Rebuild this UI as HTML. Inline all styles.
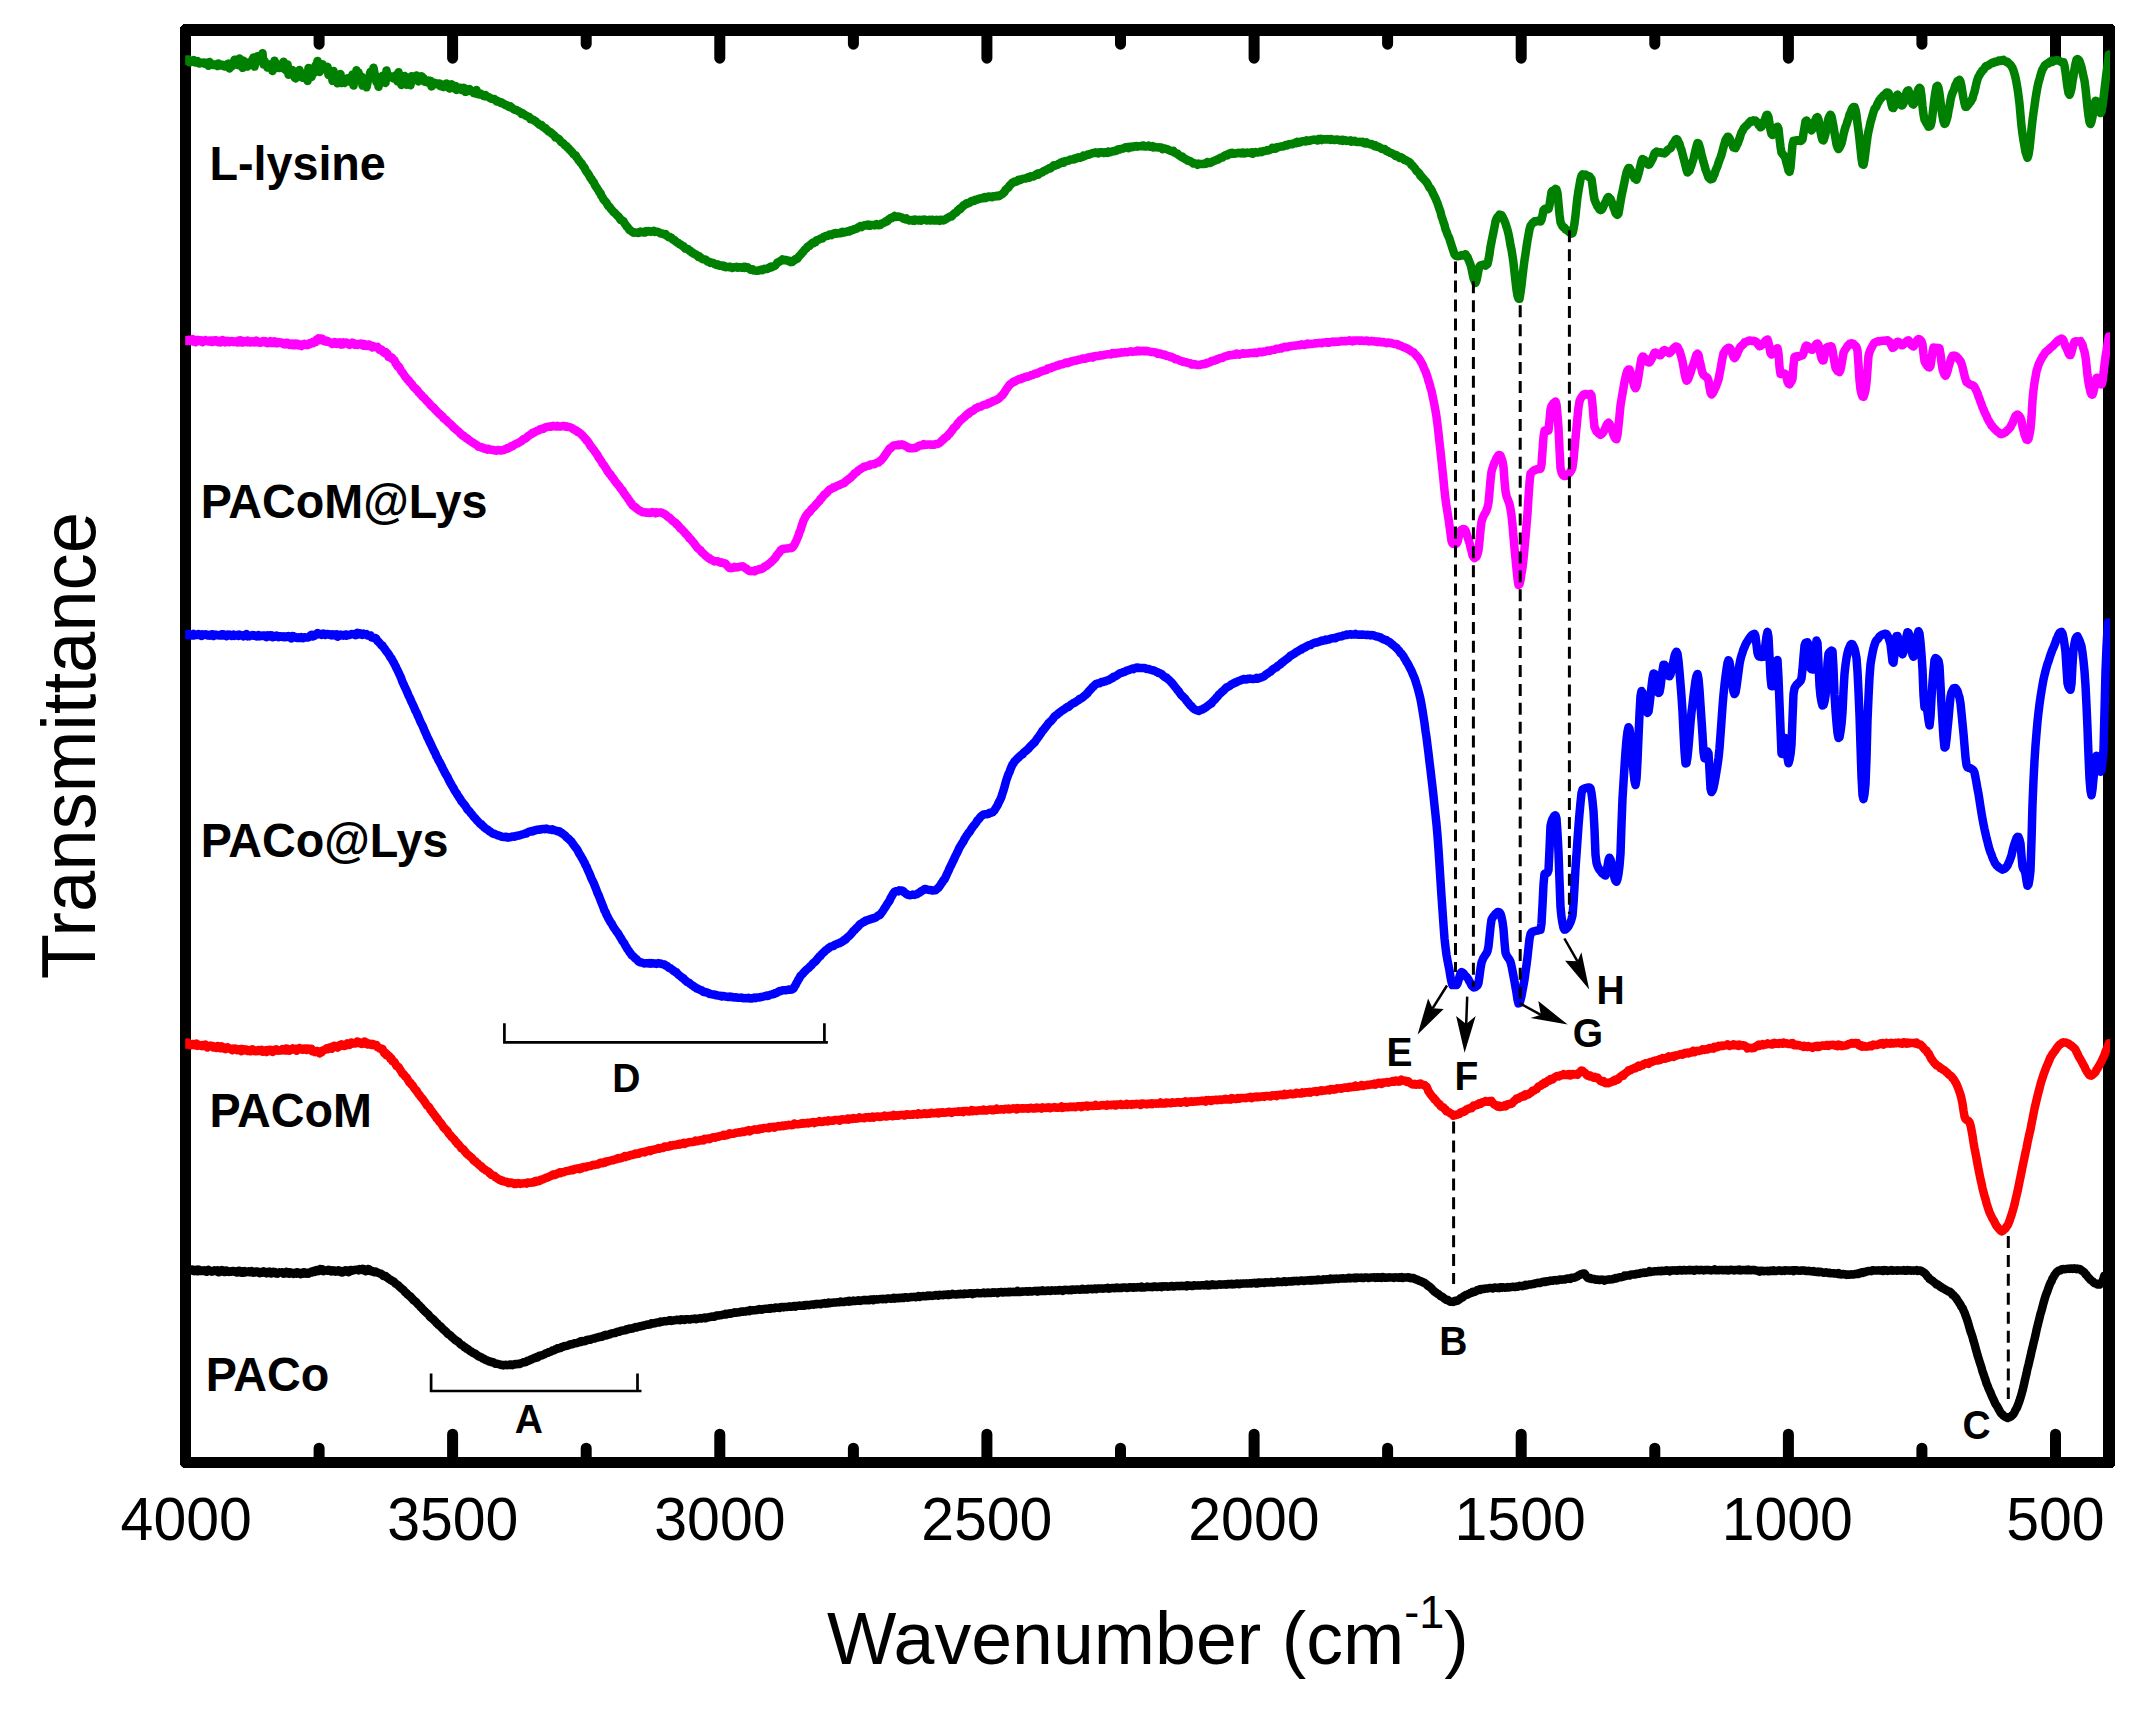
<!DOCTYPE html>
<html><head><meta charset="utf-8"><title>FTIR spectra</title>
<style>html,body{margin:0;padding:0;background:#fff}svg{display:block}text{font-family:"Liberation Sans",sans-serif;fill:#000}.b{font-weight:bold}</style></head><body>
<svg width="2146" height="1711" viewBox="0 0 2146 1711">
<rect width="2146" height="1711" fill="#fff"/>
<path fill-rule="evenodd" shape-rendering="crispEdges" d="M183 24 H2112 L2115 27 V1465 L2112 1468 H183 L180 1465 V27 Z M191 36 V1457 H2103 V36 Z" fill="#000"/>
<path d="M185.5 1462.5 V1434.2 M185.5 30.0 V58.2 M319.1 1462.5 V1448.2 M319.1 30.0 V44.2 M452.6 1462.5 V1434.2 M452.6 30.0 V58.2 M586.2 1462.5 V1448.2 M586.2 30.0 V44.2 M719.8 1462.5 V1434.2 M719.8 30.0 V58.2 M853.4 1462.5 V1448.2 M853.4 30.0 V44.2 M986.9 1462.5 V1434.2 M986.9 30.0 V58.2 M1120.5 1462.5 V1448.2 M1120.5 30.0 V44.2 M1254.1 1462.5 V1434.2 M1254.1 30.0 V58.2 M1387.6 1462.5 V1448.2 M1387.6 30.0 V44.2 M1521.2 1462.5 V1434.2 M1521.2 30.0 V58.2 M1654.8 1462.5 V1448.2 M1654.8 30.0 V44.2 M1788.4 1462.5 V1434.2 M1788.4 30.0 V58.2 M1921.9 1462.5 V1448.2 M1921.9 30.0 V44.2 M2055.5 1462.5 V1434.2 M2055.5 30.0 V58.2" stroke="#000" stroke-width="11" stroke-linecap="round" fill="none"/>
<text transform="translate(120.60 1539.80) scale(1 1.038)" font-size="59">4000</text>
<text transform="translate(387.15 1539.80) scale(1 1.038)" font-size="59">3500</text>
<text transform="translate(654.30 1539.80) scale(1 1.038)" font-size="59">3000</text>
<text transform="translate(921.14 1539.80) scale(1 1.038)" font-size="59">2500</text>
<text transform="translate(1188.29 1539.80) scale(1 1.038)" font-size="59">2000</text>
<text transform="translate(1454.54 1539.80) scale(1 1.038)" font-size="59">1500</text>
<text transform="translate(1721.69 1539.80) scale(1 1.038)" font-size="59">1000</text>
<text transform="translate(2006.23 1539.80) scale(1 1.038)" font-size="59">500</text>
<text transform="translate(826.97 1663.8) scale(1 1.012)" font-size="73.5">Wavenumber (cm<tspan font-size="45" dy="-35.8">-1</tspan><tspan dy="35.8">)</tspan></text>
<text transform="translate(95 979.28) rotate(-90) scale(1 1.012)" font-size="74.2">Transmittance</text>
<clipPath id="cp"><rect x="185.2" y="0" width="1924.8" height="1711"/></clipPath>
<g clip-path="url(#cp)" fill="none" stroke-width="8.5" stroke-linejoin="round">
<path d="M182.5 1270.2 L185.5 1270.2 L186.5 1269.9 L187.5 1270.1 L188.5 1271.3 L189.5 1270.3 L190.5 1270.7 L191.5 1269.4 L192.5 1269.4 L193.5 1271.0 L194.5 1271.2 L195.5 1271.0 L196.5 1269.7 L197.5 1271.3 L198.5 1269.5 L199.5 1270.9 L200.5 1270.3 L201.5 1271.0 L202.5 1270.8 L203.5 1271.1 L204.5 1270.3 L205.5 1270.5 L206.5 1271.8 L207.5 1270.8 L208.5 1269.9 L209.5 1270.6 L210.5 1270.8 L211.5 1271.7 L212.5 1271.5 L213.5 1271.2 L214.5 1270.3 L215.5 1270.9 L216.5 1271.0 L217.5 1270.2 L218.5 1272.3 L219.5 1271.4 L220.5 1271.7 L221.5 1270.1 L222.5 1271.6 L223.5 1270.6 L224.5 1272.1 L225.5 1271.3 L226.5 1270.6 L227.5 1271.5 L228.5 1272.0 L229.5 1271.7 L230.5 1271.2 L231.5 1271.7 L232.5 1271.0 L233.5 1271.0 L234.5 1271.8 L235.5 1271.6 L236.5 1272.4 L237.5 1272.4 L238.5 1270.8 L239.5 1270.8 L240.5 1271.5 L241.5 1272.8 L242.5 1271.2 L243.5 1272.7 L244.5 1271.1 L245.5 1272.3 L246.5 1271.7 L247.5 1272.0 L248.5 1271.4 L249.5 1272.2 L250.5 1272.3 L251.5 1271.1 L252.5 1272.6 L253.5 1272.7 L254.5 1272.5 L255.5 1271.6 L256.5 1271.4 L257.5 1271.5 L258.5 1272.6 L259.5 1273.2 L260.5 1272.2 L261.5 1272.0 L262.5 1272.8 L263.5 1271.3 L264.5 1272.3 L265.5 1272.0 L266.5 1273.4 L267.5 1271.9 L268.5 1273.0 L269.5 1271.6 L270.5 1272.7 L271.5 1273.4 L272.5 1272.2 L273.5 1271.8 L274.5 1272.0 L275.5 1273.4 L276.5 1272.6 L277.5 1273.5 L278.5 1272.6 L279.5 1272.3 L280.5 1272.5 L281.5 1272.3 L282.5 1272.3 L283.5 1273.7 L284.5 1273.6 L285.5 1272.7 L286.5 1271.8 L287.5 1273.4 L288.5 1272.3 L289.5 1273.8 L290.5 1272.4 L291.5 1272.9 L292.5 1272.9 L293.5 1273.8 L294.5 1273.1 L295.5 1272.6 L296.5 1273.8 L297.5 1272.2 L298.5 1272.9 L299.5 1272.8 L300.5 1274.1 L301.5 1273.6 L302.5 1273.8 L303.5 1272.3 L304.5 1272.2 L305.5 1273.6 L306.5 1273.7 L307.5 1272.8 L308.5 1273.5 L309.5 1272.6 L310.5 1272.7 L311.5 1271.7 L312.5 1272.4 L313.5 1271.0 L314.5 1272.0 L315.5 1270.8 L316.5 1270.1 L317.5 1271.2 L318.5 1271.1 L319.5 1270.8 L320.5 1268.9 L321.5 1270.2 L322.5 1269.3 L323.5 1271.1 L324.5 1270.8 L325.5 1270.5 L326.5 1270.3 L327.5 1270.7 L328.5 1269.8 L329.5 1270.0 L330.5 1271.2 L331.5 1271.5 L332.5 1270.4 L333.5 1271.2 L334.5 1270.4 L335.5 1271.7 L336.5 1271.5 L337.5 1271.1 L338.5 1270.2 L339.5 1271.3 L340.5 1272.2 L341.5 1271.0 L342.5 1272.5 L343.5 1271.1 L344.5 1271.6 L345.5 1270.3 L346.5 1271.3 L347.5 1270.7 L348.5 1272.2 L349.5 1271.7 L350.5 1270.0 L351.5 1270.0 L352.5 1270.7 L353.5 1270.2 L354.5 1270.1 L355.5 1269.8 L356.5 1269.8 L357.5 1269.5 L358.5 1270.4 L359.5 1269.1 L360.5 1269.5 L361.5 1269.9 L362.5 1268.7 L363.5 1269.0 L364.5 1269.4 L365.5 1271.3 L366.5 1269.7 L367.5 1270.8 L368.5 1268.9 L369.5 1270.2 L370.5 1270.8 L371.5 1271.4 L372.5 1271.0 L373.5 1271.8 L374.5 1272.2 L375.5 1271.5 L376.5 1272.1 L377.5 1272.7 L378.5 1272.9 L379.5 1273.6 L380.5 1273.5 L381.5 1274.1 L382.5 1275.1 L383.5 1276.0 L384.5 1275.8 L385.5 1276.0 L386.5 1277.2 L387.5 1277.5 L388.5 1278.7 L389.5 1279.0 L390.5 1280.0 L391.5 1280.2 L392.5 1281.2 L393.5 1281.4 L394.5 1282.3 L395.5 1283.6 L396.5 1284.2 L397.5 1284.8 L398.5 1285.6 L399.5 1286.8 L400.5 1287.6 L401.5 1288.6 L402.5 1289.3 L403.5 1290.0 L404.5 1291.4 L405.5 1292.4 L406.5 1293.1 L407.5 1294.4 L408.5 1295.1 L409.5 1296.0 L410.5 1296.4 L411.5 1298.1 L412.5 1298.7 L413.5 1300.4 L414.5 1300.8 L415.5 1301.6 L416.5 1302.5 L417.5 1303.9 L418.5 1304.8 L419.5 1305.6 L420.5 1307.0 L421.5 1307.7 L422.5 1308.9 L423.5 1309.9 L424.5 1310.9 L425.5 1311.9 L426.5 1313.0 L427.5 1313.7 L428.5 1314.6 L429.5 1316.2 L430.5 1317.4 L431.5 1317.9 L432.5 1319.0 L433.5 1319.4 L434.5 1320.8 L435.5 1321.7 L436.5 1323.1 L437.5 1323.6 L438.5 1325.0 L439.5 1325.8 L440.5 1326.3 L441.5 1327.6 L442.5 1328.6 L443.5 1329.7 L444.5 1330.2 L445.5 1331.4 L446.5 1332.1 L447.5 1333.5 L448.5 1334.4 L449.5 1334.8 L450.5 1335.5 L451.5 1336.7 L452.5 1337.4 L453.5 1338.4 L454.5 1339.3 L455.5 1340.3 L456.5 1340.6 L457.5 1341.7 L458.5 1341.9 L459.5 1343.3 L460.5 1344.2 L461.5 1344.9 L462.5 1345.3 L463.5 1346.2 L464.5 1347.3 L465.5 1347.5 L466.5 1348.7 L467.5 1348.8 L468.5 1349.8 L469.5 1350.4 L470.5 1351.3 L471.5 1351.7 L472.5 1352.6 L473.5 1353.2 L474.5 1353.3 L475.5 1353.8 L476.5 1354.9 L477.5 1355.5 L478.5 1356.4 L479.5 1356.5 L480.5 1357.1 L481.5 1357.4 L482.5 1358.5 L483.5 1358.6 L484.5 1359.1 L485.5 1359.9 L486.5 1360.1 L487.5 1360.6 L488.5 1360.8 L489.5 1361.6 L490.5 1361.4 L491.5 1362.2 L492.5 1361.9 L493.5 1362.5 L494.5 1363.3 L495.5 1363.7 L496.5 1363.6 L497.5 1363.8 L498.5 1364.1 L499.5 1364.3 L500.5 1364.6 L501.5 1365.1 L502.5 1364.9 L503.5 1365.4 L504.5 1365.0 L505.5 1364.8 L506.5 1364.9 L507.5 1365.2 L508.5 1365.0 L509.5 1364.5 L510.5 1365.0 L511.5 1364.5 L512.5 1365.1 L513.5 1364.5 L514.5 1364.4 L515.5 1363.9 L516.5 1364.3 L517.5 1363.9 L518.5 1363.8 L519.5 1364.0 L520.5 1363.6 L521.5 1363.0 L522.5 1362.7 L523.5 1362.3 L524.5 1362.3 L525.5 1362.1 L526.5 1361.6 L527.5 1360.7 L528.5 1360.8 L529.5 1360.4 L530.5 1359.6 L531.5 1359.4 L532.5 1358.7 L533.5 1358.6 L534.5 1357.8 L535.5 1358.0 L536.5 1357.1 L537.5 1357.4 L538.5 1356.6 L539.5 1355.8 L540.5 1355.4 L541.5 1355.5 L542.5 1355.2 L543.5 1354.6 L544.5 1354.2 L545.5 1353.5 L546.5 1353.1 L547.5 1352.9 L548.5 1352.2 L549.5 1352.0 L550.5 1351.7 L551.5 1351.2 L552.5 1350.5 L553.5 1350.3 L554.5 1350.2 L555.5 1349.3 L556.5 1349.2 L557.5 1348.2 L558.5 1348.4 L559.5 1348.1 L560.5 1348.1 L561.5 1347.0 L562.5 1346.9 L563.5 1346.6 L564.5 1346.0 L565.5 1346.0 L566.5 1345.8 L567.5 1345.6 L568.5 1345.2 L569.5 1344.8 L570.5 1344.2 L571.5 1344.2 L572.5 1344.3 L573.5 1343.6 L574.5 1343.2 L575.5 1343.3 L576.5 1342.9 L577.5 1342.9 L578.5 1342.3 L579.5 1342.2 L580.5 1341.4 L581.5 1341.9 L582.5 1341.0 L583.5 1341.3 L584.5 1341.2 L585.5 1340.9 L586.5 1340.1 L587.5 1339.8 L588.5 1339.9 L589.5 1339.5 L590.5 1339.7 L591.5 1339.0 L592.5 1338.7 L593.5 1338.6 L594.5 1338.5 L595.5 1337.9 L596.5 1337.7 L597.5 1337.6 L598.5 1337.1 L599.5 1336.8 L600.5 1336.9 L601.5 1336.3 L602.5 1336.6 L603.5 1335.7 L604.5 1335.3 L605.5 1334.8 L606.5 1335.4 L607.5 1334.9 L608.5 1334.5 L609.5 1334.4 L610.5 1333.7 L611.5 1333.6 L612.5 1333.2 L613.5 1333.2 L614.5 1332.7 L615.5 1332.9 L616.5 1332.1 L617.5 1331.7 L618.5 1331.8 L619.5 1331.7 L620.5 1331.0 L621.5 1330.8 L622.5 1330.4 L623.5 1330.4 L624.5 1330.3 L625.5 1330.3 L626.5 1329.3 L627.5 1329.5 L628.5 1328.9 L629.5 1328.6 L630.5 1328.5 L631.5 1328.7 L632.5 1328.5 L633.5 1327.8 L634.5 1327.8 L635.5 1327.0 L636.5 1327.5 L637.5 1327.1 L638.5 1326.7 L639.5 1326.2 L640.5 1326.5 L641.5 1326.2 L642.5 1325.8 L643.5 1325.7 L644.5 1325.3 L645.5 1324.9 L646.5 1324.9 L647.5 1324.4 L648.5 1324.7 L649.5 1324.5 L650.5 1324.3 L651.5 1323.3 L652.5 1323.4 L653.5 1323.4 L654.5 1323.1 L655.5 1323.2 L656.5 1322.6 L657.5 1322.6 L658.5 1322.2 L659.5 1322.4 L660.5 1321.6 L661.5 1321.9 L662.5 1321.7 L663.5 1321.3 L664.5 1321.1 L665.5 1321.3 L666.5 1321.2 L667.5 1321.0 L668.5 1320.7 L669.5 1320.3 L670.5 1320.2 L671.5 1320.9 L672.5 1320.4 L673.5 1320.4 L674.5 1320.3 L675.5 1320.1 L676.5 1319.8 L677.5 1319.8 L678.5 1320.1 L679.5 1319.7 L680.5 1320.2 L681.5 1319.3 L682.5 1319.6 L683.5 1319.6 L684.5 1319.9 L685.5 1319.2 L686.5 1319.2 L687.5 1319.3 L688.5 1319.3 L689.5 1319.5 L690.5 1319.4 L691.5 1319.0 L692.5 1319.1 L693.5 1318.8 L694.5 1318.6 L695.5 1318.7 L696.5 1319.3 L697.5 1318.8 L698.5 1318.4 L699.5 1318.5 L700.5 1318.1 L701.5 1318.5 L702.5 1318.1 L703.5 1318.1 L704.5 1317.5 L705.5 1318.2 L706.5 1317.5 L707.5 1317.5 L708.5 1317.4 L709.5 1317.2 L710.5 1316.8 L711.5 1316.6 L712.5 1316.7 L713.5 1316.6 L714.5 1316.7 L715.5 1316.2 L716.5 1315.4 L717.5 1315.6 L718.5 1315.6 L719.5 1315.4 L720.5 1315.2 L721.5 1315.1 L722.5 1314.8 L723.5 1314.4 L724.5 1314.6 L725.5 1313.8 L726.5 1314.4 L727.5 1313.8 L728.5 1313.7 L729.5 1313.2 L730.5 1313.8 L731.5 1313.4 L732.5 1313.0 L733.5 1312.9 L734.5 1312.3 L735.5 1312.6 L736.5 1312.7 L737.5 1312.5 L738.5 1312.2 L739.5 1312.3 L740.5 1311.9 L741.5 1311.4 L742.5 1311.6 L743.5 1311.7 L744.5 1311.4 L745.5 1311.5 L746.5 1310.9 L747.5 1311.1 L748.5 1310.9 L749.5 1311.2 L750.5 1310.1 L751.5 1310.5 L752.5 1310.3 L753.5 1310.3 L754.5 1310.3 L755.5 1310.2 L756.5 1310.0 L757.5 1309.6 L758.5 1309.7 L759.5 1309.1 L760.5 1309.6 L761.5 1309.7 L762.5 1309.3 L763.5 1308.9 L764.5 1308.9 L765.5 1308.8 L766.5 1308.8 L767.5 1308.7 L768.5 1308.6 L769.5 1308.2 L770.5 1308.8 L771.5 1308.1 L772.5 1308.3 L773.5 1308.1 L774.5 1308.2 L775.5 1307.4 L776.5 1307.6 L777.5 1307.8 L778.5 1307.7 L779.5 1308.0 L780.5 1307.2 L781.5 1307.1 L782.5 1307.0 L783.5 1307.4 L784.5 1306.9 L785.5 1307.1 L786.5 1307.1 L787.5 1306.8 L788.5 1306.6 L789.5 1306.7 L790.5 1306.4 L791.5 1306.7 L792.5 1306.4 L793.5 1306.2 L794.5 1305.9 L795.5 1306.7 L796.5 1306.1 L797.5 1306.0 L798.5 1305.7 L799.5 1305.6 L800.5 1305.7 L801.5 1305.7 L802.5 1305.8 L803.5 1305.3 L804.5 1305.8 L805.5 1304.9 L806.5 1304.9 L807.5 1305.0 L808.5 1305.3 L809.5 1304.9 L810.5 1304.8 L811.5 1304.6 L812.5 1304.5 L813.5 1304.7 L814.5 1304.6 L815.5 1303.9 L816.5 1304.2 L817.5 1304.1 L818.5 1304.1 L819.5 1303.9 L820.5 1304.2 L821.5 1303.8 L822.5 1303.4 L823.5 1303.5 L824.5 1303.0 L825.5 1303.7 L826.5 1303.5 L827.5 1303.4 L828.5 1302.6 L829.5 1303.2 L830.5 1302.8 L831.5 1302.8 L832.5 1302.7 L833.5 1302.6 L834.5 1302.5 L835.5 1302.6 L836.5 1302.4 L837.5 1302.2 L838.5 1302.3 L839.5 1302.2 L840.5 1301.5 L841.5 1301.9 L842.5 1302.0 L843.5 1302.0 L844.5 1301.9 L845.5 1301.5 L846.5 1301.3 L847.5 1301.1 L848.5 1301.7 L849.5 1300.9 L850.5 1301.5 L851.5 1301.2 L852.5 1301.1 L853.5 1300.6 L854.5 1301.0 L855.5 1300.9 L856.5 1300.8 L857.5 1300.7 L858.5 1300.3 L859.5 1300.5 L860.5 1300.9 L861.5 1300.5 L862.5 1300.2 L863.5 1300.1 L864.5 1300.2 L865.5 1299.9 L866.5 1300.2 L867.5 1300.2 L868.5 1299.9 L869.5 1300.2 L870.5 1299.4 L871.5 1299.6 L872.5 1299.5 L873.5 1300.2 L874.5 1299.3 L875.5 1299.5 L876.5 1299.3 L877.5 1299.4 L878.5 1299.4 L879.5 1299.2 L880.5 1299.0 L881.5 1298.9 L882.5 1299.2 L883.5 1298.8 L884.5 1299.0 L885.5 1299.2 L886.5 1298.8 L887.5 1298.4 L888.5 1298.4 L889.5 1298.5 L890.5 1298.8 L891.5 1298.7 L892.5 1298.5 L893.5 1297.8 L894.5 1298.6 L895.5 1297.9 L896.5 1298.2 L897.5 1297.9 L898.5 1298.2 L899.5 1297.8 L900.5 1297.9 L901.5 1297.9 L902.5 1297.6 L903.5 1298.0 L904.5 1297.4 L905.5 1297.2 L906.5 1297.3 L907.5 1297.8 L908.5 1297.5 L909.5 1297.3 L910.5 1297.2 L911.5 1296.9 L912.5 1296.9 L913.5 1297.1 L914.5 1296.7 L915.5 1297.2 L916.5 1296.8 L917.5 1296.8 L918.5 1296.1 L919.5 1296.9 L920.5 1296.4 L921.5 1296.4 L922.5 1296.2 L923.5 1296.0 L924.5 1296.3 L925.5 1296.3 L926.5 1296.3 L927.5 1295.6 L928.5 1296.0 L929.5 1295.6 L930.5 1295.6 L931.5 1295.8 L932.5 1295.9 L933.5 1295.7 L934.5 1295.5 L935.5 1295.1 L936.5 1295.1 L937.5 1295.3 L938.5 1295.7 L939.5 1294.8 L940.5 1295.2 L941.5 1295.0 L942.5 1295.2 L943.5 1294.8 L944.5 1294.9 L945.5 1294.7 L946.5 1294.6 L947.5 1294.9 L948.5 1294.3 L949.5 1294.9 L950.5 1294.7 L951.5 1294.6 L952.5 1293.8 L953.5 1294.3 L954.5 1294.3 L955.5 1294.4 L956.5 1294.5 L957.5 1294.1 L958.5 1293.9 L959.5 1294.2 L960.5 1293.8 L961.5 1293.9 L962.5 1293.9 L963.5 1294.2 L964.5 1293.5 L965.5 1293.9 L966.5 1293.7 L967.5 1293.8 L968.5 1293.8 L969.5 1293.3 L970.5 1293.3 L971.5 1293.3 L972.5 1294.1 L973.5 1293.3 L974.5 1293.6 L975.5 1293.2 L976.5 1293.2 L977.5 1293.0 L978.5 1293.2 L979.5 1293.2 L980.5 1293.3 L981.5 1293.3 L982.5 1292.8 L983.5 1292.6 L984.5 1293.3 L985.5 1292.9 L986.5 1292.9 L987.5 1292.6 L988.5 1292.9 L989.5 1292.8 L990.5 1293.0 L991.5 1292.8 L992.5 1292.3 L993.5 1292.8 L994.5 1292.2 L995.5 1292.5 L996.5 1292.4 L997.5 1293.1 L998.5 1292.3 L999.5 1292.3 L1000.5 1292.0 L1001.5 1292.1 L1002.5 1292.4 L1003.5 1292.4 L1004.5 1292.0 L1005.5 1292.1 L1006.5 1292.3 L1007.5 1292.1 L1008.5 1291.8 L1009.5 1292.2 L1010.5 1291.8 L1011.5 1291.9 L1012.5 1291.9 L1013.5 1291.8 L1014.5 1292.1 L1015.5 1292.0 L1016.5 1291.9 L1017.5 1291.0 L1018.5 1291.9 L1019.5 1291.6 L1020.5 1291.9 L1021.5 1291.6 L1022.5 1291.7 L1023.5 1291.4 L1024.5 1291.5 L1025.5 1291.4 L1026.5 1291.2 L1027.5 1291.7 L1028.5 1291.6 L1029.5 1291.1 L1030.5 1291.3 L1031.5 1291.4 L1032.5 1291.4 L1033.5 1291.2 L1034.5 1291.0 L1035.5 1290.8 L1036.5 1291.1 L1037.5 1291.6 L1038.5 1290.9 L1039.5 1291.3 L1040.5 1290.8 L1041.5 1291.0 L1042.5 1290.4 L1043.5 1291.1 L1044.5 1290.9 L1045.5 1291.1 L1046.5 1290.9 L1047.5 1290.5 L1048.5 1290.6 L1049.5 1290.8 L1050.5 1290.9 L1051.5 1290.3 L1052.5 1290.6 L1053.5 1290.6 L1054.5 1290.5 L1055.5 1290.7 L1056.5 1290.5 L1057.5 1290.3 L1058.5 1290.4 L1059.5 1290.1 L1060.5 1290.2 L1061.5 1290.3 L1062.5 1290.9 L1063.5 1289.9 L1064.5 1290.1 L1065.5 1289.7 L1066.5 1290.1 L1067.5 1290.0 L1068.5 1290.2 L1069.5 1289.9 L1070.5 1289.8 L1071.5 1290.2 L1072.5 1289.5 L1073.5 1289.7 L1074.5 1289.8 L1075.5 1289.7 L1076.5 1289.4 L1077.5 1289.5 L1078.5 1289.6 L1079.5 1289.7 L1080.5 1289.7 L1081.5 1289.2 L1082.5 1288.8 L1083.5 1289.4 L1084.5 1289.2 L1085.5 1289.5 L1086.5 1289.1 L1087.5 1289.5 L1088.5 1288.7 L1089.5 1289.0 L1090.5 1288.8 L1091.5 1288.8 L1092.5 1289.2 L1093.5 1288.9 L1094.5 1288.7 L1095.5 1288.5 L1096.5 1289.2 L1097.5 1288.6 L1098.5 1288.6 L1099.5 1288.4 L1100.5 1288.4 L1101.5 1288.5 L1102.5 1288.7 L1103.5 1288.4 L1104.5 1288.4 L1105.5 1288.3 L1106.5 1288.2 L1107.5 1287.7 L1108.5 1288.6 L1109.5 1288.3 L1110.5 1288.5 L1111.5 1288.0 L1112.5 1288.0 L1113.5 1287.9 L1114.5 1288.2 L1115.5 1288.1 L1116.5 1287.5 L1117.5 1288.1 L1118.5 1287.8 L1119.5 1288.0 L1120.5 1287.7 L1121.5 1288.0 L1122.5 1287.6 L1123.5 1287.6 L1124.5 1287.5 L1125.5 1287.5 L1126.5 1287.9 L1127.5 1288.1 L1128.5 1287.4 L1129.5 1287.3 L1130.5 1287.3 L1131.5 1287.6 L1132.5 1287.3 L1133.5 1287.7 L1134.5 1287.3 L1135.5 1287.4 L1136.5 1287.5 L1137.5 1287.1 L1138.5 1287.3 L1139.5 1287.3 L1140.5 1287.4 L1141.5 1286.6 L1142.5 1287.4 L1143.5 1287.2 L1144.5 1287.5 L1145.5 1287.2 L1146.5 1286.9 L1147.5 1286.6 L1148.5 1287.0 L1149.5 1287.1 L1150.5 1286.9 L1151.5 1287.1 L1152.5 1287.2 L1153.5 1286.5 L1154.5 1286.7 L1155.5 1286.6 L1156.5 1286.9 L1157.5 1286.9 L1158.5 1286.8 L1159.5 1286.5 L1160.5 1286.5 L1161.5 1287.1 L1162.5 1286.3 L1163.5 1286.6 L1164.5 1286.2 L1165.5 1286.6 L1166.5 1286.3 L1167.5 1286.8 L1168.5 1286.4 L1169.5 1286.4 L1170.5 1286.4 L1171.5 1285.9 L1172.5 1285.9 L1173.5 1286.5 L1174.5 1286.5 L1175.5 1286.2 L1176.5 1286.0 L1177.5 1286.1 L1178.5 1285.9 L1179.5 1286.2 L1180.5 1286.0 L1181.5 1285.7 L1182.5 1286.1 L1183.5 1285.9 L1184.5 1286.0 L1185.5 1285.7 L1186.5 1286.3 L1187.5 1285.4 L1188.5 1285.7 L1189.5 1285.4 L1190.5 1285.8 L1191.5 1285.9 L1192.5 1286.0 L1193.5 1285.4 L1194.5 1285.2 L1195.5 1285.6 L1196.5 1285.4 L1197.5 1285.4 L1198.5 1285.6 L1199.5 1285.4 L1200.5 1285.4 L1201.5 1285.3 L1202.5 1285.2 L1203.5 1285.2 L1204.5 1285.4 L1205.5 1285.2 L1206.5 1284.6 L1207.5 1285.4 L1208.5 1285.1 L1209.5 1285.4 L1210.5 1284.7 L1211.5 1285.0 L1212.5 1284.4 L1213.5 1285.0 L1214.5 1284.9 L1215.5 1284.7 L1216.5 1285.1 L1217.5 1284.8 L1218.5 1284.5 L1219.5 1284.2 L1220.5 1284.7 L1221.5 1284.6 L1222.5 1284.6 L1223.5 1284.5 L1224.5 1284.2 L1225.5 1284.5 L1226.5 1284.7 L1227.5 1284.1 L1228.5 1284.1 L1229.5 1284.1 L1230.5 1284.3 L1231.5 1283.8 L1232.5 1284.5 L1233.5 1284.0 L1234.5 1284.2 L1235.5 1283.8 L1236.5 1283.6 L1237.5 1283.6 L1238.5 1284.1 L1239.5 1284.2 L1240.5 1283.5 L1241.5 1283.8 L1242.5 1283.5 L1243.5 1283.6 L1244.5 1283.5 L1245.5 1283.5 L1246.5 1283.3 L1247.5 1283.5 L1248.5 1283.5 L1249.5 1283.2 L1250.5 1283.3 L1251.5 1283.6 L1252.5 1282.9 L1253.5 1283.0 L1254.5 1282.8 L1255.5 1283.4 L1256.5 1283.1 L1257.5 1283.4 L1258.5 1282.6 L1259.5 1282.6 L1260.5 1282.9 L1261.5 1282.6 L1262.5 1282.8 L1263.5 1282.8 L1264.5 1283.0 L1265.5 1282.3 L1266.5 1282.6 L1267.5 1282.3 L1268.5 1282.5 L1269.5 1282.6 L1270.5 1282.2 L1271.5 1281.9 L1272.5 1282.4 L1273.5 1282.5 L1274.5 1282.3 L1275.5 1281.9 L1276.5 1282.1 L1277.5 1281.5 L1278.5 1282.1 L1279.5 1281.8 L1280.5 1282.0 L1281.5 1282.0 L1282.5 1281.9 L1283.5 1281.4 L1284.5 1281.2 L1285.5 1282.0 L1286.5 1281.4 L1287.5 1281.7 L1288.5 1281.2 L1289.5 1281.5 L1290.5 1281.3 L1291.5 1281.6 L1292.5 1281.1 L1293.5 1281.0 L1294.5 1281.2 L1295.5 1281.0 L1296.5 1280.8 L1297.5 1281.3 L1298.5 1281.1 L1299.5 1281.0 L1300.5 1280.5 L1301.5 1280.6 L1302.5 1280.4 L1303.5 1281.1 L1304.5 1280.9 L1305.5 1280.4 L1306.5 1280.6 L1307.5 1280.3 L1308.5 1280.5 L1309.5 1280.1 L1310.5 1280.6 L1311.5 1280.0 L1312.5 1280.4 L1313.5 1280.1 L1314.5 1280.0 L1315.5 1280.2 L1316.5 1280.3 L1317.5 1279.7 L1318.5 1279.5 L1319.5 1279.9 L1320.5 1280.0 L1321.5 1279.8 L1322.5 1279.9 L1323.5 1279.3 L1324.5 1279.4 L1325.5 1279.4 L1326.5 1279.3 L1327.5 1279.3 L1328.5 1279.6 L1329.5 1279.6 L1330.5 1278.7 L1331.5 1279.3 L1332.5 1278.8 L1333.5 1279.3 L1334.5 1278.8 L1335.5 1278.9 L1336.5 1278.5 L1337.5 1279.0 L1338.5 1279.0 L1339.5 1278.5 L1340.5 1278.6 L1341.5 1278.5 L1342.5 1278.3 L1343.5 1278.3 L1344.5 1278.5 L1345.5 1278.6 L1346.5 1278.4 L1347.5 1278.3 L1348.5 1277.7 L1349.5 1277.9 L1350.5 1278.4 L1351.5 1278.0 L1352.5 1278.1 L1353.5 1277.8 L1354.5 1278.2 L1355.5 1277.6 L1356.5 1278.2 L1357.5 1277.5 L1358.5 1277.8 L1359.5 1277.8 L1360.5 1277.7 L1361.5 1277.6 L1362.5 1278.0 L1363.5 1278.1 L1364.5 1277.5 L1365.5 1277.5 L1366.5 1277.4 L1367.5 1277.6 L1368.5 1278.0 L1369.5 1277.8 L1370.5 1277.5 L1371.5 1277.6 L1372.5 1277.6 L1373.5 1277.4 L1374.5 1277.3 L1375.5 1277.9 L1376.5 1277.3 L1377.5 1277.7 L1378.5 1277.3 L1379.5 1277.7 L1380.5 1277.5 L1381.5 1277.9 L1382.5 1277.1 L1383.5 1277.2 L1384.5 1277.7 L1385.5 1277.6 L1386.5 1277.8 L1387.5 1277.6 L1388.5 1277.6 L1389.5 1277.2 L1390.5 1277.5 L1391.5 1277.4 L1392.5 1277.5 L1393.5 1277.9 L1394.5 1277.6 L1395.5 1277.2 L1396.5 1277.5 L1397.5 1277.6 L1398.5 1277.7 L1399.5 1277.3 L1400.5 1277.7 L1401.5 1277.1 L1402.5 1278.0 L1403.5 1277.6 L1404.5 1277.5 L1405.5 1277.5 L1406.5 1277.5 L1407.5 1277.3 L1408.5 1277.2 L1409.5 1278.0 L1410.5 1277.8 L1411.5 1278.2 L1412.5 1278.0 L1413.5 1278.1 L1414.5 1278.6 L1415.5 1279.4 L1416.5 1279.5 L1417.5 1279.7 L1418.5 1280.4 L1419.5 1280.9 L1420.5 1280.9 L1421.5 1281.8 L1422.5 1281.8 L1423.5 1282.6 L1424.5 1282.9 L1425.5 1283.7 L1426.5 1284.2 L1427.5 1285.6 L1428.5 1286.3 L1429.5 1286.5 L1430.5 1287.6 L1431.5 1288.4 L1432.5 1289.7 L1433.5 1290.5 L1434.5 1291.7 L1435.5 1292.0 L1436.5 1293.1 L1437.5 1293.8 L1438.5 1294.2 L1439.5 1295.1 L1440.5 1296.1 L1441.5 1296.4 L1442.5 1297.0 L1443.5 1297.7 L1444.5 1298.7 L1445.5 1299.1 L1446.5 1300.0 L1447.5 1299.7 L1448.5 1300.6 L1449.5 1301.3 L1450.5 1301.7 L1451.5 1301.7 L1452.5 1301.8 L1453.5 1301.9 L1454.5 1301.0 L1455.5 1301.3 L1456.5 1300.6 L1457.5 1300.7 L1458.5 1300.0 L1459.5 1299.3 L1460.5 1298.1 L1461.5 1297.9 L1462.5 1297.4 L1463.5 1296.4 L1464.5 1295.8 L1465.5 1295.3 L1466.5 1294.7 L1467.5 1294.6 L1468.5 1294.0 L1469.5 1293.6 L1470.5 1293.0 L1471.5 1292.8 L1472.5 1291.9 L1473.5 1291.7 L1474.5 1291.9 L1475.5 1291.2 L1476.5 1290.9 L1477.5 1290.0 L1478.5 1290.0 L1479.5 1289.4 L1480.5 1289.9 L1481.5 1289.0 L1482.5 1289.0 L1483.5 1289.0 L1484.5 1288.8 L1485.5 1288.4 L1486.5 1288.5 L1487.5 1288.5 L1488.5 1288.2 L1489.5 1288.1 L1490.5 1288.1 L1491.5 1288.0 L1492.5 1288.5 L1493.5 1288.1 L1494.5 1287.6 L1495.5 1287.6 L1496.5 1287.8 L1497.5 1287.9 L1498.5 1287.7 L1499.5 1288.1 L1500.5 1287.4 L1501.5 1287.8 L1502.5 1287.2 L1503.5 1287.4 L1504.5 1287.4 L1505.5 1287.8 L1506.5 1287.3 L1507.5 1287.1 L1508.5 1287.4 L1509.5 1287.3 L1510.5 1287.2 L1511.5 1287.0 L1512.5 1286.7 L1513.5 1286.7 L1514.5 1287.0 L1515.5 1286.9 L1516.5 1286.6 L1517.5 1286.8 L1518.5 1286.4 L1519.5 1285.8 L1520.5 1286.0 L1521.5 1285.9 L1522.5 1286.2 L1523.5 1285.6 L1524.5 1285.7 L1525.5 1284.8 L1526.5 1285.4 L1527.5 1285.0 L1528.5 1284.7 L1529.5 1284.5 L1530.5 1284.5 L1531.5 1284.3 L1532.5 1284.0 L1533.5 1284.1 L1534.5 1283.6 L1535.5 1283.5 L1536.5 1283.2 L1537.5 1282.7 L1538.5 1282.8 L1539.5 1283.1 L1540.5 1282.8 L1541.5 1282.2 L1542.5 1281.9 L1543.5 1281.9 L1544.5 1281.5 L1545.5 1282.0 L1546.5 1281.2 L1547.5 1281.5 L1548.5 1281.1 L1549.5 1281.1 L1550.5 1280.5 L1551.5 1280.8 L1552.5 1280.8 L1553.5 1280.2 L1554.5 1280.3 L1555.5 1280.1 L1556.5 1280.4 L1557.5 1280.3 L1558.5 1280.1 L1559.5 1279.4 L1560.5 1279.5 L1561.5 1279.7 L1562.5 1279.4 L1563.5 1279.4 L1564.5 1279.6 L1565.5 1279.0 L1566.5 1278.9 L1567.5 1278.4 L1568.5 1278.7 L1569.5 1278.3 L1570.5 1278.8 L1571.5 1277.8 L1572.5 1277.8 L1573.5 1277.8 L1574.5 1277.6 L1575.5 1277.2 L1576.5 1276.7 L1577.5 1276.3 L1578.5 1275.4 L1579.5 1275.3 L1580.5 1274.3 L1581.5 1274.0 L1582.5 1273.7 L1583.5 1273.5 L1584.5 1273.6 L1585.5 1274.9 L1586.5 1276.5 L1587.5 1277.6 L1588.5 1278.1 L1589.5 1278.4 L1590.5 1278.1 L1591.5 1279.0 L1592.5 1278.8 L1593.5 1279.1 L1594.5 1279.0 L1595.5 1279.7 L1596.5 1279.4 L1597.5 1279.5 L1598.5 1280.0 L1599.5 1279.7 L1600.5 1280.0 L1601.5 1279.5 L1602.5 1279.8 L1603.5 1279.8 L1604.5 1280.6 L1605.5 1280.0 L1606.5 1279.7 L1607.5 1279.7 L1608.5 1279.6 L1609.5 1279.3 L1610.5 1279.5 L1611.5 1279.2 L1612.5 1279.2 L1613.5 1278.8 L1614.5 1278.7 L1615.5 1278.0 L1616.5 1278.5 L1617.5 1278.0 L1618.5 1277.5 L1619.5 1277.2 L1620.5 1277.2 L1621.5 1277.2 L1622.5 1276.7 L1623.5 1276.7 L1624.5 1275.6 L1625.5 1276.0 L1626.5 1275.6 L1627.5 1275.5 L1628.5 1275.3 L1629.5 1275.5 L1630.5 1274.9 L1631.5 1274.4 L1632.5 1274.4 L1633.5 1274.4 L1634.5 1274.3 L1635.5 1274.4 L1636.5 1273.7 L1637.5 1273.7 L1638.5 1273.7 L1639.5 1273.7 L1640.5 1273.0 L1641.5 1273.1 L1642.5 1273.0 L1643.5 1272.5 L1644.5 1272.9 L1645.5 1272.4 L1646.5 1272.7 L1647.5 1272.2 L1648.5 1272.2 L1649.5 1271.2 L1650.5 1271.8 L1651.5 1271.9 L1652.5 1271.7 L1653.5 1271.5 L1654.5 1271.3 L1655.5 1271.2 L1656.5 1271.2 L1657.5 1271.2 L1658.5 1270.9 L1659.5 1270.9 L1660.5 1271.3 L1661.5 1270.7 L1662.5 1270.8 L1663.5 1271.1 L1664.5 1270.9 L1665.5 1270.7 L1666.5 1270.3 L1667.5 1270.7 L1668.5 1270.5 L1669.5 1271.3 L1670.5 1270.4 L1671.5 1270.5 L1672.5 1270.3 L1673.5 1270.5 L1674.5 1270.2 L1675.5 1270.5 L1676.5 1270.7 L1677.5 1270.3 L1678.5 1270.4 L1679.5 1270.1 L1680.5 1270.1 L1681.5 1270.5 L1682.5 1270.4 L1683.5 1269.9 L1684.5 1270.0 L1685.5 1270.4 L1686.5 1270.3 L1687.5 1270.2 L1688.5 1270.3 L1689.5 1269.7 L1690.5 1270.2 L1691.5 1269.9 L1692.5 1270.3 L1693.5 1270.0 L1694.5 1270.7 L1695.5 1269.9 L1696.5 1269.8 L1697.5 1269.9 L1698.5 1270.1 L1699.5 1270.2 L1700.5 1270.1 L1701.5 1270.1 L1702.5 1269.9 L1703.5 1270.4 L1704.5 1270.1 L1705.5 1269.9 L1706.5 1270.1 L1707.5 1270.1 L1708.5 1269.9 L1709.5 1270.1 L1710.5 1270.3 L1711.5 1270.4 L1712.5 1270.0 L1713.5 1270.1 L1714.5 1269.4 L1715.5 1270.3 L1716.5 1270.2 L1717.5 1270.3 L1718.5 1269.9 L1719.5 1270.2 L1720.5 1270.0 L1721.5 1269.9 L1722.5 1270.2 L1723.5 1269.9 L1724.5 1270.3 L1725.5 1270.1 L1726.5 1270.0 L1727.5 1269.9 L1728.5 1270.5 L1729.5 1270.2 L1730.5 1269.8 L1731.5 1269.8 L1732.5 1270.0 L1733.5 1270.1 L1734.5 1270.5 L1735.5 1270.0 L1736.5 1270.1 L1737.5 1269.8 L1738.5 1270.2 L1739.5 1269.6 L1740.5 1270.4 L1741.5 1270.3 L1742.5 1270.1 L1743.5 1270.0 L1744.5 1269.9 L1745.5 1270.2 L1746.5 1270.1 L1747.5 1270.3 L1748.5 1269.6 L1749.5 1270.1 L1750.5 1270.3 L1751.5 1270.2 L1752.5 1270.0 L1753.5 1270.2 L1754.5 1270.1 L1755.5 1270.2 L1756.5 1270.5 L1757.5 1270.9 L1758.5 1271.0 L1759.5 1271.6 L1760.5 1270.7 L1761.5 1270.8 L1762.5 1270.8 L1763.5 1271.3 L1764.5 1270.9 L1765.5 1271.0 L1766.5 1271.0 L1767.5 1270.7 L1768.5 1271.3 L1769.5 1270.7 L1770.5 1270.9 L1771.5 1270.7 L1772.5 1271.0 L1773.5 1270.4 L1774.5 1270.9 L1775.5 1271.1 L1776.5 1271.0 L1777.5 1270.7 L1778.5 1270.5 L1779.5 1270.3 L1780.5 1270.8 L1781.5 1270.9 L1782.5 1270.8 L1783.5 1270.4 L1784.5 1270.9 L1785.5 1270.3 L1786.5 1270.4 L1787.5 1270.6 L1788.5 1270.5 L1789.5 1270.7 L1790.5 1270.4 L1791.5 1270.6 L1792.5 1270.2 L1793.5 1271.1 L1794.5 1270.3 L1795.5 1270.2 L1796.5 1270.2 L1797.5 1270.6 L1798.5 1270.6 L1799.5 1270.8 L1800.5 1270.7 L1801.5 1270.4 L1802.5 1270.6 L1803.5 1270.6 L1804.5 1270.4 L1805.5 1271.1 L1806.5 1271.1 L1807.5 1271.0 L1808.5 1270.7 L1809.5 1271.1 L1810.5 1271.2 L1811.5 1271.2 L1812.5 1271.5 L1813.5 1271.0 L1814.5 1271.7 L1815.5 1271.7 L1816.5 1272.0 L1817.5 1271.6 L1818.5 1272.2 L1819.5 1271.8 L1820.5 1271.8 L1821.5 1272.2 L1822.5 1272.4 L1823.5 1272.7 L1824.5 1272.7 L1825.5 1272.4 L1826.5 1272.3 L1827.5 1272.8 L1828.5 1273.1 L1829.5 1272.8 L1830.5 1273.2 L1831.5 1273.2 L1832.5 1273.2 L1833.5 1273.4 L1834.5 1273.3 L1835.5 1273.6 L1836.5 1273.4 L1837.5 1273.9 L1838.5 1273.2 L1839.5 1274.2 L1840.5 1274.3 L1841.5 1274.4 L1842.5 1273.9 L1843.5 1274.1 L1844.5 1274.2 L1845.5 1274.4 L1846.5 1274.9 L1847.5 1274.5 L1848.5 1274.7 L1849.5 1274.7 L1850.5 1274.4 L1851.5 1274.3 L1852.5 1274.6 L1853.5 1274.6 L1854.5 1274.2 L1855.5 1274.0 L1856.5 1273.9 L1857.5 1273.6 L1858.5 1274.0 L1859.5 1273.0 L1860.5 1272.9 L1861.5 1272.4 L1862.5 1272.9 L1863.5 1272.1 L1864.5 1272.4 L1865.5 1271.9 L1866.5 1271.5 L1867.5 1271.3 L1868.5 1270.9 L1869.5 1270.9 L1870.5 1271.0 L1871.5 1271.2 L1872.5 1270.3 L1873.5 1270.3 L1874.5 1270.6 L1875.5 1270.5 L1876.5 1270.4 L1877.5 1270.5 L1878.5 1270.3 L1879.5 1270.6 L1880.5 1270.6 L1881.5 1270.7 L1882.5 1270.2 L1883.5 1270.9 L1884.5 1270.1 L1885.5 1270.3 L1886.5 1270.3 L1887.5 1270.9 L1888.5 1270.7 L1889.5 1270.6 L1890.5 1270.4 L1891.5 1270.0 L1892.5 1270.7 L1893.5 1270.4 L1894.5 1270.5 L1895.5 1270.5 L1896.5 1270.7 L1897.5 1270.3 L1898.5 1270.4 L1899.5 1270.6 L1900.5 1270.5 L1901.5 1270.5 L1902.5 1270.5 L1903.5 1270.1 L1904.5 1270.8 L1905.5 1270.8 L1906.5 1270.7 L1907.5 1270.0 L1908.5 1270.6 L1909.5 1270.2 L1910.5 1270.6 L1911.5 1270.7 L1912.5 1270.5 L1913.5 1270.7 L1914.5 1270.4 L1915.5 1270.5 L1916.5 1270.1 L1917.5 1270.9 L1918.5 1270.6 L1919.5 1270.5 L1920.5 1270.5 L1921.5 1271.0 L1922.5 1271.6 L1923.5 1272.4 L1924.5 1273.0 L1925.5 1273.9 L1926.5 1275.2 L1927.5 1276.7 L1928.5 1277.3 L1929.5 1278.9 L1930.5 1279.6 L1931.5 1280.3 L1932.5 1280.7 L1933.5 1281.7 L1934.5 1282.5 L1935.5 1283.4 L1936.5 1284.4 L1937.5 1284.2 L1938.5 1285.4 L1939.5 1285.9 L1940.5 1286.9 L1941.5 1287.0 L1942.5 1288.1 L1943.5 1288.5 L1944.5 1289.1 L1945.5 1289.8 L1946.5 1290.2 L1947.5 1290.8 L1948.5 1291.5 L1949.5 1291.6 L1950.5 1292.3 L1951.5 1293.3 L1952.5 1294.7 L1953.5 1295.1 L1954.5 1296.4 L1955.5 1297.3 L1956.5 1298.6 L1957.5 1300.4 L1958.5 1301.6 L1959.5 1303.3 L1960.5 1304.7 L1961.5 1306.9 L1962.5 1307.8 L1963.5 1310.4 L1964.5 1312.5 L1965.5 1315.2 L1966.5 1317.9 L1967.5 1321.1 L1968.5 1324.3 L1969.5 1327.8 L1970.5 1331.3 L1971.5 1334.0 L1972.5 1337.0 L1973.5 1340.8 L1974.5 1344.0 L1975.5 1347.8 L1976.5 1351.4 L1977.5 1355.1 L1978.5 1358.2 L1979.5 1361.4 L1980.5 1364.5 L1981.5 1367.5 L1982.5 1371.5 L1983.5 1374.1 L1984.5 1377.3 L1985.5 1379.9 L1986.5 1383.4 L1987.5 1385.6 L1988.5 1388.3 L1989.5 1390.5 L1990.5 1392.6 L1991.5 1395.2 L1992.5 1397.4 L1993.5 1399.5 L1994.5 1401.8 L1995.5 1404.0 L1996.5 1405.4 L1997.5 1406.9 L1998.5 1409.0 L1999.5 1410.7 L2000.5 1412.5 L2001.5 1413.9 L2002.5 1414.5 L2003.5 1415.7 L2004.5 1416.3 L2005.5 1417.2 L2006.5 1417.0 L2007.5 1418.0 L2008.5 1417.4 L2009.5 1417.3 L2010.5 1416.6 L2011.5 1416.1 L2012.5 1415.1 L2013.5 1414.0 L2014.5 1412.2 L2015.5 1409.9 L2016.5 1408.5 L2017.5 1406.2 L2018.5 1403.5 L2019.5 1400.7 L2020.5 1397.6 L2021.5 1394.2 L2022.5 1390.7 L2023.5 1386.6 L2024.5 1382.0 L2025.5 1377.6 L2026.5 1373.5 L2027.5 1368.5 L2028.5 1364.8 L2029.5 1360.4 L2030.5 1356.4 L2031.5 1351.4 L2032.5 1347.6 L2033.5 1343.1 L2034.5 1339.2 L2035.5 1335.0 L2036.5 1330.1 L2037.5 1326.0 L2038.5 1321.9 L2039.5 1318.0 L2040.5 1313.8 L2041.5 1310.7 L2042.5 1306.9 L2043.5 1303.0 L2044.5 1299.5 L2045.5 1296.2 L2046.5 1293.3 L2047.5 1290.9 L2048.5 1287.9 L2049.5 1285.2 L2050.5 1282.8 L2051.5 1281.2 L2052.5 1278.5 L2053.5 1277.1 L2054.5 1275.1 L2055.5 1273.8 L2056.5 1272.4 L2057.5 1271.5 L2058.5 1270.8 L2059.5 1270.4 L2060.5 1270.4 L2061.5 1269.2 L2062.5 1269.2 L2063.5 1269.1 L2064.5 1269.3 L2065.5 1269.0 L2066.5 1269.0 L2067.5 1268.7 L2068.5 1268.7 L2069.5 1268.9 L2070.5 1268.7 L2071.5 1268.5 L2072.5 1269.0 L2073.5 1268.5 L2074.5 1268.7 L2075.5 1268.5 L2076.5 1269.1 L2077.5 1268.6 L2078.5 1269.0 L2079.5 1269.0 L2080.5 1269.4 L2081.5 1270.6 L2082.5 1271.0 L2083.5 1271.8 L2084.5 1272.5 L2085.5 1274.3 L2086.5 1274.9 L2087.5 1276.5 L2088.5 1277.6 L2089.5 1278.7 L2090.5 1279.8 L2091.5 1280.7 L2092.5 1281.2 L2093.5 1282.3 L2094.5 1283.1 L2095.5 1283.4 L2096.5 1283.4 L2097.5 1284.4 L2098.5 1284.3 L2099.5 1284.6 L2100.5 1283.8 L2101.5 1282.8 L2102.5 1281.3 L2103.5 1278.5 L2104.3 1275.7 L2112.0 1275.7" stroke="#000000"/>
<path d="M182.5 1044.5 L185.5 1044.5 L186.5 1043.9 L187.5 1042.4 L188.5 1044.5 L189.5 1044.1 L190.5 1045.3 L191.5 1045.2 L192.5 1044.0 L193.5 1044.1 L194.5 1044.7 L195.5 1045.4 L196.5 1043.6 L197.5 1045.9 L198.5 1044.7 L199.5 1045.4 L200.5 1045.2 L201.5 1046.0 L202.5 1045.1 L203.5 1045.8 L204.5 1045.1 L205.5 1044.5 L206.5 1046.2 L207.5 1047.6 L208.5 1046.1 L209.5 1046.2 L210.5 1045.6 L211.5 1045.8 L212.5 1046.0 L213.5 1047.3 L214.5 1046.6 L215.5 1047.0 L216.5 1048.0 L217.5 1045.9 L218.5 1047.2 L219.5 1047.2 L220.5 1048.3 L221.5 1046.3 L222.5 1048.2 L223.5 1047.3 L224.5 1048.7 L225.5 1049.1 L226.5 1048.2 L227.5 1047.2 L228.5 1048.3 L229.5 1048.6 L230.5 1048.5 L231.5 1049.6 L232.5 1050.1 L233.5 1048.7 L234.5 1049.1 L235.5 1048.6 L236.5 1048.8 L237.5 1050.3 L238.5 1050.0 L239.5 1049.4 L240.5 1048.9 L241.5 1051.2 L242.5 1049.1 L243.5 1050.5 L244.5 1049.3 L245.5 1049.9 L246.5 1049.5 L247.5 1051.0 L248.5 1050.3 L249.5 1050.7 L250.5 1051.3 L251.5 1049.5 L252.5 1049.2 L253.5 1050.5 L254.5 1051.1 L255.5 1051.2 L256.5 1051.2 L257.5 1050.4 L258.5 1050.0 L259.5 1051.0 L260.5 1050.9 L261.5 1049.8 L262.5 1051.7 L263.5 1050.6 L264.5 1051.0 L265.5 1050.2 L266.5 1052.1 L267.5 1050.0 L268.5 1051.0 L269.5 1049.7 L270.5 1049.7 L271.5 1051.2 L272.5 1051.8 L273.5 1050.7 L274.5 1049.8 L275.5 1050.6 L276.5 1049.4 L277.5 1050.0 L278.5 1050.7 L279.5 1050.4 L280.5 1050.4 L281.5 1050.6 L282.5 1049.2 L283.5 1049.6 L284.5 1050.4 L285.5 1050.4 L286.5 1048.4 L287.5 1050.4 L288.5 1049.3 L289.5 1050.7 L290.5 1049.9 L291.5 1049.8 L292.5 1048.3 L293.5 1049.4 L294.5 1049.5 L295.5 1048.8 L296.5 1050.7 L297.5 1050.0 L298.5 1049.2 L299.5 1048.2 L300.5 1049.0 L301.5 1048.7 L302.5 1049.8 L303.5 1049.6 L304.5 1048.5 L305.5 1048.8 L306.5 1050.1 L307.5 1048.4 L308.5 1049.1 L309.5 1048.7 L310.5 1049.6 L311.5 1048.8 L312.5 1051.3 L313.5 1050.6 L314.5 1052.0 L315.5 1052.2 L316.5 1050.9 L317.5 1051.0 L318.5 1052.2 L319.5 1053.4 L320.5 1051.6 L321.5 1052.5 L322.5 1050.5 L323.5 1050.2 L324.5 1049.9 L325.5 1049.5 L326.5 1048.4 L327.5 1049.2 L328.5 1048.5 L329.5 1047.5 L330.5 1047.5 L331.5 1048.8 L332.5 1046.6 L333.5 1047.1 L334.5 1045.7 L335.5 1046.4 L336.5 1046.8 L337.5 1047.7 L338.5 1045.9 L339.5 1045.2 L340.5 1046.1 L341.5 1044.2 L342.5 1045.3 L343.5 1045.3 L344.5 1046.1 L345.5 1044.5 L346.5 1045.2 L347.5 1043.5 L348.5 1044.0 L349.5 1044.8 L350.5 1043.9 L351.5 1042.5 L352.5 1043.7 L353.5 1043.5 L354.5 1043.6 L355.5 1043.0 L356.5 1043.2 L357.5 1041.4 L358.5 1042.8 L359.5 1042.4 L360.5 1042.5 L361.5 1044.0 L362.5 1043.7 L363.5 1042.7 L364.5 1041.5 L365.5 1043.8 L366.5 1042.6 L367.5 1044.5 L368.5 1043.6 L369.5 1043.8 L370.5 1043.8 L371.5 1045.1 L372.5 1044.0 L373.5 1044.2 L374.5 1045.3 L375.5 1045.0 L376.5 1045.0 L377.5 1047.1 L378.5 1047.4 L379.5 1048.5 L380.5 1048.7 L381.5 1048.6 L382.5 1049.0 L383.5 1051.8 L384.5 1053.4 L385.5 1052.9 L386.5 1055.3 L387.5 1054.7 L388.5 1056.3 L389.5 1056.3 L390.5 1058.9 L391.5 1058.5 L392.5 1061.3 L393.5 1061.6 L394.5 1062.1 L395.5 1064.1 L396.5 1066.0 L397.5 1066.2 L398.5 1067.0 L399.5 1068.7 L400.5 1070.1 L401.5 1071.8 L402.5 1073.7 L403.5 1074.0 L404.5 1075.3 L405.5 1076.8 L406.5 1077.5 L407.5 1079.1 L408.5 1080.8 L409.5 1082.5 L410.5 1082.8 L411.5 1084.7 L412.5 1085.2 L413.5 1087.2 L414.5 1088.5 L415.5 1089.8 L416.5 1090.5 L417.5 1092.5 L418.5 1094.0 L419.5 1094.9 L420.5 1096.6 L421.5 1097.7 L422.5 1098.7 L423.5 1100.1 L424.5 1101.6 L425.5 1103.0 L426.5 1104.8 L427.5 1106.0 L428.5 1106.5 L429.5 1107.7 L430.5 1109.9 L431.5 1110.7 L432.5 1112.6 L433.5 1113.5 L434.5 1115.2 L435.5 1116.0 L436.5 1118.1 L437.5 1118.6 L438.5 1120.3 L439.5 1121.8 L440.5 1122.7 L441.5 1124.0 L442.5 1125.7 L443.5 1127.4 L444.5 1128.1 L445.5 1129.4 L446.5 1130.1 L447.5 1131.3 L448.5 1133.2 L449.5 1134.5 L450.5 1135.3 L451.5 1136.8 L452.5 1137.7 L453.5 1138.7 L454.5 1139.7 L455.5 1141.7 L456.5 1142.1 L457.5 1144.0 L458.5 1144.4 L459.5 1145.7 L460.5 1146.9 L461.5 1148.5 L462.5 1148.8 L463.5 1149.5 L464.5 1151.2 L465.5 1151.9 L466.5 1153.5 L467.5 1154.4 L468.5 1155.2 L469.5 1155.8 L470.5 1157.0 L471.5 1157.5 L472.5 1158.7 L473.5 1160.3 L474.5 1161.2 L475.5 1161.3 L476.5 1162.7 L477.5 1163.2 L478.5 1164.5 L479.5 1165.1 L480.5 1166.2 L481.5 1166.3 L482.5 1168.0 L483.5 1168.7 L484.5 1169.1 L485.5 1170.2 L486.5 1170.7 L487.5 1171.2 L488.5 1171.6 L489.5 1173.2 L490.5 1173.6 L491.5 1175.0 L492.5 1175.3 L493.5 1175.4 L494.5 1176.0 L495.5 1177.4 L496.5 1177.8 L497.5 1178.5 L498.5 1179.2 L499.5 1179.8 L500.5 1179.8 L501.5 1180.9 L502.5 1180.6 L503.5 1181.4 L504.5 1181.6 L505.5 1181.7 L506.5 1181.7 L507.5 1182.6 L508.5 1183.2 L509.5 1182.5 L510.5 1183.0 L511.5 1182.5 L512.5 1183.2 L513.5 1183.4 L514.5 1184.0 L515.5 1183.4 L516.5 1183.9 L517.5 1183.7 L518.5 1183.1 L519.5 1183.3 L520.5 1183.9 L521.5 1183.5 L522.5 1183.5 L523.5 1183.2 L524.5 1183.3 L525.5 1183.2 L526.5 1183.6 L527.5 1182.5 L528.5 1182.4 L529.5 1182.8 L530.5 1182.5 L531.5 1182.7 L532.5 1182.5 L533.5 1182.6 L534.5 1181.4 L535.5 1181.9 L536.5 1180.9 L537.5 1181.3 L538.5 1181.3 L539.5 1181.0 L540.5 1179.8 L541.5 1179.7 L542.5 1179.5 L543.5 1178.9 L544.5 1178.6 L545.5 1178.2 L546.5 1177.4 L547.5 1177.6 L548.5 1177.0 L549.5 1176.4 L550.5 1176.1 L551.5 1175.8 L552.5 1174.8 L553.5 1174.3 L554.5 1174.9 L555.5 1174.2 L556.5 1174.5 L557.5 1173.4 L558.5 1173.1 L559.5 1172.4 L560.5 1173.1 L561.5 1172.3 L562.5 1172.2 L563.5 1172.3 L564.5 1171.7 L565.5 1171.2 L566.5 1171.2 L567.5 1171.0 L568.5 1170.7 L569.5 1170.6 L570.5 1170.1 L571.5 1169.7 L572.5 1170.3 L573.5 1170.1 L574.5 1169.1 L575.5 1169.1 L576.5 1168.6 L577.5 1168.7 L578.5 1168.3 L579.5 1169.0 L580.5 1167.8 L581.5 1168.4 L582.5 1167.4 L583.5 1167.0 L584.5 1166.9 L585.5 1167.4 L586.5 1166.9 L587.5 1166.3 L588.5 1166.5 L589.5 1166.0 L590.5 1166.1 L591.5 1165.8 L592.5 1165.1 L593.5 1164.8 L594.5 1165.1 L595.5 1164.7 L596.5 1164.4 L597.5 1164.6 L598.5 1164.3 L599.5 1163.1 L600.5 1163.3 L601.5 1162.6 L602.5 1163.2 L603.5 1162.8 L604.5 1162.8 L605.5 1161.5 L606.5 1161.9 L607.5 1161.6 L608.5 1161.0 L609.5 1161.0 L610.5 1160.7 L611.5 1160.4 L612.5 1160.1 L613.5 1160.2 L614.5 1159.4 L615.5 1159.5 L616.5 1159.2 L617.5 1158.2 L618.5 1158.1 L619.5 1158.6 L620.5 1158.2 L621.5 1158.0 L622.5 1157.3 L623.5 1157.0 L624.5 1156.2 L625.5 1157.0 L626.5 1156.0 L627.5 1156.3 L628.5 1156.1 L629.5 1155.7 L630.5 1154.9 L631.5 1155.0 L632.5 1155.1 L633.5 1154.2 L634.5 1154.5 L635.5 1153.6 L636.5 1153.8 L637.5 1153.9 L638.5 1153.8 L639.5 1152.7 L640.5 1152.6 L641.5 1152.4 L642.5 1152.0 L643.5 1152.0 L644.5 1152.4 L645.5 1151.6 L646.5 1151.7 L647.5 1150.8 L648.5 1150.6 L649.5 1150.3 L650.5 1151.0 L651.5 1150.0 L652.5 1149.7 L653.5 1149.9 L654.5 1149.4 L655.5 1149.4 L656.5 1148.9 L657.5 1148.8 L658.5 1148.0 L659.5 1148.6 L660.5 1147.9 L661.5 1148.0 L662.5 1148.1 L663.5 1147.7 L664.5 1146.6 L665.5 1146.7 L666.5 1146.6 L667.5 1146.7 L668.5 1146.6 L669.5 1146.5 L670.5 1145.4 L671.5 1145.9 L672.5 1145.4 L673.5 1145.1 L674.5 1145.0 L675.5 1145.2 L676.5 1144.7 L677.5 1144.3 L678.5 1144.8 L679.5 1143.9 L680.5 1144.4 L681.5 1143.6 L682.5 1143.3 L683.5 1142.9 L684.5 1143.9 L685.5 1143.4 L686.5 1143.0 L687.5 1142.8 L688.5 1142.3 L689.5 1142.0 L690.5 1142.3 L691.5 1142.0 L692.5 1142.1 L693.5 1141.9 L694.5 1141.6 L695.5 1140.7 L696.5 1141.3 L697.5 1141.2 L698.5 1140.5 L699.5 1140.6 L700.5 1140.0 L701.5 1140.4 L702.5 1140.0 L703.5 1140.4 L704.5 1138.9 L705.5 1139.4 L706.5 1138.9 L707.5 1138.7 L708.5 1138.6 L709.5 1139.1 L710.5 1138.5 L711.5 1137.9 L712.5 1137.6 L713.5 1137.2 L714.5 1137.3 L715.5 1137.7 L716.5 1136.8 L717.5 1136.6 L718.5 1136.7 L719.5 1136.4 L720.5 1136.0 L721.5 1135.8 L722.5 1135.7 L723.5 1134.9 L724.5 1135.6 L725.5 1134.7 L726.5 1135.2 L727.5 1134.8 L728.5 1134.8 L729.5 1133.4 L730.5 1133.7 L731.5 1133.9 L732.5 1133.7 L733.5 1133.8 L734.5 1133.4 L735.5 1132.8 L736.5 1132.8 L737.5 1132.7 L738.5 1132.2 L739.5 1132.3 L740.5 1132.5 L741.5 1131.8 L742.5 1131.6 L743.5 1132.0 L744.5 1131.4 L745.5 1131.5 L746.5 1130.7 L747.5 1130.7 L748.5 1130.2 L749.5 1131.4 L750.5 1130.4 L751.5 1130.4 L752.5 1130.1 L753.5 1129.8 L754.5 1129.3 L755.5 1129.5 L756.5 1129.7 L757.5 1129.3 L758.5 1129.6 L759.5 1128.8 L760.5 1128.4 L761.5 1128.8 L762.5 1128.8 L763.5 1128.1 L764.5 1128.1 L765.5 1128.1 L766.5 1128.1 L767.5 1127.9 L768.5 1128.2 L769.5 1127.0 L770.5 1127.5 L771.5 1126.9 L772.5 1127.1 L773.5 1126.8 L774.5 1127.7 L775.5 1126.9 L776.5 1126.4 L777.5 1126.4 L778.5 1126.0 L779.5 1126.4 L780.5 1126.3 L781.5 1126.1 L782.5 1125.5 L783.5 1126.1 L784.5 1125.6 L785.5 1125.3 L786.5 1125.5 L787.5 1125.3 L788.5 1124.8 L789.5 1125.1 L790.5 1124.9 L791.5 1125.2 L792.5 1124.9 L793.5 1124.9 L794.5 1123.5 L795.5 1124.3 L796.5 1124.3 L797.5 1124.3 L798.5 1124.2 L799.5 1124.1 L800.5 1123.7 L801.5 1123.3 L802.5 1123.8 L803.5 1123.0 L804.5 1123.6 L805.5 1123.4 L806.5 1123.1 L807.5 1122.7 L808.5 1123.4 L809.5 1123.0 L810.5 1122.6 L811.5 1122.4 L812.5 1122.2 L813.5 1122.1 L814.5 1123.0 L815.5 1122.2 L816.5 1122.3 L817.5 1121.9 L818.5 1121.9 L819.5 1121.1 L820.5 1121.8 L821.5 1121.9 L822.5 1121.6 L823.5 1121.7 L824.5 1121.0 L825.5 1121.1 L826.5 1121.0 L827.5 1121.5 L828.5 1120.3 L829.5 1120.8 L830.5 1120.8 L831.5 1120.7 L832.5 1120.6 L833.5 1120.7 L834.5 1120.1 L835.5 1120.1 L836.5 1119.9 L837.5 1119.9 L838.5 1119.9 L839.5 1120.8 L840.5 1119.7 L841.5 1119.4 L842.5 1119.3 L843.5 1119.4 L844.5 1119.4 L845.5 1119.4 L846.5 1119.5 L847.5 1118.7 L848.5 1119.6 L849.5 1118.7 L850.5 1118.9 L851.5 1118.7 L852.5 1119.0 L853.5 1118.1 L854.5 1118.5 L855.5 1118.7 L856.5 1118.6 L857.5 1118.6 L858.5 1118.2 L859.5 1117.4 L860.5 1117.9 L861.5 1118.1 L862.5 1118.0 L863.5 1117.8 L864.5 1118.2 L865.5 1117.4 L866.5 1117.2 L867.5 1117.6 L868.5 1117.1 L869.5 1117.7 L870.5 1117.3 L871.5 1117.3 L872.5 1116.6 L873.5 1117.8 L874.5 1116.9 L875.5 1116.8 L876.5 1116.6 L877.5 1116.6 L878.5 1116.6 L879.5 1117.0 L880.5 1116.8 L881.5 1116.4 L882.5 1116.5 L883.5 1116.2 L884.5 1115.6 L885.5 1116.3 L886.5 1116.6 L887.5 1116.2 L888.5 1116.0 L889.5 1115.8 L890.5 1115.8 L891.5 1115.7 L892.5 1116.2 L893.5 1115.0 L894.5 1115.8 L895.5 1115.5 L896.5 1115.7 L897.5 1115.2 L898.5 1115.8 L899.5 1115.1 L900.5 1114.9 L901.5 1115.0 L902.5 1114.8 L903.5 1115.3 L904.5 1115.6 L905.5 1115.0 L906.5 1114.3 L907.5 1114.7 L908.5 1114.7 L909.5 1114.5 L910.5 1114.8 L911.5 1114.7 L912.5 1114.3 L913.5 1114.7 L914.5 1114.1 L915.5 1114.3 L916.5 1114.1 L917.5 1114.6 L918.5 1113.3 L919.5 1114.2 L920.5 1114.2 L921.5 1114.2 L922.5 1114.0 L923.5 1113.6 L924.5 1113.3 L925.5 1113.4 L926.5 1114.0 L927.5 1113.4 L928.5 1113.7 L929.5 1113.8 L930.5 1113.2 L931.5 1112.8 L932.5 1113.2 L933.5 1113.2 L934.5 1113.2 L935.5 1113.1 L936.5 1112.9 L937.5 1112.5 L938.5 1113.6 L939.5 1112.6 L940.5 1112.6 L941.5 1112.3 L942.5 1112.7 L943.5 1112.3 L944.5 1112.8 L945.5 1112.8 L946.5 1112.3 L947.5 1112.5 L948.5 1111.8 L949.5 1111.8 L950.5 1112.1 L951.5 1112.8 L952.5 1111.9 L953.5 1111.9 L954.5 1111.9 L955.5 1111.7 L956.5 1111.7 L957.5 1111.9 L958.5 1111.3 L959.5 1111.7 L960.5 1111.6 L961.5 1111.7 L962.5 1111.1 L963.5 1112.0 L964.5 1111.0 L965.5 1110.9 L966.5 1110.9 L967.5 1111.1 L968.5 1111.5 L969.5 1111.5 L970.5 1111.2 L971.5 1110.2 L972.5 1111.1 L973.5 1110.6 L974.5 1110.7 L975.5 1110.8 L976.5 1111.0 L977.5 1110.4 L978.5 1110.6 L979.5 1110.4 L980.5 1110.3 L981.5 1110.5 L982.5 1110.5 L983.5 1109.6 L984.5 1110.4 L985.5 1110.5 L986.5 1110.5 L987.5 1109.9 L988.5 1110.0 L989.5 1109.5 L990.5 1109.6 L991.5 1110.2 L992.5 1109.6 L993.5 1110.2 L994.5 1109.8 L995.5 1109.6 L996.5 1108.8 L997.5 1109.8 L998.5 1109.5 L999.5 1109.5 L1000.5 1109.4 L1001.5 1109.2 L1002.5 1109.2 L1003.5 1109.7 L1004.5 1109.2 L1005.5 1108.8 L1006.5 1108.9 L1007.5 1109.2 L1008.5 1108.6 L1009.5 1109.4 L1010.5 1109.2 L1011.5 1108.9 L1012.5 1108.7 L1013.5 1108.3 L1014.5 1108.5 L1015.5 1108.7 L1016.5 1109.5 L1017.5 1108.2 L1018.5 1108.8 L1019.5 1108.4 L1020.5 1108.6 L1021.5 1108.2 L1022.5 1108.7 L1023.5 1108.2 L1024.5 1108.4 L1025.5 1108.6 L1026.5 1108.2 L1027.5 1108.3 L1028.5 1108.8 L1029.5 1108.0 L1030.5 1107.7 L1031.5 1107.9 L1032.5 1108.4 L1033.5 1108.3 L1034.5 1108.5 L1035.5 1108.1 L1036.5 1107.5 L1037.5 1108.2 L1038.5 1107.7 L1039.5 1108.0 L1040.5 1107.9 L1041.5 1108.6 L1042.5 1107.4 L1043.5 1107.9 L1044.5 1107.8 L1045.5 1107.8 L1046.5 1107.9 L1047.5 1107.7 L1048.5 1107.3 L1049.5 1107.7 L1050.5 1108.3 L1051.5 1107.8 L1052.5 1107.4 L1053.5 1107.6 L1054.5 1107.1 L1055.5 1107.3 L1056.5 1107.7 L1057.5 1107.6 L1058.5 1107.8 L1059.5 1107.5 L1060.5 1107.2 L1061.5 1106.5 L1062.5 1107.8 L1063.5 1107.1 L1064.5 1107.4 L1065.5 1107.0 L1066.5 1107.3 L1067.5 1106.9 L1068.5 1107.3 L1069.5 1107.0 L1070.5 1106.5 L1071.5 1107.0 L1072.5 1106.8 L1073.5 1106.6 L1074.5 1107.0 L1075.5 1107.3 L1076.5 1106.6 L1077.5 1106.3 L1078.5 1106.3 L1079.5 1106.2 L1080.5 1106.6 L1081.5 1107.1 L1082.5 1106.0 L1083.5 1106.4 L1084.5 1106.1 L1085.5 1106.3 L1086.5 1105.6 L1087.5 1106.6 L1088.5 1105.8 L1089.5 1106.0 L1090.5 1106.0 L1091.5 1105.8 L1092.5 1106.0 L1093.5 1106.1 L1094.5 1105.7 L1095.5 1104.9 L1096.5 1105.8 L1097.5 1105.8 L1098.5 1105.8 L1099.5 1105.8 L1100.5 1105.5 L1101.5 1105.0 L1102.5 1105.3 L1103.5 1105.1 L1104.5 1105.2 L1105.5 1105.4 L1106.5 1105.8 L1107.5 1104.6 L1108.5 1105.2 L1109.5 1105.0 L1110.5 1105.2 L1111.5 1104.8 L1112.5 1105.0 L1113.5 1104.6 L1114.5 1104.9 L1115.5 1105.5 L1116.5 1104.6 L1117.5 1104.8 L1118.5 1104.6 L1119.5 1104.6 L1120.5 1104.1 L1121.5 1105.0 L1122.5 1104.9 L1123.5 1104.8 L1124.5 1104.7 L1125.5 1104.2 L1126.5 1103.9 L1127.5 1104.9 L1128.5 1104.5 L1129.5 1104.4 L1130.5 1104.2 L1131.5 1104.8 L1132.5 1104.0 L1133.5 1104.6 L1134.5 1104.2 L1135.5 1104.0 L1136.5 1104.2 L1137.5 1104.0 L1138.5 1104.1 L1139.5 1104.2 L1140.5 1104.9 L1141.5 1103.6 L1142.5 1103.8 L1143.5 1103.6 L1144.5 1103.9 L1145.5 1104.0 L1146.5 1104.4 L1147.5 1103.7 L1148.5 1103.8 L1149.5 1103.9 L1150.5 1103.6 L1151.5 1103.3 L1152.5 1104.1 L1153.5 1103.5 L1154.5 1103.6 L1155.5 1103.4 L1156.5 1103.7 L1157.5 1103.5 L1158.5 1103.7 L1159.5 1103.2 L1160.5 1102.5 L1161.5 1103.6 L1162.5 1103.4 L1163.5 1103.6 L1164.5 1103.1 L1165.5 1103.5 L1166.5 1102.5 L1167.5 1102.9 L1168.5 1102.8 L1169.5 1102.9 L1170.5 1103.2 L1171.5 1103.2 L1172.5 1102.3 L1173.5 1102.6 L1174.5 1102.8 L1175.5 1102.7 L1176.5 1102.2 L1177.5 1102.6 L1178.5 1102.1 L1179.5 1102.5 L1180.5 1102.8 L1181.5 1102.2 L1182.5 1102.2 L1183.5 1102.0 L1184.5 1102.0 L1185.5 1101.2 L1186.5 1102.6 L1187.5 1102.1 L1188.5 1102.2 L1189.5 1101.5 L1190.5 1101.5 L1191.5 1101.2 L1192.5 1101.8 L1193.5 1101.7 L1194.5 1101.2 L1195.5 1101.5 L1196.5 1101.6 L1197.5 1101.0 L1198.5 1101.3 L1199.5 1101.1 L1200.5 1100.9 L1201.5 1100.8 L1202.5 1100.9 L1203.5 1100.7 L1204.5 1101.0 L1205.5 1101.5 L1206.5 1100.1 L1207.5 1100.3 L1208.5 1100.1 L1209.5 1100.7 L1210.5 1100.2 L1211.5 1100.9 L1212.5 1100.1 L1213.5 1100.2 L1214.5 1100.1 L1215.5 1099.7 L1216.5 1099.8 L1217.5 1100.2 L1218.5 1100.0 L1219.5 1099.4 L1220.5 1099.8 L1221.5 1099.9 L1222.5 1099.6 L1223.5 1099.6 L1224.5 1099.1 L1225.5 1098.8 L1226.5 1099.5 L1227.5 1099.4 L1228.5 1099.4 L1229.5 1099.0 L1230.5 1099.5 L1231.5 1098.1 L1232.5 1098.8 L1233.5 1098.5 L1234.5 1099.0 L1235.5 1098.8 L1236.5 1098.9 L1237.5 1098.1 L1238.5 1098.2 L1239.5 1098.8 L1240.5 1098.1 L1241.5 1098.0 L1242.5 1098.1 L1243.5 1098.1 L1244.5 1098.0 L1245.5 1098.2 L1246.5 1097.9 L1247.5 1097.6 L1248.5 1097.6 L1249.5 1097.3 L1250.5 1096.9 L1251.5 1098.1 L1252.5 1097.6 L1253.5 1097.5 L1254.5 1096.7 L1255.5 1097.2 L1256.5 1096.5 L1257.5 1097.3 L1258.5 1096.9 L1259.5 1096.6 L1260.5 1096.9 L1261.5 1096.7 L1262.5 1096.4 L1263.5 1096.2 L1264.5 1096.8 L1265.5 1096.0 L1266.5 1096.0 L1267.5 1096.0 L1268.5 1096.1 L1269.5 1096.3 L1270.5 1096.4 L1271.5 1095.4 L1272.5 1095.3 L1273.5 1095.5 L1274.5 1095.7 L1275.5 1095.2 L1276.5 1096.0 L1277.5 1095.1 L1278.5 1095.3 L1279.5 1094.8 L1280.5 1094.9 L1281.5 1094.7 L1282.5 1095.2 L1283.5 1094.9 L1284.5 1094.0 L1285.5 1094.9 L1286.5 1094.6 L1287.5 1094.6 L1288.5 1094.0 L1289.5 1094.1 L1290.5 1093.6 L1291.5 1094.2 L1292.5 1094.2 L1293.5 1093.8 L1294.5 1093.9 L1295.5 1093.9 L1296.5 1092.8 L1297.5 1093.2 L1298.5 1093.3 L1299.5 1093.6 L1300.5 1093.1 L1301.5 1093.4 L1302.5 1092.4 L1303.5 1092.8 L1304.5 1093.0 L1305.5 1092.3 L1306.5 1092.3 L1307.5 1092.3 L1308.5 1092.6 L1309.5 1091.8 L1310.5 1092.6 L1311.5 1091.9 L1312.5 1091.9 L1313.5 1091.5 L1314.5 1091.3 L1315.5 1091.1 L1316.5 1092.0 L1317.5 1091.8 L1318.5 1091.0 L1319.5 1090.7 L1320.5 1091.0 L1321.5 1090.3 L1322.5 1090.9 L1323.5 1090.5 L1324.5 1090.5 L1325.5 1090.4 L1326.5 1090.3 L1327.5 1089.8 L1328.5 1089.7 L1329.5 1090.3 L1330.5 1089.1 L1331.5 1089.4 L1332.5 1089.1 L1333.5 1089.7 L1334.5 1089.2 L1335.5 1089.5 L1336.5 1088.4 L1337.5 1088.3 L1338.5 1088.6 L1339.5 1088.4 L1340.5 1088.3 L1341.5 1088.7 L1342.5 1088.2 L1343.5 1087.8 L1344.5 1087.5 L1345.5 1087.7 L1346.5 1087.4 L1347.5 1087.9 L1348.5 1087.3 L1349.5 1086.8 L1350.5 1087.4 L1351.5 1087.2 L1352.5 1087.0 L1353.5 1086.3 L1354.5 1086.8 L1355.5 1085.8 L1356.5 1086.7 L1357.5 1086.3 L1358.5 1086.4 L1359.5 1086.1 L1360.5 1086.0 L1361.5 1085.1 L1362.5 1085.2 L1363.5 1085.9 L1364.5 1085.6 L1365.5 1085.3 L1366.5 1085.3 L1367.5 1084.7 L1368.5 1084.8 L1369.5 1084.9 L1370.5 1084.5 L1371.5 1084.2 L1372.5 1084.5 L1373.5 1084.4 L1374.5 1083.7 L1375.5 1084.6 L1376.5 1083.8 L1377.5 1083.8 L1378.5 1082.9 L1379.5 1083.4 L1380.5 1082.8 L1381.5 1084.0 L1382.5 1083.5 L1383.5 1082.5 L1384.5 1082.6 L1385.5 1082.5 L1386.5 1082.1 L1387.5 1082.1 L1388.5 1082.6 L1389.5 1082.0 L1390.5 1081.9 L1391.5 1081.8 L1392.5 1081.1 L1393.5 1081.4 L1394.5 1081.8 L1395.5 1080.6 L1396.5 1080.7 L1397.5 1080.9 L1398.5 1081.6 L1399.5 1080.6 L1400.5 1081.4 L1401.5 1079.8 L1402.5 1080.4 L1403.5 1080.4 L1404.5 1080.7 L1405.5 1080.7 L1406.5 1081.8 L1407.5 1082.1 L1408.5 1081.5 L1409.5 1082.7 L1410.5 1083.2 L1411.5 1084.0 L1412.5 1084.4 L1413.5 1084.3 L1414.5 1083.9 L1415.5 1084.6 L1416.5 1084.8 L1417.5 1084.1 L1418.5 1083.9 L1419.5 1084.6 L1420.5 1083.6 L1421.5 1084.6 L1422.5 1084.4 L1423.5 1085.1 L1424.5 1084.9 L1425.5 1086.4 L1426.5 1086.4 L1427.5 1088.7 L1428.5 1091.4 L1429.5 1092.7 L1430.5 1094.3 L1431.5 1095.5 L1432.5 1097.0 L1433.5 1097.5 L1434.5 1099.4 L1435.5 1099.9 L1436.5 1101.1 L1437.5 1102.6 L1438.5 1103.5 L1439.5 1104.1 L1440.5 1106.0 L1441.5 1106.7 L1442.5 1107.1 L1443.5 1107.4 L1444.5 1109.0 L1445.5 1109.3 L1446.5 1111.5 L1447.5 1111.5 L1448.5 1112.0 L1449.5 1112.6 L1450.5 1113.6 L1451.5 1113.8 L1452.5 1114.3 L1453.5 1115.8 L1454.5 1114.9 L1455.5 1115.2 L1456.5 1114.5 L1457.5 1114.5 L1458.5 1113.9 L1459.5 1114.0 L1460.5 1112.5 L1461.5 1112.0 L1462.5 1112.3 L1463.5 1112.0 L1464.5 1111.0 L1465.5 1111.0 L1466.5 1109.5 L1467.5 1109.3 L1468.5 1108.6 L1469.5 1108.7 L1470.5 1107.8 L1471.5 1108.2 L1472.5 1107.0 L1473.5 1105.5 L1474.5 1105.7 L1475.5 1105.3 L1476.5 1105.3 L1477.5 1104.3 L1478.5 1104.6 L1479.5 1103.2 L1480.5 1103.9 L1481.5 1103.1 L1482.5 1102.3 L1483.5 1101.9 L1484.5 1102.0 L1485.5 1101.1 L1486.5 1101.2 L1487.5 1101.7 L1488.5 1101.7 L1489.5 1101.0 L1490.5 1101.5 L1491.5 1100.9 L1492.5 1102.5 L1493.5 1103.9 L1494.5 1104.5 L1495.5 1104.8 L1496.5 1105.8 L1497.5 1106.5 L1498.5 1105.8 L1499.5 1107.1 L1500.5 1106.2 L1501.5 1106.8 L1502.5 1106.2 L1503.5 1106.4 L1504.5 1105.5 L1505.5 1106.3 L1506.5 1105.7 L1507.5 1104.4 L1508.5 1104.1 L1509.5 1104.2 L1510.5 1103.9 L1511.5 1103.9 L1512.5 1103.0 L1513.5 1101.7 L1514.5 1100.6 L1515.5 1100.1 L1516.5 1098.6 L1517.5 1098.5 L1518.5 1098.8 L1519.5 1097.4 L1520.5 1097.0 L1521.5 1096.3 L1522.5 1096.7 L1523.5 1095.5 L1524.5 1096.2 L1525.5 1094.4 L1526.5 1094.6 L1527.5 1094.7 L1528.5 1094.4 L1529.5 1093.3 L1530.5 1093.0 L1531.5 1092.2 L1532.5 1090.8 L1533.5 1090.7 L1534.5 1090.3 L1535.5 1089.6 L1536.5 1089.3 L1537.5 1087.8 L1538.5 1086.3 L1539.5 1086.1 L1540.5 1085.9 L1541.5 1084.9 L1542.5 1084.0 L1543.5 1084.2 L1544.5 1082.6 L1545.5 1083.1 L1546.5 1081.8 L1547.5 1081.5 L1548.5 1080.3 L1549.5 1080.6 L1550.5 1079.1 L1551.5 1079.0 L1552.5 1079.4 L1553.5 1078.4 L1554.5 1077.5 L1555.5 1076.7 L1556.5 1076.2 L1557.5 1076.0 L1558.5 1076.5 L1559.5 1075.9 L1560.5 1075.2 L1561.5 1075.5 L1562.5 1075.0 L1563.5 1074.2 L1564.5 1075.0 L1565.5 1074.7 L1566.5 1074.9 L1567.5 1074.3 L1568.5 1075.1 L1569.5 1074.1 L1570.5 1075.5 L1571.5 1074.6 L1572.5 1073.9 L1573.5 1073.9 L1574.5 1074.5 L1575.5 1074.5 L1576.5 1074.3 L1577.5 1074.8 L1578.5 1073.2 L1579.5 1072.6 L1580.5 1071.4 L1581.5 1070.5 L1582.5 1070.8 L1583.5 1072.2 L1584.5 1072.5 L1585.5 1073.4 L1586.5 1074.8 L1587.5 1075.6 L1588.5 1075.3 L1589.5 1076.4 L1590.5 1075.5 L1591.5 1076.6 L1592.5 1076.8 L1593.5 1077.6 L1594.5 1076.9 L1595.5 1077.9 L1596.5 1077.8 L1597.5 1077.5 L1598.5 1078.9 L1599.5 1079.8 L1600.5 1081.0 L1601.5 1081.2 L1602.5 1081.8 L1603.5 1081.2 L1604.5 1082.6 L1605.5 1083.2 L1606.5 1082.9 L1607.5 1082.8 L1608.5 1083.2 L1609.5 1082.4 L1610.5 1082.4 L1611.5 1081.9 L1612.5 1081.7 L1613.5 1080.6 L1614.5 1081.1 L1615.5 1079.5 L1616.5 1079.9 L1617.5 1079.9 L1618.5 1079.0 L1619.5 1077.5 L1620.5 1076.6 L1621.5 1076.2 L1622.5 1075.0 L1623.5 1075.5 L1624.5 1073.8 L1625.5 1073.3 L1626.5 1072.4 L1627.5 1071.7 L1628.5 1070.3 L1629.5 1070.6 L1630.5 1070.3 L1631.5 1069.3 L1632.5 1068.7 L1633.5 1068.8 L1634.5 1067.9 L1635.5 1068.3 L1636.5 1067.1 L1637.5 1066.3 L1638.5 1065.7 L1639.5 1066.5 L1640.5 1065.6 L1641.5 1065.4 L1642.5 1065.6 L1643.5 1064.2 L1644.5 1064.0 L1645.5 1063.2 L1646.5 1063.6 L1647.5 1063.0 L1648.5 1063.9 L1649.5 1062.2 L1650.5 1061.9 L1651.5 1062.0 L1652.5 1061.8 L1653.5 1061.0 L1654.5 1061.0 L1655.5 1060.5 L1656.5 1060.3 L1657.5 1060.4 L1658.5 1060.4 L1659.5 1059.3 L1660.5 1059.8 L1661.5 1058.8 L1662.5 1058.0 L1663.5 1058.4 L1664.5 1058.8 L1665.5 1058.6 L1666.5 1057.7 L1667.5 1057.9 L1668.5 1056.3 L1669.5 1057.4 L1670.5 1056.8 L1671.5 1056.7 L1672.5 1056.1 L1673.5 1056.8 L1674.5 1055.7 L1675.5 1055.4 L1676.5 1055.7 L1677.5 1055.2 L1678.5 1054.7 L1679.5 1054.7 L1680.5 1054.1 L1681.5 1054.4 L1682.5 1054.8 L1683.5 1054.3 L1684.5 1053.0 L1685.5 1053.2 L1686.5 1053.1 L1687.5 1052.6 L1688.5 1053.4 L1689.5 1052.6 L1690.5 1052.8 L1691.5 1051.8 L1692.5 1052.2 L1693.5 1050.7 L1694.5 1052.1 L1695.5 1051.6 L1696.5 1051.0 L1697.5 1050.7 L1698.5 1051.0 L1699.5 1050.8 L1700.5 1050.5 L1701.5 1050.3 L1702.5 1049.3 L1703.5 1049.4 L1704.5 1049.9 L1705.5 1049.3 L1706.5 1049.4 L1707.5 1049.6 L1708.5 1048.7 L1709.5 1048.0 L1710.5 1047.9 L1711.5 1048.4 L1712.5 1047.8 L1713.5 1048.7 L1714.5 1046.9 L1715.5 1047.2 L1716.5 1046.9 L1717.5 1047.2 L1718.5 1045.9 L1719.5 1046.3 L1720.5 1046.1 L1721.5 1045.6 L1722.5 1046.1 L1723.5 1045.7 L1724.5 1045.6 L1725.5 1045.4 L1726.5 1045.1 L1727.5 1044.3 L1728.5 1045.1 L1729.5 1046.0 L1730.5 1045.5 L1731.5 1045.1 L1732.5 1045.3 L1733.5 1044.5 L1734.5 1045.3 L1735.5 1045.0 L1736.5 1045.4 L1737.5 1044.8 L1738.5 1046.0 L1739.5 1044.6 L1740.5 1045.1 L1741.5 1045.4 L1742.5 1045.4 L1743.5 1045.2 L1744.5 1045.5 L1745.5 1046.4 L1746.5 1046.8 L1747.5 1048.4 L1748.5 1047.8 L1749.5 1047.7 L1750.5 1048.0 L1751.5 1048.3 L1752.5 1047.7 L1753.5 1048.1 L1754.5 1047.8 L1755.5 1047.0 L1756.5 1046.0 L1757.5 1045.9 L1758.5 1044.6 L1759.5 1045.8 L1760.5 1045.1 L1761.5 1044.8 L1762.5 1044.2 L1763.5 1045.2 L1764.5 1044.6 L1765.5 1044.3 L1766.5 1044.5 L1767.5 1043.4 L1768.5 1044.0 L1769.5 1043.9 L1770.5 1044.2 L1771.5 1043.8 L1772.5 1044.6 L1773.5 1043.3 L1774.5 1042.8 L1775.5 1043.3 L1776.5 1043.7 L1777.5 1043.5 L1778.5 1043.9 L1779.5 1043.1 L1780.5 1043.2 L1781.5 1043.2 L1782.5 1043.7 L1783.5 1042.5 L1784.5 1043.6 L1785.5 1043.4 L1786.5 1043.2 L1787.5 1043.6 L1788.5 1044.0 L1789.5 1044.1 L1790.5 1043.6 L1791.5 1044.1 L1792.5 1043.1 L1793.5 1044.8 L1794.5 1045.2 L1795.5 1045.2 L1796.5 1044.7 L1797.5 1045.4 L1798.5 1045.0 L1799.5 1045.3 L1800.5 1045.9 L1801.5 1046.1 L1802.5 1046.1 L1803.5 1046.9 L1804.5 1045.9 L1805.5 1046.5 L1806.5 1046.9 L1807.5 1047.1 L1808.5 1046.1 L1809.5 1046.7 L1810.5 1047.0 L1811.5 1046.9 L1812.5 1047.7 L1813.5 1046.5 L1814.5 1046.5 L1815.5 1046.0 L1816.5 1046.8 L1817.5 1045.7 L1818.5 1046.9 L1819.5 1046.8 L1820.5 1046.1 L1821.5 1045.6 L1822.5 1045.6 L1823.5 1045.4 L1824.5 1045.8 L1825.5 1045.7 L1826.5 1045.1 L1827.5 1045.0 L1828.5 1045.9 L1829.5 1045.0 L1830.5 1045.0 L1831.5 1045.1 L1832.5 1044.7 L1833.5 1044.9 L1834.5 1045.0 L1835.5 1045.7 L1836.5 1045.1 L1837.5 1046.3 L1838.5 1044.6 L1839.5 1044.9 L1840.5 1045.1 L1841.5 1046.1 L1842.5 1045.5 L1843.5 1045.9 L1844.5 1045.7 L1845.5 1045.2 L1846.5 1045.4 L1847.5 1044.9 L1848.5 1044.1 L1849.5 1044.3 L1850.5 1043.8 L1851.5 1043.0 L1852.5 1043.0 L1853.5 1043.6 L1854.5 1043.1 L1855.5 1042.9 L1856.5 1043.4 L1857.5 1043.1 L1858.5 1045.1 L1859.5 1045.4 L1860.5 1046.1 L1861.5 1045.3 L1862.5 1046.8 L1863.5 1045.8 L1864.5 1046.2 L1865.5 1046.6 L1866.5 1046.7 L1867.5 1046.5 L1868.5 1046.3 L1869.5 1045.9 L1870.5 1045.5 L1871.5 1046.2 L1872.5 1045.5 L1873.5 1044.6 L1874.5 1045.0 L1875.5 1045.1 L1876.5 1044.8 L1877.5 1044.9 L1878.5 1044.3 L1879.5 1043.9 L1880.5 1043.4 L1881.5 1044.1 L1882.5 1043.0 L1883.5 1044.7 L1884.5 1044.1 L1885.5 1043.7 L1886.5 1042.8 L1887.5 1043.5 L1888.5 1043.3 L1889.5 1043.4 L1890.5 1043.7 L1891.5 1042.8 L1892.5 1043.3 L1893.5 1043.5 L1894.5 1043.2 L1895.5 1042.7 L1896.5 1043.3 L1897.5 1042.8 L1898.5 1042.5 L1899.5 1043.1 L1900.5 1043.4 L1901.5 1043.1 L1902.5 1043.6 L1903.5 1042.2 L1904.5 1042.4 L1905.5 1042.6 L1906.5 1043.8 L1907.5 1042.6 L1908.5 1043.5 L1909.5 1043.0 L1910.5 1042.8 L1911.5 1043.0 L1912.5 1043.0 L1913.5 1043.1 L1914.5 1043.1 L1915.5 1043.7 L1916.5 1042.6 L1917.5 1043.7 L1918.5 1044.5 L1919.5 1044.5 L1920.5 1044.6 L1921.5 1045.7 L1922.5 1046.4 L1923.5 1048.0 L1924.5 1049.1 L1925.5 1050.0 L1926.5 1050.5 L1927.5 1052.7 L1928.5 1053.2 L1929.5 1055.3 L1930.5 1057.2 L1931.5 1059.3 L1932.5 1060.3 L1933.5 1061.8 L1934.5 1063.1 L1935.5 1063.9 L1936.5 1065.4 L1937.5 1065.6 L1938.5 1066.3 L1939.5 1067.0 L1940.5 1068.2 L1941.5 1068.4 L1942.5 1069.3 L1943.5 1069.9 L1944.5 1070.4 L1945.5 1071.2 L1946.5 1072.2 L1947.5 1072.9 L1948.5 1074.3 L1949.5 1075.0 L1950.5 1075.7 L1951.5 1076.3 L1952.5 1078.1 L1953.5 1079.0 L1954.5 1080.6 L1955.5 1082.3 L1956.5 1084.1 L1957.5 1086.5 L1958.5 1089.0 L1959.5 1092.0 L1960.5 1094.7 L1961.5 1098.8 L1962.5 1103.7 L1963.5 1110.6 L1964.5 1116.4 L1965.5 1119.0 L1966.5 1119.8 L1967.5 1120.5 L1968.5 1120.9 L1969.5 1122.1 L1970.5 1125.2 L1971.5 1130.2 L1972.5 1135.7 L1973.5 1142.4 L1974.5 1148.2 L1975.5 1153.3 L1976.5 1158.4 L1977.5 1164.0 L1978.5 1169.1 L1979.5 1174.2 L1980.5 1179.3 L1981.5 1183.3 L1982.5 1188.2 L1983.5 1192.1 L1984.5 1196.0 L1985.5 1199.1 L1986.5 1203.1 L1987.5 1206.2 L1988.5 1209.4 L1989.5 1212.2 L1990.5 1214.4 L1991.5 1216.5 L1992.5 1218.6 L1993.5 1220.1 L1994.5 1222.0 L1995.5 1224.1 L1996.5 1225.9 L1997.5 1226.9 L1998.5 1228.4 L1999.5 1229.5 L2000.5 1230.5 L2001.5 1231.4 L2002.5 1230.9 L2003.5 1230.2 L2004.5 1229.1 L2005.5 1228.6 L2006.5 1226.6 L2007.5 1225.6 L2008.5 1223.4 L2009.5 1221.0 L2010.5 1217.9 L2011.5 1215.0 L2012.5 1211.6 L2013.5 1208.1 L2014.5 1204.4 L2015.5 1199.9 L2016.5 1195.8 L2017.5 1191.6 L2018.5 1186.7 L2019.5 1181.7 L2020.5 1176.8 L2021.5 1171.8 L2022.5 1166.8 L2023.5 1162.2 L2024.5 1157.4 L2025.5 1152.4 L2026.5 1148.1 L2027.5 1142.7 L2028.5 1138.2 L2029.5 1133.5 L2030.5 1129.4 L2031.5 1123.8 L2032.5 1119.0 L2033.5 1113.7 L2034.5 1108.8 L2035.5 1104.5 L2036.5 1100.2 L2037.5 1096.0 L2038.5 1092.1 L2039.5 1088.5 L2040.5 1084.3 L2041.5 1080.9 L2042.5 1078.0 L2043.5 1074.8 L2044.5 1072.0 L2045.5 1069.4 L2046.5 1066.6 L2047.5 1064.5 L2048.5 1062.1 L2049.5 1059.8 L2050.5 1057.1 L2051.5 1056.0 L2052.5 1053.9 L2053.5 1052.8 L2054.5 1051.4 L2055.5 1050.1 L2056.5 1048.4 L2057.5 1047.1 L2058.5 1045.8 L2059.5 1044.6 L2060.5 1044.3 L2061.5 1043.3 L2062.5 1042.6 L2063.5 1042.3 L2064.5 1042.5 L2065.5 1042.5 L2066.5 1042.9 L2067.5 1043.2 L2068.5 1043.6 L2069.5 1044.4 L2070.5 1045.3 L2071.5 1045.6 L2072.5 1046.8 L2073.5 1047.4 L2074.5 1048.5 L2075.5 1049.5 L2076.5 1052.0 L2077.5 1053.7 L2078.5 1056.0 L2079.5 1057.9 L2080.5 1059.4 L2081.5 1061.3 L2082.5 1063.1 L2083.5 1065.1 L2084.5 1066.7 L2085.5 1069.2 L2086.5 1070.8 L2087.5 1072.5 L2088.5 1074.0 L2089.5 1075.1 L2090.5 1075.5 L2091.5 1075.7 L2092.5 1074.8 L2093.5 1073.9 L2094.5 1073.1 L2095.5 1072.1 L2096.5 1069.8 L2097.5 1068.6 L2098.5 1066.7 L2099.5 1065.1 L2100.5 1063.2 L2101.5 1061.4 L2102.5 1059.1 L2103.5 1056.9 L2104.5 1054.8 L2105.5 1051.7 L2106.5 1049.6 L2107.5 1047.1 L2108.5 1044.6 L2108.9 1043.2 L2112.0 1043.2" stroke="#ff0000"/>
<path d="M182.5 635.2 L185.5 635.2 L186.5 634.4 L187.5 634.0 L188.5 635.2 L189.5 633.9 L190.5 635.1 L191.5 634.9 L192.5 635.5 L193.5 633.8 L194.5 635.3 L195.5 634.7 L196.5 634.9 L197.5 635.0 L198.5 634.0 L199.5 634.4 L200.5 635.1 L201.5 636.1 L202.5 634.5 L203.5 635.1 L204.5 634.5 L205.5 634.2 L206.5 634.6 L207.5 635.4 L208.5 635.1 L209.5 635.7 L210.5 634.8 L211.5 634.4 L212.5 634.2 L213.5 636.1 L214.5 634.4 L215.5 635.2 L216.5 634.7 L217.5 635.3 L218.5 635.2 L219.5 635.6 L220.5 635.0 L221.5 634.2 L222.5 635.6 L223.5 634.3 L224.5 635.4 L225.5 635.7 L226.5 636.2 L227.5 634.6 L228.5 634.8 L229.5 634.5 L230.5 635.1 L231.5 635.9 L232.5 635.8 L233.5 634.6 L234.5 635.8 L235.5 635.2 L236.5 635.3 L237.5 634.8 L238.5 636.0 L239.5 634.8 L240.5 635.5 L241.5 635.6 L242.5 635.3 L243.5 636.4 L244.5 635.5 L245.5 635.0 L246.5 634.1 L247.5 636.4 L248.5 635.5 L249.5 636.3 L250.5 635.8 L251.5 635.5 L252.5 635.0 L253.5 635.7 L254.5 635.3 L255.5 635.8 L256.5 636.4 L257.5 636.1 L258.5 634.9 L259.5 636.3 L260.5 635.9 L261.5 636.1 L262.5 635.6 L263.5 635.5 L264.5 635.6 L265.5 636.4 L266.5 637.2 L267.5 635.3 L268.5 636.6 L269.5 635.4 L270.5 635.9 L271.5 635.4 L272.5 637.2 L273.5 636.5 L274.5 636.8 L275.5 636.2 L276.5 635.5 L277.5 636.2 L278.5 637.1 L279.5 636.2 L280.5 636.2 L281.5 636.6 L282.5 636.9 L283.5 636.4 L284.5 637.2 L285.5 636.5 L286.5 636.3 L287.5 637.0 L288.5 636.2 L289.5 637.4 L290.5 637.6 L291.5 638.5 L292.5 635.9 L293.5 637.3 L294.5 636.6 L295.5 637.7 L296.5 637.9 L297.5 638.1 L298.5 637.3 L299.5 637.8 L300.5 637.9 L301.5 637.1 L302.5 637.7 L303.5 638.2 L304.5 637.3 L305.5 637.3 L306.5 637.5 L307.5 637.5 L308.5 637.3 L309.5 636.6 L310.5 635.4 L311.5 634.7 L312.5 636.5 L313.5 635.0 L314.5 635.7 L315.5 634.5 L316.5 634.8 L317.5 633.0 L318.5 634.1 L319.5 633.7 L320.5 634.1 L321.5 634.8 L322.5 633.9 L323.5 633.6 L324.5 634.2 L325.5 634.9 L326.5 633.9 L327.5 634.1 L328.5 634.2 L329.5 634.2 L330.5 635.2 L331.5 635.4 L332.5 634.5 L333.5 635.2 L334.5 634.4 L335.5 634.6 L336.5 634.2 L337.5 636.7 L338.5 635.2 L339.5 635.8 L340.5 634.6 L341.5 634.8 L342.5 635.0 L343.5 635.7 L344.5 635.1 L345.5 634.4 L346.5 635.8 L347.5 634.8 L348.5 634.9 L349.5 634.9 L350.5 634.8 L351.5 634.0 L352.5 634.3 L353.5 634.0 L354.5 634.5 L355.5 635.2 L356.5 635.0 L357.5 632.8 L358.5 633.9 L359.5 633.4 L360.5 634.4 L361.5 633.8 L362.5 634.9 L363.5 633.7 L364.5 634.5 L365.5 634.6 L366.5 634.1 L367.5 635.5 L368.5 635.7 L369.5 635.9 L370.5 635.4 L371.5 637.5 L372.5 637.4 L373.5 638.1 L374.5 638.0 L375.5 638.1 L376.5 639.1 L377.5 641.1 L378.5 641.7 L379.5 643.0 L380.5 644.0 L381.5 645.3 L382.5 645.4 L383.5 647.6 L384.5 648.5 L385.5 650.2 L386.5 651.5 L387.5 652.7 L388.5 654.0 L389.5 655.7 L390.5 657.6 L391.5 658.5 L392.5 660.6 L393.5 662.1 L394.5 664.2 L395.5 666.0 L396.5 668.3 L397.5 670.1 L398.5 672.4 L399.5 674.5 L400.5 676.6 L401.5 679.1 L402.5 682.1 L403.5 684.0 L404.5 686.3 L405.5 688.3 L406.5 690.7 L407.5 692.8 L408.5 695.4 L409.5 697.2 L410.5 699.4 L411.5 702.0 L412.5 703.8 L413.5 706.2 L414.5 708.3 L415.5 710.8 L416.5 712.3 L417.5 715.0 L418.5 717.0 L419.5 719.5 L420.5 721.9 L421.5 723.9 L422.5 725.6 L423.5 728.1 L424.5 730.5 L425.5 732.7 L426.5 734.9 L427.5 737.5 L428.5 739.2 L429.5 741.5 L430.5 743.5 L431.5 745.6 L432.5 747.9 L433.5 750.0 L434.5 751.9 L435.5 753.7 L436.5 756.5 L437.5 758.0 L438.5 760.3 L439.5 761.8 L440.5 763.9 L441.5 765.7 L442.5 768.2 L443.5 769.9 L444.5 771.8 L445.5 773.9 L446.5 775.4 L447.5 777.0 L448.5 779.2 L449.5 781.3 L450.5 783.2 L451.5 784.9 L452.5 786.6 L453.5 788.1 L454.5 790.2 L455.5 791.9 L456.5 793.0 L457.5 795.0 L458.5 796.3 L459.5 798.1 L460.5 799.3 L461.5 801.4 L462.5 802.2 L463.5 803.8 L464.5 804.8 L465.5 806.2 L466.5 807.8 L467.5 809.5 L468.5 810.5 L469.5 811.4 L470.5 812.8 L471.5 813.9 L472.5 815.1 L473.5 816.5 L474.5 817.6 L475.5 818.7 L476.5 820.0 L477.5 820.9 L478.5 821.9 L479.5 823.1 L480.5 824.2 L481.5 824.3 L482.5 825.8 L483.5 826.4 L484.5 827.8 L485.5 828.3 L486.5 829.3 L487.5 829.4 L488.5 830.5 L489.5 831.4 L490.5 831.8 L491.5 832.7 L492.5 833.3 L493.5 833.7 L494.5 833.8 L495.5 834.4 L496.5 834.7 L497.5 835.2 L498.5 835.6 L499.5 835.7 L500.5 836.0 L501.5 836.8 L502.5 836.7 L503.5 837.0 L504.5 836.8 L505.5 837.3 L506.5 836.9 L507.5 837.6 L508.5 837.2 L509.5 837.4 L510.5 837.2 L511.5 836.8 L512.5 836.4 L513.5 836.5 L514.5 836.8 L515.5 836.1 L516.5 836.1 L517.5 835.7 L518.5 835.5 L519.5 835.4 L520.5 835.2 L521.5 834.6 L522.5 834.4 L523.5 834.2 L524.5 833.7 L525.5 833.2 L526.5 833.4 L527.5 832.4 L528.5 832.2 L529.5 831.4 L530.5 831.4 L531.5 831.1 L532.5 831.5 L533.5 830.8 L534.5 830.3 L535.5 830.4 L536.5 829.8 L537.5 829.8 L538.5 829.6 L539.5 829.7 L540.5 829.2 L541.5 829.4 L542.5 829.0 L543.5 829.0 L544.5 829.2 L545.5 829.1 L546.5 828.6 L547.5 829.0 L548.5 829.3 L549.5 829.6 L550.5 829.5 L551.5 829.9 L552.5 829.4 L553.5 830.0 L554.5 830.2 L555.5 830.5 L556.5 830.9 L557.5 831.3 L558.5 831.4 L559.5 831.3 L560.5 832.5 L561.5 832.7 L562.5 833.8 L563.5 834.3 L564.5 835.1 L565.5 835.9 L566.5 837.3 L567.5 838.0 L568.5 838.7 L569.5 839.8 L570.5 840.8 L571.5 841.6 L572.5 843.3 L573.5 844.6 L574.5 846.1 L575.5 847.3 L576.5 848.7 L577.5 850.0 L578.5 852.1 L579.5 854.1 L580.5 855.4 L581.5 857.4 L582.5 858.9 L583.5 861.0 L584.5 862.6 L585.5 865.1 L586.5 866.7 L587.5 869.2 L588.5 871.4 L589.5 873.6 L590.5 876.0 L591.5 878.7 L592.5 880.7 L593.5 882.7 L594.5 885.1 L595.5 887.6 L596.5 890.1 L597.5 893.0 L598.5 895.0 L599.5 897.4 L600.5 900.1 L601.5 902.6 L602.5 905.1 L603.5 907.6 L604.5 910.5 L605.5 912.1 L606.5 914.8 L607.5 916.4 L608.5 918.7 L609.5 920.3 L610.5 922.2 L611.5 923.3 L612.5 925.2 L613.5 927.2 L614.5 928.5 L615.5 930.0 L616.5 931.5 L617.5 932.7 L618.5 934.2 L619.5 935.9 L620.5 937.5 L621.5 939.2 L622.5 941.1 L623.5 942.3 L624.5 943.7 L625.5 945.9 L626.5 947.3 L627.5 949.2 L628.5 950.3 L629.5 952.2 L630.5 953.1 L631.5 955.0 L632.5 955.6 L633.5 956.5 L634.5 957.6 L635.5 958.5 L636.5 959.2 L637.5 960.4 L638.5 961.5 L639.5 961.9 L640.5 962.4 L641.5 962.6 L642.5 962.7 L643.5 963.2 L644.5 963.5 L645.5 963.2 L646.5 963.3 L647.5 963.3 L648.5 963.4 L649.5 963.0 L650.5 963.6 L651.5 963.1 L652.5 963.5 L653.5 963.2 L654.5 963.5 L655.5 963.4 L656.5 963.9 L657.5 963.5 L658.5 963.1 L659.5 963.5 L660.5 963.5 L661.5 963.9 L662.5 964.2 L663.5 964.5 L664.5 964.6 L665.5 965.4 L666.5 965.9 L667.5 966.4 L668.5 967.4 L669.5 968.2 L670.5 968.3 L671.5 969.2 L672.5 969.7 L673.5 970.8 L674.5 971.2 L675.5 972.2 L676.5 972.3 L677.5 973.8 L678.5 974.8 L679.5 975.5 L680.5 976.3 L681.5 977.1 L682.5 977.9 L683.5 978.4 L684.5 979.7 L685.5 980.4 L686.5 981.5 L687.5 982.1 L688.5 982.5 L689.5 983.0 L690.5 984.2 L691.5 984.8 L692.5 985.4 L693.5 986.1 L694.5 987.0 L695.5 987.3 L696.5 988.4 L697.5 988.5 L698.5 989.2 L699.5 989.5 L700.5 990.1 L701.5 990.2 L702.5 991.1 L703.5 991.9 L704.5 991.8 L705.5 992.2 L706.5 992.2 L707.5 992.8 L708.5 993.1 L709.5 993.9 L710.5 993.7 L711.5 994.2 L712.5 994.5 L713.5 994.5 L714.5 994.6 L715.5 995.2 L716.5 995.1 L717.5 995.4 L718.5 995.4 L719.5 995.8 L720.5 995.8 L721.5 996.5 L722.5 995.9 L723.5 995.9 L724.5 996.3 L725.5 996.5 L726.5 996.8 L727.5 996.8 L728.5 997.1 L729.5 996.5 L730.5 997.1 L731.5 996.7 L732.5 997.1 L733.5 997.4 L734.5 997.6 L735.5 997.2 L736.5 997.4 L737.5 997.7 L738.5 997.7 L739.5 997.7 L740.5 997.8 L741.5 997.5 L742.5 998.1 L743.5 998.2 L744.5 998.2 L745.5 998.1 L746.5 998.3 L747.5 998.0 L748.5 997.7 L749.5 998.4 L750.5 998.2 L751.5 998.6 L752.5 998.1 L753.5 998.1 L754.5 997.5 L755.5 998.2 L756.5 997.7 L757.5 997.5 L758.5 997.5 L759.5 997.4 L760.5 997.1 L761.5 997.0 L762.5 996.8 L763.5 996.5 L764.5 996.2 L765.5 996.0 L766.5 995.5 L767.5 995.9 L768.5 995.8 L769.5 995.1 L770.5 994.8 L771.5 994.4 L772.5 994.3 L773.5 993.7 L774.5 994.0 L775.5 992.9 L776.5 992.9 L777.5 992.2 L778.5 991.8 L779.5 991.1 L780.5 991.3 L781.5 990.8 L782.5 990.3 L783.5 990.3 L784.5 990.2 L785.5 990.3 L786.5 990.3 L787.5 989.8 L788.5 989.5 L789.5 989.7 L790.5 989.8 L791.5 989.5 L792.5 989.3 L793.5 988.5 L794.5 986.5 L795.5 985.2 L796.5 982.9 L797.5 981.5 L798.5 979.4 L799.5 978.1 L800.5 975.8 L801.5 975.0 L802.5 974.0 L803.5 972.8 L804.5 971.7 L805.5 970.7 L806.5 969.7 L807.5 968.8 L808.5 968.2 L809.5 967.1 L810.5 966.1 L811.5 965.3 L812.5 963.9 L813.5 962.8 L814.5 962.3 L815.5 961.3 L816.5 960.2 L817.5 958.8 L818.5 957.8 L819.5 956.2 L820.5 955.9 L821.5 954.3 L822.5 953.5 L823.5 952.4 L824.5 951.7 L825.5 950.4 L826.5 949.7 L827.5 949.2 L828.5 948.1 L829.5 947.6 L830.5 946.8 L831.5 946.4 L832.5 946.2 L833.5 946.0 L834.5 945.0 L835.5 944.5 L836.5 944.2 L837.5 943.8 L838.5 943.3 L839.5 943.3 L840.5 942.4 L841.5 942.2 L842.5 941.2 L843.5 940.8 L844.5 939.7 L845.5 939.7 L846.5 938.3 L847.5 937.3 L848.5 936.5 L849.5 935.6 L850.5 934.7 L851.5 933.4 L852.5 932.3 L853.5 930.7 L854.5 930.2 L855.5 929.0 L856.5 928.0 L857.5 927.1 L858.5 926.2 L859.5 924.7 L860.5 923.9 L861.5 923.2 L862.5 922.7 L863.5 922.0 L864.5 921.8 L865.5 920.6 L866.5 920.7 L867.5 920.2 L868.5 919.9 L869.5 919.2 L870.5 919.2 L871.5 918.8 L872.5 918.3 L873.5 918.5 L874.5 917.8 L875.5 917.6 L876.5 916.8 L877.5 916.2 L878.5 915.3 L879.5 915.3 L880.5 914.3 L881.5 912.9 L882.5 911.5 L883.5 910.0 L884.5 908.2 L885.5 907.0 L886.5 905.2 L887.5 903.7 L888.5 902.1 L889.5 900.8 L890.5 898.3 L891.5 896.7 L892.5 894.9 L893.5 893.0 L894.5 891.9 L895.5 891.3 L896.5 891.4 L897.5 891.0 L898.5 891.4 L899.5 890.3 L900.5 890.5 L901.5 890.4 L902.5 890.8 L903.5 891.3 L904.5 892.6 L905.5 893.3 L906.5 894.0 L907.5 894.6 L908.5 894.9 L909.5 894.9 L910.5 895.3 L911.5 894.8 L912.5 894.6 L913.5 894.7 L914.5 894.9 L915.5 894.5 L916.5 894.2 L917.5 894.0 L918.5 892.9 L919.5 892.8 L920.5 891.6 L921.5 891.3 L922.5 890.3 L923.5 890.1 L924.5 888.9 L925.5 889.0 L926.5 889.3 L927.5 889.6 L928.5 889.8 L929.5 890.0 L930.5 889.9 L931.5 890.3 L932.5 890.6 L933.5 890.5 L934.5 890.2 L935.5 890.3 L936.5 889.3 L937.5 888.4 L938.5 887.7 L939.5 886.3 L940.5 885.0 L941.5 883.2 L942.5 882.0 L943.5 880.1 L944.5 879.5 L945.5 877.3 L946.5 875.2 L947.5 872.8 L948.5 870.8 L949.5 868.3 L950.5 866.3 L951.5 864.4 L952.5 862.2 L953.5 860.3 L954.5 858.2 L955.5 855.8 L956.5 854.0 L957.5 852.1 L958.5 849.8 L959.5 847.6 L960.5 845.9 L961.5 844.3 L962.5 842.6 L963.5 841.3 L964.5 838.9 L965.5 837.6 L966.5 835.8 L967.5 834.6 L968.5 832.7 L969.5 832.0 L970.5 830.3 L971.5 828.6 L972.5 827.3 L973.5 825.9 L974.5 824.8 L975.5 823.5 L976.5 822.1 L977.5 820.3 L978.5 819.5 L979.5 818.3 L980.5 816.9 L981.5 816.0 L982.5 815.3 L983.5 814.5 L984.5 814.4 L985.5 814.2 L986.5 814.3 L987.5 813.9 L988.5 814.0 L989.5 812.7 L990.5 812.9 L991.5 812.6 L992.5 812.3 L993.5 811.2 L994.5 810.2 L995.5 808.6 L996.5 806.9 L997.5 805.4 L998.5 803.0 L999.5 801.1 L1000.5 799.0 L1001.5 796.6 L1002.5 793.3 L1003.5 790.4 L1004.5 786.8 L1005.5 783.1 L1006.5 779.6 L1007.5 776.8 L1008.5 773.9 L1009.5 772.0 L1010.5 769.1 L1011.5 766.8 L1012.5 764.5 L1013.5 763.3 L1014.5 761.3 L1015.5 760.5 L1016.5 759.5 L1017.5 758.4 L1018.5 757.6 L1019.5 756.5 L1020.5 755.8 L1021.5 754.8 L1022.5 754.4 L1023.5 752.8 L1024.5 751.9 L1025.5 751.2 L1026.5 750.4 L1027.5 749.4 L1028.5 748.6 L1029.5 747.3 L1030.5 746.3 L1031.5 745.2 L1032.5 744.4 L1033.5 743.1 L1034.5 742.8 L1035.5 741.0 L1036.5 739.6 L1037.5 738.1 L1038.5 737.0 L1039.5 735.4 L1040.5 734.0 L1041.5 732.6 L1042.5 730.7 L1043.5 730.1 L1044.5 728.5 L1045.5 727.3 L1046.5 725.8 L1047.5 724.9 L1048.5 723.2 L1049.5 722.3 L1050.5 721.4 L1051.5 720.4 L1052.5 719.2 L1053.5 718.1 L1054.5 716.5 L1055.5 715.8 L1056.5 715.1 L1057.5 714.4 L1058.5 713.2 L1059.5 712.8 L1060.5 711.8 L1061.5 711.0 L1062.5 710.5 L1063.5 709.6 L1064.5 709.2 L1065.5 708.3 L1066.5 707.9 L1067.5 706.7 L1068.5 707.0 L1069.5 706.0 L1070.5 705.1 L1071.5 704.2 L1072.5 703.7 L1073.5 703.0 L1074.5 702.8 L1075.5 702.2 L1076.5 701.3 L1077.5 700.7 L1078.5 700.2 L1079.5 699.0 L1080.5 698.8 L1081.5 698.2 L1082.5 697.5 L1083.5 696.6 L1084.5 695.8 L1085.5 695.1 L1086.5 694.0 L1087.5 693.4 L1088.5 691.4 L1089.5 690.7 L1090.5 689.4 L1091.5 688.7 L1092.5 687.2 L1093.5 686.6 L1094.5 685.3 L1095.5 684.4 L1096.5 683.9 L1097.5 683.5 L1098.5 683.3 L1099.5 683.3 L1100.5 682.7 L1101.5 682.0 L1102.5 681.8 L1103.5 681.9 L1104.5 681.3 L1105.5 681.2 L1106.5 680.8 L1107.5 680.3 L1108.5 680.2 L1109.5 679.5 L1110.5 679.1 L1111.5 678.2 L1112.5 678.2 L1113.5 676.8 L1114.5 676.7 L1115.5 676.2 L1116.5 675.8 L1117.5 675.0 L1118.5 674.3 L1119.5 673.5 L1120.5 673.0 L1121.5 673.1 L1122.5 672.4 L1123.5 672.0 L1124.5 671.9 L1125.5 671.3 L1126.5 670.7 L1127.5 670.5 L1128.5 670.2 L1129.5 669.8 L1130.5 669.4 L1131.5 669.2 L1132.5 668.5 L1133.5 669.1 L1134.5 668.4 L1135.5 668.1 L1136.5 667.5 L1137.5 668.0 L1138.5 667.6 L1139.5 668.0 L1140.5 668.1 L1141.5 667.9 L1142.5 668.1 L1143.5 668.0 L1144.5 668.1 L1145.5 668.4 L1146.5 669.1 L1147.5 668.9 L1148.5 669.0 L1149.5 669.4 L1150.5 669.7 L1151.5 670.0 L1152.5 670.4 L1153.5 670.2 L1154.5 670.7 L1155.5 671.2 L1156.5 672.0 L1157.5 671.9 L1158.5 673.1 L1159.5 673.1 L1160.5 673.6 L1161.5 674.1 L1162.5 675.1 L1163.5 675.9 L1164.5 676.8 L1165.5 677.4 L1166.5 677.5 L1167.5 678.8 L1168.5 679.5 L1169.5 680.4 L1170.5 681.3 L1171.5 682.6 L1172.5 683.6 L1173.5 684.9 L1174.5 686.2 L1175.5 687.4 L1176.5 688.6 L1177.5 690.2 L1178.5 690.8 L1179.5 692.6 L1180.5 694.0 L1181.5 695.5 L1182.5 696.0 L1183.5 697.2 L1184.5 698.0 L1185.5 699.2 L1186.5 700.9 L1187.5 701.8 L1188.5 703.2 L1189.5 704.3 L1190.5 705.6 L1191.5 706.1 L1192.5 707.7 L1193.5 708.5 L1194.5 709.2 L1195.5 709.7 L1196.5 710.2 L1197.5 710.5 L1198.5 711.0 L1199.5 710.6 L1200.5 710.0 L1201.5 709.4 L1202.5 709.5 L1203.5 708.5 L1204.5 708.3 L1205.5 707.6 L1206.5 706.9 L1207.5 706.0 L1208.5 705.2 L1209.5 704.5 L1210.5 703.7 L1211.5 703.5 L1212.5 701.7 L1213.5 700.9 L1214.5 699.7 L1215.5 698.9 L1216.5 697.5 L1217.5 696.6 L1218.5 695.1 L1219.5 694.1 L1220.5 693.3 L1221.5 692.3 L1222.5 691.2 L1223.5 690.7 L1224.5 689.4 L1225.5 688.4 L1226.5 687.5 L1227.5 687.3 L1228.5 686.5 L1229.5 686.0 L1230.5 685.3 L1231.5 684.3 L1232.5 684.2 L1233.5 683.4 L1234.5 683.1 L1235.5 682.2 L1236.5 682.4 L1237.5 681.3 L1238.5 681.1 L1239.5 680.7 L1240.5 680.4 L1241.5 679.9 L1242.5 679.6 L1243.5 679.1 L1244.5 679.1 L1245.5 679.5 L1246.5 679.4 L1247.5 678.8 L1248.5 679.0 L1249.5 678.6 L1250.5 678.7 L1251.5 678.9 L1252.5 678.9 L1253.5 678.9 L1254.5 678.8 L1255.5 678.8 L1256.5 678.0 L1257.5 678.8 L1258.5 678.3 L1259.5 678.2 L1260.5 677.4 L1261.5 677.5 L1262.5 676.8 L1263.5 676.6 L1264.5 675.9 L1265.5 674.8 L1266.5 674.2 L1267.5 673.6 L1268.5 672.8 L1269.5 672.2 L1270.5 671.7 L1271.5 670.7 L1272.5 669.6 L1273.5 669.0 L1274.5 668.2 L1275.5 667.7 L1276.5 667.4 L1277.5 666.1 L1278.5 665.6 L1279.5 664.7 L1280.5 664.4 L1281.5 662.9 L1282.5 662.7 L1283.5 661.4 L1284.5 660.8 L1285.5 660.0 L1286.5 659.3 L1287.5 658.5 L1288.5 657.8 L1289.5 656.9 L1290.5 655.6 L1291.5 655.2 L1292.5 654.8 L1293.5 654.1 L1294.5 653.5 L1295.5 652.8 L1296.5 651.9 L1297.5 651.5 L1298.5 650.9 L1299.5 650.3 L1300.5 649.6 L1301.5 649.6 L1302.5 648.3 L1303.5 648.2 L1304.5 647.5 L1305.5 647.3 L1306.5 646.3 L1307.5 646.0 L1308.5 645.3 L1309.5 645.0 L1310.5 645.1 L1311.5 644.3 L1312.5 643.8 L1313.5 643.3 L1314.5 643.0 L1315.5 642.4 L1316.5 642.5 L1317.5 642.3 L1318.5 641.9 L1319.5 641.6 L1320.5 641.2 L1321.5 640.6 L1322.5 640.9 L1323.5 640.5 L1324.5 640.2 L1325.5 639.6 L1326.5 640.1 L1327.5 639.4 L1328.5 639.6 L1329.5 639.1 L1330.5 638.7 L1331.5 638.4 L1332.5 638.3 L1333.5 638.2 L1334.5 637.9 L1335.5 638.3 L1336.5 637.4 L1337.5 637.0 L1338.5 636.7 L1339.5 636.6 L1340.5 636.4 L1341.5 636.3 L1342.5 635.7 L1343.5 635.4 L1344.5 635.4 L1345.5 635.2 L1346.5 634.5 L1347.5 634.9 L1348.5 634.4 L1349.5 634.4 L1350.5 634.2 L1351.5 634.7 L1352.5 634.5 L1353.5 634.6 L1354.5 634.4 L1355.5 633.9 L1356.5 634.5 L1357.5 634.6 L1358.5 634.8 L1359.5 634.5 L1360.5 634.8 L1361.5 634.4 L1362.5 634.6 L1363.5 634.7 L1364.5 634.7 L1365.5 634.9 L1366.5 635.1 L1367.5 634.8 L1368.5 634.9 L1369.5 635.2 L1370.5 635.4 L1371.5 634.9 L1372.5 635.3 L1373.5 635.2 L1374.5 635.8 L1375.5 636.3 L1376.5 636.4 L1377.5 636.5 L1378.5 636.8 L1379.5 637.4 L1380.5 637.2 L1381.5 638.4 L1382.5 638.7 L1383.5 639.3 L1384.5 639.4 L1385.5 640.0 L1386.5 640.2 L1387.5 641.1 L1388.5 641.7 L1389.5 642.0 L1390.5 642.8 L1391.5 644.0 L1392.5 644.5 L1393.5 645.5 L1394.5 646.3 L1395.5 647.1 L1396.5 647.9 L1397.5 649.2 L1398.5 650.1 L1399.5 651.4 L1400.5 653.1 L1401.5 653.6 L1402.5 655.0 L1403.5 656.3 L1404.5 658.5 L1405.5 659.7 L1406.5 661.9 L1407.5 663.2 L1408.5 665.1 L1409.5 667.1 L1410.5 669.0 L1411.5 670.9 L1412.5 673.4 L1413.5 675.8 L1414.5 678.0 L1415.5 680.9 L1416.5 684.3 L1417.5 687.4 L1418.5 691.2 L1419.5 695.0 L1420.5 699.3 L1421.5 704.6 L1422.5 710.5 L1423.5 716.8 L1424.5 723.2 L1425.5 730.9 L1426.5 737.3 L1427.5 745.4 L1428.5 753.3 L1429.5 761.9 L1430.5 770.0 L1431.5 778.7 L1432.5 787.0 L1433.5 796.0 L1434.5 805.6 L1435.5 814.7 L1436.5 824.3 L1437.5 835.6 L1438.5 849.5 L1439.5 865.3 L1440.5 880.9 L1441.5 896.1 L1442.5 910.5 L1443.5 925.0 L1444.5 938.4 L1445.5 947.4 L1446.5 954.9 L1447.5 960.4 L1448.5 965.6 L1449.5 970.5 L1450.5 977.2 L1451.5 982.0 L1452.5 985.1 L1453.5 985.0 L1454.5 984.8 L1455.5 984.9 L1456.5 985.1 L1457.5 983.6 L1458.5 980.2 L1459.5 976.8 L1460.5 973.4 L1461.5 972.1 L1462.5 972.6 L1463.5 973.4 L1464.5 974.7 L1465.5 976.1 L1466.5 976.9 L1467.5 978.0 L1468.5 979.5 L1469.5 981.6 L1470.5 983.0 L1471.5 985.4 L1472.5 986.3 L1473.5 987.4 L1474.5 987.3 L1475.5 987.1 L1476.5 986.1 L1477.5 985.4 L1478.5 982.9 L1479.5 975.8 L1480.5 968.5 L1481.5 962.8 L1482.5 960.1 L1483.5 957.8 L1484.5 956.4 L1485.5 954.7 L1486.5 953.3 L1487.5 951.2 L1488.5 946.4 L1489.5 936.8 L1490.5 926.8 L1491.5 919.6 L1492.5 917.8 L1493.5 916.2 L1494.5 915.3 L1495.5 913.7 L1496.5 913.2 L1497.5 912.1 L1498.5 912.0 L1499.5 912.3 L1500.5 913.8 L1501.5 917.1 L1502.5 921.8 L1503.5 929.2 L1504.5 942.3 L1505.5 952.6 L1506.5 955.2 L1507.5 957.0 L1508.5 958.2 L1509.5 959.8 L1510.5 961.9 L1511.5 966.0 L1512.5 970.9 L1513.5 976.1 L1514.5 981.5 L1515.5 987.3 L1516.5 992.8 L1517.5 999.6 L1518.5 1003.4 L1519.5 1003.2 L1520.5 1000.1 L1521.5 996.0 L1522.5 990.6 L1523.5 985.3 L1524.5 979.7 L1525.5 972.1 L1526.5 964.9 L1527.5 957.0 L1528.5 947.9 L1529.5 938.8 L1530.5 934.0 L1531.5 932.4 L1532.5 931.7 L1533.5 931.5 L1534.5 931.3 L1535.5 930.8 L1536.5 930.8 L1537.5 930.5 L1538.5 930.3 L1539.5 929.9 L1540.5 929.8 L1541.5 923.3 L1542.5 904.9 L1543.5 884.4 L1544.5 873.9 L1545.5 873.4 L1546.5 873.2 L1547.5 872.8 L1548.5 870.1 L1549.5 849.5 L1550.5 826.0 L1551.5 821.7 L1552.5 819.0 L1553.5 817.2 L1554.5 815.7 L1555.5 815.3 L1556.5 818.5 L1557.5 833.3 L1558.5 852.2 L1559.5 880.5 L1560.5 907.0 L1561.5 917.0 L1562.5 923.2 L1563.5 927.8 L1564.5 929.7 L1565.5 929.5 L1566.5 928.5 L1567.5 927.6 L1568.5 926.4 L1569.5 924.1 L1570.5 922.3 L1571.5 919.2 L1572.5 915.5 L1573.5 903.4 L1574.5 886.5 L1575.5 868.3 L1576.5 854.3 L1577.5 839.9 L1578.5 825.7 L1579.5 813.6 L1580.5 802.9 L1581.5 793.1 L1582.5 789.6 L1583.5 789.1 L1584.5 788.5 L1585.5 788.0 L1586.5 788.0 L1587.5 787.5 L1588.5 787.5 L1589.5 787.6 L1590.5 788.3 L1591.5 793.1 L1592.5 801.0 L1593.5 811.1 L1594.5 829.6 L1595.5 854.8 L1596.5 862.8 L1597.5 866.0 L1598.5 868.1 L1599.5 869.9 L1600.5 870.8 L1601.5 872.3 L1602.5 873.6 L1603.5 874.2 L1604.5 875.1 L1605.5 875.5 L1606.5 872.2 L1607.5 866.1 L1608.5 860.2 L1609.5 857.7 L1610.5 859.5 L1611.5 863.6 L1612.5 868.2 L1613.5 873.0 L1614.5 878.0 L1615.5 880.7 L1616.5 881.7 L1617.5 879.0 L1618.5 874.0 L1619.5 865.9 L1620.5 853.6 L1621.5 824.3 L1622.5 798.6 L1623.5 782.5 L1624.5 766.5 L1625.5 751.9 L1626.5 739.8 L1627.5 731.5 L1628.5 727.2 L1629.5 728.9 L1630.5 736.0 L1631.5 746.9 L1632.5 759.8 L1633.5 771.9 L1634.5 780.8 L1635.5 785.1 L1636.5 778.9 L1637.5 760.9 L1638.5 736.9 L1639.5 714.0 L1640.5 696.1 L1641.5 691.0 L1642.5 692.5 L1643.5 696.5 L1644.5 701.4 L1645.5 707.1 L1646.5 711.1 L1647.5 712.9 L1648.5 711.5 L1649.5 704.8 L1650.5 696.1 L1651.5 686.5 L1652.5 678.6 L1653.5 673.5 L1654.5 673.8 L1655.5 677.2 L1656.5 682.7 L1657.5 688.8 L1658.5 692.9 L1659.5 692.2 L1660.5 687.0 L1661.5 678.4 L1662.5 670.4 L1663.5 664.7 L1664.5 664.7 L1665.5 666.5 L1666.5 670.5 L1667.5 674.0 L1668.5 676.0 L1669.5 676.3 L1670.5 674.3 L1671.5 670.7 L1672.5 665.5 L1673.5 660.9 L1674.5 656.0 L1675.5 653.2 L1676.5 651.8 L1677.5 653.9 L1678.5 660.9 L1679.5 671.7 L1680.5 683.8 L1681.5 696.3 L1682.5 711.6 L1683.5 732.2 L1684.5 751.2 L1685.5 763.5 L1686.5 763.2 L1687.5 757.1 L1688.5 747.0 L1689.5 734.9 L1690.5 722.3 L1691.5 712.2 L1692.5 704.6 L1693.5 695.7 L1694.5 688.0 L1695.5 680.6 L1696.5 676.0 L1697.5 673.9 L1698.5 678.9 L1699.5 689.9 L1700.5 705.1 L1701.5 719.9 L1702.5 734.9 L1703.5 752.0 L1704.5 758.4 L1705.5 756.6 L1706.5 754.0 L1707.5 751.5 L1708.5 753.3 L1709.5 769.9 L1710.5 788.6 L1711.5 792.1 L1712.5 790.5 L1713.5 787.7 L1714.5 783.0 L1715.5 777.6 L1716.5 771.4 L1717.5 765.4 L1718.5 758.0 L1719.5 748.4 L1720.5 734.7 L1721.5 720.7 L1722.5 706.8 L1723.5 694.7 L1724.5 684.9 L1725.5 676.9 L1726.5 669.2 L1727.5 663.0 L1728.5 660.2 L1729.5 662.2 L1730.5 668.2 L1731.5 676.8 L1732.5 685.1 L1733.5 691.5 L1734.5 694.1 L1735.5 692.4 L1736.5 687.0 L1737.5 679.4 L1738.5 671.9 L1739.5 664.1 L1740.5 659.2 L1741.5 655.5 L1742.5 652.6 L1743.5 649.3 L1744.5 647.2 L1745.5 644.6 L1746.5 642.6 L1747.5 641.2 L1748.5 639.6 L1749.5 638.0 L1750.5 636.6 L1751.5 635.5 L1752.5 634.6 L1753.5 634.2 L1754.5 633.9 L1755.5 636.4 L1756.5 644.7 L1757.5 652.9 L1758.5 656.0 L1759.5 656.6 L1760.5 656.7 L1761.5 657.0 L1762.5 656.7 L1763.5 656.7 L1764.5 651.1 L1765.5 644.0 L1766.5 636.3 L1767.5 631.8 L1768.5 637.2 L1769.5 656.7 L1770.5 677.0 L1771.5 686.1 L1772.5 686.3 L1773.5 686.0 L1774.5 685.5 L1775.5 674.7 L1776.5 661.0 L1777.5 660.0 L1778.5 678.2 L1779.5 703.3 L1780.5 728.5 L1781.5 753.6 L1782.5 753.9 L1783.5 747.6 L1784.5 741.6 L1785.5 738.0 L1786.5 745.4 L1787.5 757.8 L1788.5 763.2 L1789.5 759.8 L1790.5 754.3 L1791.5 744.6 L1792.5 718.4 L1793.5 693.9 L1794.5 688.2 L1795.5 686.3 L1796.5 684.8 L1797.5 684.1 L1798.5 682.8 L1799.5 682.1 L1800.5 680.9 L1801.5 678.2 L1802.5 669.6 L1803.5 656.9 L1804.5 645.8 L1805.5 643.0 L1806.5 642.4 L1807.5 642.3 L1808.5 644.4 L1809.5 657.9 L1810.5 668.2 L1811.5 669.2 L1812.5 669.5 L1813.5 669.6 L1814.5 663.4 L1815.5 650.6 L1816.5 640.6 L1817.5 643.1 L1818.5 663.5 L1819.5 685.6 L1820.5 696.1 L1821.5 701.9 L1822.5 705.5 L1823.5 704.9 L1824.5 701.6 L1825.5 695.8 L1826.5 687.1 L1827.5 663.3 L1828.5 653.8 L1829.5 652.1 L1830.5 651.5 L1831.5 650.6 L1832.5 651.2 L1833.5 668.3 L1834.5 694.5 L1835.5 710.2 L1836.5 722.6 L1837.5 732.9 L1838.5 738.0 L1839.5 737.2 L1840.5 731.8 L1841.5 724.3 L1842.5 712.4 L1843.5 691.4 L1844.5 674.0 L1845.5 665.0 L1846.5 658.0 L1847.5 653.1 L1848.5 649.5 L1849.5 647.0 L1850.5 644.9 L1851.5 644.0 L1852.5 644.3 L1853.5 646.3 L1854.5 648.6 L1855.5 652.9 L1856.5 658.0 L1857.5 671.4 L1858.5 691.8 L1859.5 715.0 L1860.5 745.9 L1861.5 776.4 L1862.5 795.1 L1863.5 799.2 L1864.5 794.2 L1865.5 784.1 L1866.5 758.2 L1867.5 720.4 L1868.5 697.0 L1869.5 677.3 L1870.5 664.4 L1871.5 658.2 L1872.5 652.9 L1873.5 648.2 L1874.5 644.8 L1875.5 641.9 L1876.5 640.2 L1877.5 639.2 L1878.5 638.2 L1879.5 636.5 L1880.5 635.7 L1881.5 635.1 L1882.5 634.4 L1883.5 634.3 L1884.5 633.8 L1885.5 633.8 L1886.5 633.9 L1887.5 635.9 L1888.5 637.4 L1889.5 640.8 L1890.5 644.2 L1891.5 652.8 L1892.5 661.5 L1893.5 662.7 L1894.5 654.6 L1895.5 643.6 L1896.5 636.2 L1897.5 636.1 L1898.5 639.3 L1899.5 644.5 L1900.5 649.2 L1901.5 653.0 L1902.5 654.4 L1903.5 652.1 L1904.5 647.0 L1905.5 641.1 L1906.5 636.0 L1907.5 632.2 L1908.5 632.7 L1909.5 635.9 L1910.5 642.2 L1911.5 648.8 L1912.5 654.8 L1913.5 656.8 L1914.5 654.9 L1915.5 648.9 L1916.5 641.2 L1917.5 634.7 L1918.5 631.2 L1919.5 633.6 L1920.5 642.3 L1921.5 654.4 L1922.5 669.5 L1923.5 695.2 L1924.5 707.3 L1925.5 707.8 L1926.5 708.2 L1927.5 712.2 L1928.5 720.2 L1929.5 725.4 L1930.5 716.6 L1931.5 698.0 L1932.5 682.0 L1933.5 670.3 L1934.5 660.1 L1935.5 658.1 L1936.5 658.6 L1937.5 659.7 L1938.5 660.8 L1939.5 666.3 L1940.5 685.1 L1941.5 705.3 L1942.5 721.8 L1943.5 737.7 L1944.5 747.5 L1945.5 746.9 L1946.5 739.5 L1947.5 728.9 L1948.5 719.1 L1949.5 707.3 L1950.5 696.6 L1951.5 692.2 L1952.5 690.4 L1953.5 688.3 L1954.5 688.2 L1955.5 688.1 L1956.5 689.4 L1957.5 691.0 L1958.5 694.5 L1959.5 697.6 L1960.5 703.5 L1961.5 713.1 L1962.5 723.5 L1963.5 733.7 L1964.5 745.5 L1965.5 757.4 L1966.5 765.0 L1967.5 767.4 L1968.5 767.8 L1969.5 767.9 L1970.5 768.3 L1971.5 769.0 L1972.5 769.4 L1973.5 770.4 L1974.5 772.6 L1975.5 777.5 L1976.5 783.0 L1977.5 788.9 L1978.5 793.8 L1979.5 800.4 L1980.5 806.8 L1981.5 813.1 L1982.5 818.9 L1983.5 824.2 L1984.5 829.1 L1985.5 833.5 L1986.5 838.1 L1987.5 841.7 L1988.5 845.9 L1989.5 849.4 L1990.5 852.3 L1991.5 854.7 L1992.5 857.6 L1993.5 859.9 L1994.5 862.1 L1995.5 863.9 L1996.5 865.3 L1997.5 865.9 L1998.5 867.3 L1999.5 867.7 L2000.5 868.5 L2001.5 869.0 L2002.5 869.6 L2003.5 869.0 L2004.5 868.8 L2005.5 868.1 L2006.5 866.7 L2007.5 865.5 L2008.5 863.1 L2009.5 860.9 L2010.5 858.3 L2011.5 855.4 L2012.5 850.8 L2013.5 847.1 L2014.5 843.8 L2015.5 840.9 L2016.5 838.1 L2017.5 836.8 L2018.5 837.0 L2019.5 839.5 L2020.5 843.5 L2021.5 855.9 L2022.5 866.5 L2023.5 869.1 L2024.5 870.3 L2025.5 873.9 L2026.5 880.8 L2027.5 885.8 L2028.5 884.6 L2029.5 879.0 L2030.5 870.2 L2031.5 840.3 L2032.5 804.2 L2033.5 780.2 L2034.5 760.9 L2035.5 745.5 L2036.5 733.2 L2037.5 721.7 L2038.5 712.4 L2039.5 704.4 L2040.5 697.1 L2041.5 690.8 L2042.5 685.1 L2043.5 679.5 L2044.5 675.1 L2045.5 671.1 L2046.5 667.4 L2047.5 663.8 L2048.5 661.2 L2049.5 658.0 L2050.5 654.9 L2051.5 652.3 L2052.5 649.4 L2053.5 647.5 L2054.5 644.9 L2055.5 642.4 L2056.5 639.0 L2057.5 637.2 L2058.5 634.7 L2059.5 633.1 L2060.5 632.1 L2061.5 631.9 L2062.5 633.6 L2063.5 638.2 L2064.5 644.2 L2065.5 651.9 L2066.5 668.1 L2067.5 683.2 L2068.5 686.8 L2069.5 688.7 L2070.5 689.8 L2071.5 683.8 L2072.5 664.7 L2073.5 649.2 L2074.5 643.4 L2075.5 638.8 L2076.5 637.0 L2077.5 636.3 L2078.5 638.3 L2079.5 640.3 L2080.5 643.3 L2081.5 646.3 L2082.5 652.7 L2083.5 661.0 L2084.5 671.4 L2085.5 685.4 L2086.5 705.5 L2087.5 728.5 L2088.5 755.5 L2089.5 778.3 L2090.5 790.7 L2091.5 795.3 L2092.5 789.2 L2093.5 778.3 L2094.5 768.5 L2095.5 757.8 L2096.5 755.8 L2097.5 759.6 L2098.5 764.2 L2099.5 769.2 L2100.5 771.7 L2101.5 770.4 L2102.5 761.7 L2103.5 749.8 L2104.5 711.9 L2105.5 671.5 L2106.5 647.4 L2107.5 629.3 L2108.2 622.6 L2112.0 622.6" stroke="#0000ff"/>
<path d="M182.5 340.2 L185.5 340.2 L186.5 341.0 L187.5 340.4 L188.5 339.8 L189.5 340.9 L190.5 340.5 L191.5 340.2 L192.5 339.0 L193.5 341.6 L194.5 340.4 L195.5 342.3 L196.5 340.1 L197.5 340.2 L198.5 340.0 L199.5 341.0 L200.5 340.6 L201.5 340.4 L202.5 342.3 L203.5 340.7 L204.5 341.0 L205.5 340.2 L206.5 341.0 L207.5 340.9 L208.5 341.4 L209.5 340.5 L210.5 340.6 L211.5 342.0 L212.5 342.1 L213.5 340.4 L214.5 341.2 L215.5 340.2 L216.5 341.6 L217.5 340.7 L218.5 342.3 L219.5 341.1 L220.5 342.4 L221.5 341.1 L222.5 339.9 L223.5 341.3 L224.5 341.6 L225.5 342.4 L226.5 340.8 L227.5 342.1 L228.5 340.9 L229.5 342.2 L230.5 341.4 L231.5 340.9 L232.5 341.1 L233.5 342.1 L234.5 341.5 L235.5 341.6 L236.5 342.1 L237.5 342.5 L238.5 340.6 L239.5 341.5 L240.5 340.2 L241.5 342.4 L242.5 342.5 L243.5 342.3 L244.5 341.1 L245.5 341.5 L246.5 342.3 L247.5 340.5 L248.5 342.3 L249.5 341.2 L250.5 342.6 L251.5 341.5 L252.5 342.2 L253.5 341.2 L254.5 342.4 L255.5 342.1 L256.5 340.7 L257.5 341.1 L258.5 342.6 L259.5 342.4 L260.5 342.7 L261.5 341.5 L262.5 341.7 L263.5 341.0 L264.5 342.4 L265.5 341.3 L266.5 342.3 L267.5 343.3 L268.5 341.9 L269.5 341.9 L270.5 341.1 L271.5 343.1 L272.5 341.4 L273.5 343.1 L274.5 341.3 L275.5 342.7 L276.5 343.3 L277.5 343.2 L278.5 342.1 L279.5 342.4 L280.5 342.9 L281.5 342.5 L282.5 343.0 L283.5 344.1 L284.5 343.7 L285.5 344.4 L286.5 342.8 L287.5 342.7 L288.5 343.5 L289.5 344.8 L290.5 344.4 L291.5 343.4 L292.5 345.2 L293.5 343.6 L294.5 345.3 L295.5 343.5 L296.5 344.8 L297.5 343.8 L298.5 345.5 L299.5 344.3 L300.5 344.7 L301.5 345.9 L302.5 345.1 L303.5 344.1 L304.5 343.8 L305.5 344.3 L306.5 345.0 L307.5 345.2 L308.5 344.6 L309.5 343.2 L310.5 344.0 L311.5 343.2 L312.5 342.0 L313.5 343.0 L314.5 342.3 L315.5 342.3 L316.5 339.7 L317.5 340.7 L318.5 338.3 L319.5 340.2 L320.5 338.5 L321.5 338.4 L322.5 339.0 L323.5 340.8 L324.5 341.2 L325.5 340.7 L326.5 341.7 L327.5 341.1 L328.5 341.8 L329.5 342.2 L330.5 342.4 L331.5 343.4 L332.5 344.0 L333.5 343.0 L334.5 342.1 L335.5 342.9 L336.5 343.9 L337.5 342.5 L338.5 343.8 L339.5 342.3 L340.5 344.4 L341.5 343.4 L342.5 344.4 L343.5 342.3 L344.5 343.6 L345.5 343.5 L346.5 342.6 L347.5 343.9 L348.5 344.2 L349.5 344.8 L350.5 343.4 L351.5 343.4 L352.5 342.6 L353.5 344.0 L354.5 344.8 L355.5 343.8 L356.5 343.9 L357.5 344.8 L358.5 344.1 L359.5 344.3 L360.5 343.7 L361.5 345.0 L362.5 343.8 L363.5 345.8 L364.5 343.9 L365.5 345.7 L366.5 346.0 L367.5 345.7 L368.5 344.4 L369.5 344.6 L370.5 346.4 L371.5 345.9 L372.5 347.5 L373.5 346.2 L374.5 346.9 L375.5 346.9 L376.5 347.3 L377.5 346.9 L378.5 348.6 L379.5 349.8 L380.5 349.5 L381.5 349.6 L382.5 351.4 L383.5 351.2 L384.5 353.1 L385.5 352.0 L386.5 353.4 L387.5 353.8 L388.5 356.9 L389.5 356.4 L390.5 357.0 L391.5 358.6 L392.5 358.2 L393.5 359.8 L394.5 360.3 L395.5 363.2 L396.5 363.9 L397.5 366.4 L398.5 366.2 L399.5 367.7 L400.5 369.8 L401.5 371.4 L402.5 372.4 L403.5 374.0 L404.5 375.5 L405.5 377.1 L406.5 378.1 L407.5 379.5 L408.5 380.1 L409.5 381.9 L410.5 382.7 L411.5 383.9 L412.5 385.2 L413.5 386.8 L414.5 387.8 L415.5 388.3 L416.5 389.8 L417.5 390.3 L418.5 392.3 L419.5 393.0 L420.5 394.3 L421.5 395.1 L422.5 396.7 L423.5 397.3 L424.5 398.2 L425.5 399.5 L426.5 400.6 L427.5 401.5 L428.5 402.7 L429.5 403.6 L430.5 405.1 L431.5 406.0 L432.5 407.0 L433.5 407.3 L434.5 408.8 L435.5 410.0 L436.5 410.9 L437.5 412.2 L438.5 412.8 L439.5 414.1 L440.5 414.5 L441.5 416.0 L442.5 416.3 L443.5 418.1 L444.5 418.9 L445.5 419.6 L446.5 420.4 L447.5 421.7 L448.5 422.6 L449.5 423.3 L450.5 424.2 L451.5 425.1 L452.5 426.2 L453.5 427.6 L454.5 428.1 L455.5 429.1 L456.5 430.1 L457.5 430.8 L458.5 431.4 L459.5 432.4 L460.5 433.9 L461.5 434.3 L462.5 435.6 L463.5 435.5 L464.5 436.8 L465.5 437.3 L466.5 438.4 L467.5 438.5 L468.5 439.6 L469.5 440.5 L470.5 441.0 L471.5 441.8 L472.5 442.4 L473.5 443.0 L474.5 443.7 L475.5 444.2 L476.5 444.8 L477.5 445.7 L478.5 446.7 L479.5 446.7 L480.5 446.9 L481.5 447.5 L482.5 447.6 L483.5 448.4 L484.5 448.3 L485.5 449.0 L486.5 448.7 L487.5 449.6 L488.5 448.9 L489.5 449.4 L490.5 449.7 L491.5 449.9 L492.5 449.8 L493.5 449.9 L494.5 450.4 L495.5 450.4 L496.5 450.7 L497.5 450.2 L498.5 450.0 L499.5 450.4 L500.5 450.6 L501.5 450.3 L502.5 450.3 L503.5 450.1 L504.5 449.7 L505.5 448.9 L506.5 448.9 L507.5 448.0 L508.5 448.5 L509.5 447.4 L510.5 447.0 L511.5 446.1 L512.5 446.3 L513.5 445.4 L514.5 444.6 L515.5 444.2 L516.5 443.5 L517.5 443.5 L518.5 442.8 L519.5 442.4 L520.5 441.5 L521.5 441.2 L522.5 440.0 L523.5 439.1 L524.5 438.9 L525.5 438.5 L526.5 437.6 L527.5 436.9 L528.5 435.7 L529.5 435.4 L530.5 434.5 L531.5 434.2 L532.5 432.8 L533.5 433.0 L534.5 432.3 L535.5 431.7 L536.5 431.1 L537.5 430.8 L538.5 430.5 L539.5 429.6 L540.5 429.5 L541.5 428.7 L542.5 429.1 L543.5 428.7 L544.5 428.0 L545.5 427.2 L546.5 427.2 L547.5 426.9 L548.5 426.7 L549.5 426.6 L550.5 426.7 L551.5 426.3 L552.5 426.6 L553.5 425.9 L554.5 426.3 L555.5 426.3 L556.5 426.6 L557.5 425.9 L558.5 426.3 L559.5 426.6 L560.5 426.4 L561.5 426.6 L562.5 425.9 L563.5 426.2 L564.5 426.1 L565.5 426.7 L566.5 426.2 L567.5 426.9 L568.5 427.1 L569.5 427.1 L570.5 427.3 L571.5 427.9 L572.5 428.5 L573.5 429.4 L574.5 429.7 L575.5 430.3 L576.5 430.7 L577.5 432.1 L578.5 432.1 L579.5 432.8 L580.5 433.6 L581.5 434.5 L582.5 435.5 L583.5 436.4 L584.5 438.0 L585.5 438.6 L586.5 440.5 L587.5 440.9 L588.5 442.6 L589.5 444.1 L590.5 446.1 L591.5 446.9 L592.5 448.3 L593.5 449.6 L594.5 450.9 L595.5 452.5 L596.5 453.9 L597.5 455.2 L598.5 457.3 L599.5 458.6 L600.5 460.1 L601.5 461.5 L602.5 463.6 L603.5 464.8 L604.5 466.0 L605.5 467.8 L606.5 469.1 L607.5 471.3 L608.5 472.3 L609.5 473.8 L610.5 474.4 L611.5 476.5 L612.5 477.4 L613.5 478.9 L614.5 480.4 L615.5 481.9 L616.5 483.1 L617.5 484.2 L618.5 485.4 L619.5 486.7 L620.5 488.4 L621.5 489.6 L622.5 490.4 L623.5 492.3 L624.5 493.8 L625.5 495.2 L626.5 496.5 L627.5 497.8 L628.5 499.4 L629.5 500.6 L630.5 502.6 L631.5 503.3 L632.5 505.4 L633.5 506.0 L634.5 506.9 L635.5 507.1 L636.5 508.4 L637.5 509.2 L638.5 509.8 L639.5 510.6 L640.5 510.8 L641.5 511.7 L642.5 512.2 L643.5 512.3 L644.5 512.3 L645.5 512.6 L646.5 512.7 L647.5 512.5 L648.5 512.8 L649.5 512.9 L650.5 512.6 L651.5 512.8 L652.5 512.0 L653.5 512.6 L654.5 512.5 L655.5 513.3 L656.5 512.3 L657.5 512.8 L658.5 512.6 L659.5 512.5 L660.5 512.5 L661.5 512.6 L662.5 513.1 L663.5 513.5 L664.5 514.3 L665.5 514.5 L666.5 515.6 L667.5 516.6 L668.5 517.1 L669.5 517.7 L670.5 518.7 L671.5 519.7 L672.5 520.7 L673.5 521.4 L674.5 522.2 L675.5 522.6 L676.5 524.3 L677.5 524.6 L678.5 526.1 L679.5 527.1 L680.5 528.6 L681.5 529.0 L682.5 530.1 L683.5 531.3 L684.5 532.2 L685.5 533.8 L686.5 534.4 L687.5 535.6 L688.5 536.8 L689.5 538.4 L690.5 539.1 L691.5 540.2 L692.5 541.5 L693.5 542.6 L694.5 543.9 L695.5 545.4 L696.5 546.5 L697.5 548.1 L698.5 548.8 L699.5 549.7 L700.5 550.1 L701.5 552.1 L702.5 552.6 L703.5 553.8 L704.5 554.6 L705.5 555.5 L706.5 556.5 L707.5 557.1 L708.5 558.0 L709.5 558.2 L710.5 559.6 L711.5 559.7 L712.5 560.2 L713.5 560.7 L714.5 561.4 L715.5 561.2 L716.5 561.2 L717.5 561.3 L718.5 561.7 L719.5 562.2 L720.5 562.7 L721.5 562.2 L722.5 562.9 L723.5 562.9 L724.5 563.3 L725.5 563.4 L726.5 564.8 L727.5 565.9 L728.5 566.9 L729.5 567.9 L730.5 567.5 L731.5 568.2 L732.5 567.7 L733.5 567.7 L734.5 566.9 L735.5 567.5 L736.5 567.3 L737.5 567.3 L738.5 567.1 L739.5 566.8 L740.5 566.5 L741.5 566.6 L742.5 566.3 L743.5 566.7 L744.5 567.4 L745.5 568.5 L746.5 568.5 L747.5 569.7 L748.5 570.4 L749.5 571.0 L750.5 571.2 L751.5 570.9 L752.5 571.0 L753.5 570.8 L754.5 571.3 L755.5 570.1 L756.5 570.4 L757.5 569.8 L758.5 569.6 L759.5 569.0 L760.5 569.2 L761.5 568.9 L762.5 568.5 L763.5 567.8 L764.5 566.7 L765.5 566.1 L766.5 566.0 L767.5 564.9 L768.5 564.2 L769.5 563.3 L770.5 562.7 L771.5 561.5 L772.5 560.7 L773.5 559.8 L774.5 558.4 L775.5 557.7 L776.5 555.6 L777.5 554.6 L778.5 553.1 L779.5 552.5 L780.5 550.4 L781.5 549.6 L782.5 548.9 L783.5 548.8 L784.5 548.9 L785.5 548.7 L786.5 548.5 L787.5 548.4 L788.5 548.4 L789.5 547.9 L790.5 547.7 L791.5 548.1 L792.5 547.4 L793.5 546.2 L794.5 544.5 L795.5 542.3 L796.5 540.3 L797.5 537.7 L798.5 535.5 L799.5 532.1 L800.5 530.1 L801.5 526.4 L802.5 523.7 L803.5 520.6 L804.5 518.8 L805.5 516.7 L806.5 515.2 L807.5 513.9 L808.5 512.6 L809.5 512.1 L810.5 510.7 L811.5 509.2 L812.5 508.2 L813.5 507.4 L814.5 506.3 L815.5 505.0 L816.5 504.0 L817.5 502.9 L818.5 501.8 L819.5 500.9 L820.5 499.0 L821.5 498.4 L822.5 496.8 L823.5 495.9 L824.5 494.2 L825.5 494.1 L826.5 492.9 L827.5 492.0 L828.5 490.8 L829.5 489.6 L830.5 489.2 L831.5 488.7 L832.5 488.3 L833.5 487.3 L834.5 487.4 L835.5 486.8 L836.5 486.1 L837.5 485.7 L838.5 485.4 L839.5 484.9 L840.5 484.6 L841.5 483.9 L842.5 483.6 L843.5 483.1 L844.5 483.0 L845.5 481.2 L846.5 480.9 L847.5 479.8 L848.5 479.5 L849.5 478.4 L850.5 477.8 L851.5 476.7 L852.5 475.7 L853.5 474.9 L854.5 473.3 L855.5 473.0 L856.5 472.2 L857.5 471.5 L858.5 470.2 L859.5 469.7 L860.5 469.0 L861.5 468.4 L862.5 467.8 L863.5 467.0 L864.5 466.4 L865.5 466.7 L866.5 466.1 L867.5 465.9 L868.5 465.4 L869.5 465.6 L870.5 464.5 L871.5 464.5 L872.5 464.2 L873.5 464.2 L874.5 464.3 L875.5 463.5 L876.5 463.0 L877.5 462.4 L878.5 462.6 L879.5 461.3 L880.5 460.8 L881.5 459.7 L882.5 458.7 L883.5 457.4 L884.5 456.0 L885.5 454.4 L886.5 453.1 L887.5 451.7 L888.5 450.1 L889.5 448.6 L890.5 448.5 L891.5 447.2 L892.5 446.6 L893.5 445.6 L894.5 445.5 L895.5 445.2 L896.5 445.2 L897.5 445.1 L898.5 444.5 L899.5 445.2 L900.5 444.4 L901.5 444.6 L902.5 444.4 L903.5 445.3 L904.5 445.3 L905.5 446.0 L906.5 446.4 L907.5 447.1 L908.5 448.0 L909.5 448.3 L910.5 447.9 L911.5 448.1 L912.5 448.2 L913.5 448.2 L914.5 447.7 L915.5 447.9 L916.5 447.2 L917.5 446.8 L918.5 446.2 L919.5 445.5 L920.5 445.6 L921.5 445.3 L922.5 445.3 L923.5 444.2 L924.5 445.0 L925.5 444.5 L926.5 444.8 L927.5 444.4 L928.5 444.4 L929.5 444.4 L930.5 444.7 L931.5 444.7 L932.5 444.5 L933.5 444.8 L934.5 444.7 L935.5 444.1 L936.5 444.1 L937.5 443.9 L938.5 443.8 L939.5 443.0 L940.5 442.1 L941.5 441.0 L942.5 440.1 L943.5 439.7 L944.5 438.0 L945.5 437.7 L946.5 436.6 L947.5 436.1 L948.5 434.4 L949.5 433.8 L950.5 432.3 L951.5 431.2 L952.5 429.9 L953.5 428.3 L954.5 427.3 L955.5 426.5 L956.5 425.4 L957.5 423.7 L958.5 422.5 L959.5 421.5 L960.5 420.3 L961.5 419.6 L962.5 418.7 L963.5 417.8 L964.5 417.2 L965.5 415.9 L966.5 415.1 L967.5 414.1 L968.5 414.1 L969.5 412.4 L970.5 412.1 L971.5 411.1 L972.5 410.9 L973.5 410.2 L974.5 409.5 L975.5 408.5 L976.5 407.9 L977.5 407.9 L978.5 407.0 L979.5 406.9 L980.5 406.7 L981.5 406.3 L982.5 405.5 L983.5 405.0 L984.5 404.7 L985.5 404.6 L986.5 404.5 L987.5 403.9 L988.5 403.0 L989.5 403.4 L990.5 402.5 L991.5 402.3 L992.5 401.3 L993.5 401.4 L994.5 400.5 L995.5 400.5 L996.5 399.8 L997.5 399.2 L998.5 399.0 L999.5 397.9 L1000.5 396.8 L1001.5 395.6 L1002.5 395.2 L1003.5 393.6 L1004.5 392.3 L1005.5 390.6 L1006.5 389.0 L1007.5 387.7 L1008.5 386.4 L1009.5 384.9 L1010.5 384.1 L1011.5 383.3 L1012.5 382.9 L1013.5 381.6 L1014.5 381.9 L1015.5 380.8 L1016.5 380.7 L1017.5 379.7 L1018.5 379.4 L1019.5 379.1 L1020.5 379.2 L1021.5 378.9 L1022.5 377.7 L1023.5 377.9 L1024.5 377.2 L1025.5 377.1 L1026.5 376.6 L1027.5 376.7 L1028.5 376.3 L1029.5 376.1 L1030.5 375.5 L1031.5 374.9 L1032.5 374.9 L1033.5 374.8 L1034.5 373.8 L1035.5 373.7 L1036.5 373.3 L1037.5 373.4 L1038.5 372.6 L1039.5 372.5 L1040.5 371.5 L1041.5 371.3 L1042.5 371.1 L1043.5 370.4 L1044.5 370.5 L1045.5 370.1 L1046.5 370.0 L1047.5 368.6 L1048.5 368.7 L1049.5 368.1 L1050.5 368.2 L1051.5 367.8 L1052.5 367.2 L1053.5 366.8 L1054.5 366.8 L1055.5 366.3 L1056.5 365.7 L1057.5 365.3 L1058.5 365.4 L1059.5 364.6 L1060.5 364.7 L1061.5 364.2 L1062.5 364.3 L1063.5 363.9 L1064.5 363.4 L1065.5 362.7 L1066.5 362.5 L1067.5 363.1 L1068.5 362.2 L1069.5 362.4 L1070.5 361.6 L1071.5 361.7 L1072.5 361.0 L1073.5 361.1 L1074.5 360.6 L1075.5 360.6 L1076.5 360.6 L1077.5 360.0 L1078.5 359.6 L1079.5 359.8 L1080.5 359.5 L1081.5 359.1 L1082.5 358.5 L1083.5 358.7 L1084.5 358.4 L1085.5 358.7 L1086.5 358.2 L1087.5 357.6 L1088.5 357.8 L1089.5 357.2 L1090.5 357.2 L1091.5 356.7 L1092.5 357.5 L1093.5 356.6 L1094.5 356.8 L1095.5 356.1 L1096.5 356.1 L1097.5 356.0 L1098.5 356.0 L1099.5 355.4 L1100.5 355.3 L1101.5 355.6 L1102.5 355.4 L1103.5 355.0 L1104.5 355.0 L1105.5 354.5 L1106.5 354.5 L1107.5 354.3 L1108.5 354.2 L1109.5 354.2 L1110.5 354.4 L1111.5 354.1 L1112.5 353.1 L1113.5 353.6 L1114.5 353.1 L1115.5 353.6 L1116.5 353.0 L1117.5 353.3 L1118.5 352.7 L1119.5 353.1 L1120.5 352.7 L1121.5 352.3 L1122.5 352.5 L1123.5 352.4 L1124.5 352.2 L1125.5 352.0 L1126.5 352.3 L1127.5 352.2 L1128.5 352.0 L1129.5 351.7 L1130.5 351.2 L1131.5 351.5 L1132.5 351.9 L1133.5 351.4 L1134.5 351.5 L1135.5 351.2 L1136.5 351.5 L1137.5 350.6 L1138.5 351.3 L1139.5 350.7 L1140.5 351.3 L1141.5 351.0 L1142.5 350.9 L1143.5 350.8 L1144.5 351.2 L1145.5 351.3 L1146.5 350.7 L1147.5 351.1 L1148.5 351.2 L1149.5 351.7 L1150.5 351.9 L1151.5 352.0 L1152.5 352.0 L1153.5 352.2 L1154.5 352.3 L1155.5 352.4 L1156.5 352.8 L1157.5 353.8 L1158.5 353.3 L1159.5 353.9 L1160.5 353.6 L1161.5 354.4 L1162.5 354.3 L1163.5 355.0 L1164.5 354.6 L1165.5 355.1 L1166.5 355.9 L1167.5 355.8 L1168.5 356.2 L1169.5 356.4 L1170.5 357.0 L1171.5 356.8 L1172.5 357.6 L1173.5 357.9 L1174.5 358.7 L1175.5 359.3 L1176.5 359.2 L1177.5 359.2 L1178.5 360.0 L1179.5 360.4 L1180.5 360.9 L1181.5 360.9 L1182.5 361.7 L1183.5 361.4 L1184.5 362.2 L1185.5 362.0 L1186.5 362.4 L1187.5 362.8 L1188.5 363.1 L1189.5 363.2 L1190.5 363.3 L1191.5 364.5 L1192.5 364.1 L1193.5 364.5 L1194.5 364.1 L1195.5 364.4 L1196.5 364.6 L1197.5 365.1 L1198.5 364.8 L1199.5 364.8 L1200.5 364.9 L1201.5 364.5 L1202.5 363.9 L1203.5 364.2 L1204.5 363.8 L1205.5 363.9 L1206.5 363.1 L1207.5 363.0 L1208.5 362.4 L1209.5 362.6 L1210.5 361.9 L1211.5 361.0 L1212.5 361.1 L1213.5 360.6 L1214.5 360.6 L1215.5 359.8 L1216.5 360.0 L1217.5 359.0 L1218.5 359.0 L1219.5 358.3 L1220.5 358.0 L1221.5 358.0 L1222.5 358.0 L1223.5 357.2 L1224.5 356.6 L1225.5 356.3 L1226.5 356.2 L1227.5 355.6 L1228.5 355.7 L1229.5 355.0 L1230.5 355.3 L1231.5 355.2 L1232.5 354.9 L1233.5 354.6 L1234.5 354.6 L1235.5 354.7 L1236.5 353.7 L1237.5 354.4 L1238.5 354.0 L1239.5 354.6 L1240.5 354.0 L1241.5 353.9 L1242.5 353.3 L1243.5 353.7 L1244.5 353.7 L1245.5 353.4 L1246.5 353.5 L1247.5 353.6 L1248.5 353.3 L1249.5 353.3 L1250.5 353.0 L1251.5 353.1 L1252.5 352.9 L1253.5 353.1 L1254.5 352.5 L1255.5 352.7 L1256.5 353.2 L1257.5 352.6 L1258.5 352.5 L1259.5 351.8 L1260.5 352.3 L1261.5 351.7 L1262.5 352.3 L1263.5 351.6 L1264.5 351.8 L1265.5 351.5 L1266.5 351.1 L1267.5 350.6 L1268.5 350.7 L1269.5 350.9 L1270.5 350.4 L1271.5 350.2 L1272.5 350.0 L1273.5 349.7 L1274.5 349.8 L1275.5 349.2 L1276.5 348.8 L1277.5 348.7 L1278.5 348.8 L1279.5 348.5 L1280.5 348.1 L1281.5 348.5 L1282.5 347.5 L1283.5 347.7 L1284.5 346.8 L1285.5 347.2 L1286.5 347.0 L1287.5 347.3 L1288.5 346.5 L1289.5 346.2 L1290.5 346.4 L1291.5 346.0 L1292.5 345.9 L1293.5 345.7 L1294.5 345.7 L1295.5 345.6 L1296.5 345.6 L1297.5 345.4 L1298.5 345.1 L1299.5 345.3 L1300.5 344.9 L1301.5 344.3 L1302.5 344.8 L1303.5 344.7 L1304.5 345.0 L1305.5 344.3 L1306.5 344.5 L1307.5 343.6 L1308.5 344.3 L1309.5 343.9 L1310.5 343.8 L1311.5 343.9 L1312.5 343.9 L1313.5 343.7 L1314.5 343.2 L1315.5 343.6 L1316.5 343.2 L1317.5 343.3 L1318.5 343.0 L1319.5 342.8 L1320.5 343.0 L1321.5 343.3 L1322.5 342.9 L1323.5 342.4 L1324.5 342.4 L1325.5 342.6 L1326.5 342.1 L1327.5 342.8 L1328.5 342.2 L1329.5 342.7 L1330.5 342.0 L1331.5 342.0 L1332.5 341.5 L1333.5 342.1 L1334.5 342.1 L1335.5 341.6 L1336.5 341.8 L1337.5 341.5 L1338.5 341.8 L1339.5 341.4 L1340.5 341.4 L1341.5 340.9 L1342.5 341.2 L1343.5 341.3 L1344.5 341.0 L1345.5 341.1 L1346.5 341.3 L1347.5 340.8 L1348.5 340.6 L1349.5 340.3 L1350.5 340.9 L1351.5 340.7 L1352.5 341.3 L1353.5 340.4 L1354.5 340.6 L1355.5 340.7 L1356.5 340.6 L1357.5 340.5 L1358.5 340.5 L1359.5 341.0 L1360.5 340.5 L1361.5 341.0 L1362.5 340.5 L1363.5 341.0 L1364.5 340.9 L1365.5 340.8 L1366.5 340.4 L1367.5 340.9 L1368.5 341.4 L1369.5 341.3 L1370.5 341.1 L1371.5 341.2 L1372.5 340.9 L1373.5 341.4 L1374.5 341.2 L1375.5 341.6 L1376.5 341.6 L1377.5 342.1 L1378.5 341.6 L1379.5 341.6 L1380.5 342.2 L1381.5 341.9 L1382.5 342.3 L1383.5 341.9 L1384.5 342.5 L1385.5 342.4 L1386.5 343.2 L1387.5 342.6 L1388.5 342.6 L1389.5 342.9 L1390.5 343.0 L1391.5 343.0 L1392.5 343.5 L1393.5 343.8 L1394.5 344.0 L1395.5 343.9 L1396.5 344.2 L1397.5 344.2 L1398.5 345.3 L1399.5 345.5 L1400.5 345.6 L1401.5 346.1 L1402.5 346.7 L1403.5 347.2 L1404.5 347.2 L1405.5 348.1 L1406.5 347.9 L1407.5 349.1 L1408.5 349.2 L1409.5 350.1 L1410.5 350.6 L1411.5 351.7 L1412.5 351.9 L1413.5 352.3 L1414.5 353.5 L1415.5 354.6 L1416.5 355.7 L1417.5 356.8 L1418.5 357.7 L1419.5 359.3 L1420.5 360.9 L1421.5 362.8 L1422.5 364.4 L1423.5 367.1 L1424.5 369.4 L1425.5 371.4 L1426.5 374.4 L1427.5 377.0 L1428.5 380.8 L1429.5 383.6 L1430.5 387.6 L1431.5 390.7 L1432.5 395.8 L1433.5 400.4 L1434.5 405.3 L1435.5 410.7 L1436.5 416.9 L1437.5 424.5 L1438.5 433.2 L1439.5 442.4 L1440.5 451.3 L1441.5 460.8 L1442.5 470.4 L1443.5 480.0 L1444.5 490.5 L1445.5 499.4 L1446.5 506.4 L1447.5 512.6 L1448.5 518.7 L1449.5 525.9 L1450.5 533.4 L1451.5 541.0 L1452.5 543.5 L1453.5 544.0 L1454.5 543.7 L1455.5 544.0 L1456.5 543.6 L1457.5 541.9 L1458.5 537.8 L1459.5 533.0 L1460.5 531.0 L1461.5 529.7 L1462.5 529.2 L1463.5 529.0 L1464.5 529.3 L1465.5 530.5 L1466.5 533.4 L1467.5 536.9 L1468.5 539.9 L1469.5 542.8 L1470.5 547.1 L1471.5 551.0 L1472.5 555.2 L1473.5 557.1 L1474.5 558.0 L1475.5 557.1 L1476.5 556.7 L1477.5 554.1 L1478.5 550.4 L1479.5 541.0 L1480.5 529.9 L1481.5 521.9 L1482.5 518.3 L1483.5 516.2 L1484.5 514.0 L1485.5 512.7 L1486.5 510.3 L1487.5 507.5 L1488.5 502.5 L1489.5 492.1 L1490.5 480.1 L1491.5 471.7 L1492.5 468.1 L1493.5 465.3 L1494.5 462.6 L1495.5 460.7 L1496.5 458.0 L1497.5 456.9 L1498.5 455.1 L1499.5 454.9 L1500.5 455.6 L1501.5 458.4 L1502.5 461.3 L1503.5 466.9 L1504.5 480.6 L1505.5 491.1 L1506.5 496.2 L1507.5 498.8 L1508.5 501.4 L1509.5 504.1 L1510.5 508.9 L1511.5 515.5 L1512.5 525.1 L1513.5 536.8 L1514.5 548.5 L1515.5 558.5 L1516.5 568.8 L1517.5 578.5 L1518.5 585.0 L1519.5 584.2 L1520.5 580.1 L1521.5 573.4 L1522.5 567.7 L1523.5 558.9 L1524.5 548.3 L1525.5 537.0 L1526.5 525.4 L1527.5 513.4 L1528.5 497.1 L1529.5 482.7 L1530.5 473.5 L1531.5 472.7 L1532.5 471.5 L1533.5 470.7 L1534.5 470.0 L1535.5 469.9 L1536.5 469.4 L1537.5 469.1 L1538.5 469.1 L1539.5 469.1 L1540.5 468.7 L1541.5 464.5 L1542.5 450.6 L1543.5 437.0 L1544.5 430.6 L1545.5 431.0 L1546.5 430.6 L1547.5 430.9 L1548.5 430.5 L1549.5 420.3 L1550.5 409.6 L1551.5 406.0 L1552.5 404.8 L1553.5 403.1 L1554.5 402.6 L1555.5 401.4 L1556.5 404.5 L1557.5 415.1 L1558.5 427.9 L1559.5 448.9 L1560.5 468.1 L1561.5 472.4 L1562.5 474.6 L1563.5 475.8 L1564.5 476.1 L1565.5 475.8 L1566.5 475.8 L1567.5 474.5 L1568.5 473.8 L1569.5 473.0 L1570.5 471.7 L1571.5 470.0 L1572.5 467.2 L1573.5 460.2 L1574.5 448.8 L1575.5 438.2 L1576.5 427.6 L1577.5 417.2 L1578.5 407.4 L1579.5 401.5 L1580.5 398.8 L1581.5 397.1 L1582.5 395.8 L1583.5 394.5 L1584.5 394.2 L1585.5 394.0 L1586.5 394.1 L1587.5 394.7 L1588.5 394.6 L1589.5 394.2 L1590.5 393.9 L1591.5 395.5 L1592.5 404.7 L1593.5 417.4 L1594.5 427.2 L1595.5 429.2 L1596.5 431.4 L1597.5 432.2 L1598.5 433.5 L1599.5 433.6 L1600.5 434.8 L1601.5 434.2 L1602.5 433.3 L1603.5 431.9 L1604.5 429.9 L1605.5 427.8 L1606.5 425.4 L1607.5 423.7 L1608.5 422.8 L1609.5 423.8 L1610.5 425.7 L1611.5 428.3 L1612.5 431.8 L1613.5 434.9 L1614.5 437.2 L1615.5 438.9 L1616.5 439.1 L1617.5 434.8 L1618.5 425.8 L1619.5 415.8 L1620.5 405.3 L1621.5 399.5 L1622.5 393.5 L1623.5 387.8 L1624.5 381.8 L1625.5 377.3 L1626.5 373.3 L1627.5 370.5 L1628.5 369.5 L1629.5 369.6 L1630.5 372.2 L1631.5 375.6 L1632.5 379.5 L1633.5 383.3 L1634.5 386.9 L1635.5 388.3 L1636.5 386.5 L1637.5 382.2 L1638.5 376.3 L1639.5 369.5 L1640.5 363.7 L1641.5 358.3 L1642.5 356.6 L1643.5 356.7 L1644.5 358.3 L1645.5 358.9 L1646.5 360.9 L1647.5 362.0 L1648.5 362.5 L1649.5 362.4 L1650.5 360.9 L1651.5 359.3 L1652.5 356.9 L1653.5 355.0 L1654.5 352.7 L1655.5 352.6 L1656.5 353.1 L1657.5 353.7 L1658.5 354.4 L1659.5 355.2 L1660.5 355.3 L1661.5 354.1 L1662.5 351.9 L1663.5 350.5 L1664.5 350.0 L1665.5 351.2 L1666.5 351.0 L1667.5 352.1 L1668.5 352.6 L1669.5 353.1 L1670.5 352.2 L1671.5 351.1 L1672.5 349.9 L1673.5 348.3 L1674.5 347.9 L1675.5 346.6 L1676.5 346.6 L1677.5 347.1 L1678.5 349.0 L1679.5 350.8 L1680.5 354.0 L1681.5 357.4 L1682.5 361.4 L1683.5 367.0 L1684.5 373.0 L1685.5 377.7 L1686.5 380.7 L1687.5 380.0 L1688.5 378.3 L1689.5 375.2 L1690.5 372.9 L1691.5 369.3 L1692.5 366.6 L1693.5 364.1 L1694.5 360.7 L1695.5 357.6 L1696.5 354.6 L1697.5 353.8 L1698.5 355.0 L1699.5 359.9 L1700.5 364.2 L1701.5 369.1 L1702.5 372.8 L1703.5 374.8 L1704.5 375.7 L1705.5 376.4 L1706.5 377.1 L1707.5 378.2 L1708.5 380.7 L1709.5 387.1 L1710.5 392.6 L1711.5 394.5 L1712.5 393.5 L1713.5 391.9 L1714.5 389.5 L1715.5 387.6 L1716.5 385.1 L1717.5 382.4 L1718.5 379.6 L1719.5 374.3 L1720.5 369.4 L1721.5 363.2 L1722.5 358.0 L1723.5 353.3 L1724.5 351.8 L1725.5 350.3 L1726.5 349.1 L1727.5 348.3 L1728.5 347.7 L1729.5 347.7 L1730.5 348.9 L1731.5 351.1 L1732.5 354.1 L1733.5 356.9 L1734.5 358.2 L1735.5 356.9 L1736.5 355.4 L1737.5 353.0 L1738.5 350.5 L1739.5 348.5 L1740.5 346.6 L1741.5 346.0 L1742.5 344.8 L1743.5 344.3 L1744.5 342.3 L1745.5 342.3 L1746.5 341.6 L1747.5 341.4 L1748.5 340.7 L1749.5 340.6 L1750.5 340.6 L1751.5 340.8 L1752.5 341.0 L1753.5 340.7 L1754.5 341.0 L1755.5 341.6 L1756.5 342.1 L1757.5 343.6 L1758.5 345.1 L1759.5 346.3 L1760.5 346.0 L1761.5 345.3 L1762.5 344.3 L1763.5 343.0 L1764.5 342.6 L1765.5 340.7 L1766.5 340.1 L1767.5 339.4 L1768.5 342.7 L1769.5 347.6 L1770.5 353.1 L1771.5 354.4 L1772.5 353.7 L1773.5 352.7 L1774.5 351.0 L1775.5 349.7 L1776.5 348.6 L1777.5 348.2 L1778.5 353.5 L1779.5 366.9 L1780.5 373.9 L1781.5 374.0 L1782.5 374.1 L1783.5 373.9 L1784.5 373.6 L1785.5 374.3 L1786.5 377.2 L1787.5 381.5 L1788.5 383.5 L1789.5 384.4 L1790.5 382.8 L1791.5 381.4 L1792.5 378.7 L1793.5 365.1 L1794.5 357.1 L1795.5 356.6 L1796.5 356.3 L1797.5 356.0 L1798.5 356.7 L1799.5 356.3 L1800.5 355.9 L1801.5 355.6 L1802.5 355.4 L1803.5 353.2 L1804.5 349.6 L1805.5 346.4 L1806.5 345.5 L1807.5 346.0 L1808.5 347.0 L1809.5 347.5 L1810.5 349.3 L1811.5 349.8 L1812.5 349.8 L1813.5 348.0 L1814.5 347.0 L1815.5 345.0 L1816.5 343.9 L1817.5 343.5 L1818.5 345.1 L1819.5 349.4 L1820.5 354.0 L1821.5 358.4 L1822.5 360.4 L1823.5 360.4 L1824.5 356.0 L1825.5 350.8 L1826.5 347.7 L1827.5 347.1 L1828.5 346.8 L1829.5 346.7 L1830.5 346.2 L1831.5 346.4 L1832.5 350.1 L1833.5 356.8 L1834.5 362.6 L1835.5 367.8 L1836.5 369.3 L1837.5 370.9 L1838.5 371.6 L1839.5 372.0 L1840.5 369.8 L1841.5 364.6 L1842.5 358.7 L1843.5 352.7 L1844.5 350.8 L1845.5 349.1 L1846.5 347.9 L1847.5 346.1 L1848.5 345.1 L1849.5 344.0 L1850.5 343.4 L1851.5 343.3 L1852.5 343.4 L1853.5 344.0 L1854.5 345.3 L1855.5 345.8 L1856.5 347.1 L1857.5 350.6 L1858.5 364.7 L1859.5 380.2 L1860.5 389.5 L1861.5 393.8 L1862.5 396.5 L1863.5 396.9 L1864.5 394.0 L1865.5 390.2 L1866.5 382.8 L1867.5 369.5 L1868.5 355.9 L1869.5 352.1 L1870.5 349.7 L1871.5 347.8 L1872.5 345.8 L1873.5 344.1 L1874.5 342.7 L1875.5 342.2 L1876.5 341.9 L1877.5 341.5 L1878.5 341.1 L1879.5 341.5 L1880.5 341.0 L1881.5 341.1 L1882.5 340.7 L1883.5 340.8 L1884.5 340.6 L1885.5 340.6 L1886.5 340.7 L1887.5 340.3 L1888.5 341.3 L1889.5 341.7 L1890.5 343.8 L1891.5 345.6 L1892.5 347.9 L1893.5 347.7 L1894.5 346.6 L1895.5 344.4 L1896.5 342.4 L1897.5 341.7 L1898.5 341.9 L1899.5 342.6 L1900.5 344.0 L1901.5 345.2 L1902.5 345.3 L1903.5 344.3 L1904.5 343.7 L1905.5 342.3 L1906.5 341.4 L1907.5 340.6 L1908.5 340.3 L1909.5 341.9 L1910.5 343.4 L1911.5 345.3 L1912.5 345.5 L1913.5 346.6 L1914.5 345.0 L1915.5 343.4 L1916.5 341.2 L1917.5 339.8 L1918.5 339.0 L1919.5 339.3 L1920.5 340.1 L1921.5 341.4 L1922.5 344.4 L1923.5 353.8 L1924.5 361.1 L1925.5 363.2 L1926.5 364.9 L1927.5 366.3 L1928.5 367.1 L1929.5 367.4 L1930.5 365.9 L1931.5 359.3 L1932.5 352.1 L1933.5 347.4 L1934.5 348.2 L1935.5 348.1 L1936.5 348.6 L1937.5 347.7 L1938.5 348.0 L1939.5 348.2 L1940.5 354.1 L1941.5 362.5 L1942.5 368.8 L1943.5 372.2 L1944.5 374.7 L1945.5 375.8 L1946.5 374.1 L1947.5 371.1 L1948.5 367.1 L1949.5 363.7 L1950.5 360.6 L1951.5 357.5 L1952.5 355.7 L1953.5 355.9 L1954.5 355.6 L1955.5 356.0 L1956.5 356.4 L1957.5 358.1 L1958.5 358.5 L1959.5 360.3 L1960.5 361.1 L1961.5 363.7 L1962.5 367.1 L1963.5 371.3 L1964.5 375.4 L1965.5 379.2 L1966.5 382.2 L1967.5 382.5 L1968.5 383.5 L1969.5 384.1 L1970.5 384.8 L1971.5 384.9 L1972.5 385.3 L1973.5 385.8 L1974.5 387.0 L1975.5 388.9 L1976.5 391.0 L1977.5 393.2 L1978.5 396.6 L1979.5 398.8 L1980.5 401.8 L1981.5 404.2 L1982.5 407.4 L1983.5 409.4 L1984.5 412.0 L1985.5 413.9 L1986.5 415.9 L1987.5 418.6 L1988.5 420.3 L1989.5 422.2 L1990.5 423.5 L1991.5 425.6 L1992.5 426.3 L1993.5 427.8 L1994.5 428.8 L1995.5 429.8 L1996.5 430.8 L1997.5 431.7 L1998.5 432.1 L1999.5 433.2 L2000.5 433.9 L2001.5 434.2 L2002.5 433.3 L2003.5 433.5 L2004.5 432.5 L2005.5 432.2 L2006.5 431.2 L2007.5 430.2 L2008.5 429.2 L2009.5 428.2 L2010.5 427.1 L2011.5 424.7 L2012.5 423.4 L2013.5 420.5 L2014.5 418.4 L2015.5 416.0 L2016.5 415.1 L2017.5 414.5 L2018.5 415.3 L2019.5 416.3 L2020.5 417.8 L2021.5 420.7 L2022.5 426.6 L2023.5 430.5 L2024.5 434.3 L2025.5 437.1 L2026.5 439.5 L2027.5 439.9 L2028.5 438.9 L2029.5 434.4 L2030.5 428.9 L2031.5 417.2 L2032.5 400.5 L2033.5 390.0 L2034.5 382.5 L2035.5 376.9 L2036.5 371.2 L2037.5 368.2 L2038.5 364.8 L2039.5 362.6 L2040.5 360.4 L2041.5 358.5 L2042.5 356.7 L2043.5 355.4 L2044.5 353.8 L2045.5 352.2 L2046.5 351.3 L2047.5 350.9 L2048.5 349.7 L2049.5 349.0 L2050.5 347.7 L2051.5 347.0 L2052.5 346.3 L2053.5 345.3 L2054.5 344.1 L2055.5 342.9 L2056.5 342.6 L2057.5 340.8 L2058.5 340.5 L2059.5 339.4 L2060.5 339.3 L2061.5 338.5 L2062.5 339.0 L2063.5 340.4 L2064.5 343.3 L2065.5 346.4 L2066.5 348.2 L2067.5 350.4 L2068.5 353.1 L2069.5 354.9 L2070.5 355.0 L2071.5 352.3 L2072.5 348.3 L2073.5 344.0 L2074.5 341.9 L2075.5 341.4 L2076.5 341.2 L2077.5 341.8 L2078.5 341.4 L2079.5 341.5 L2080.5 341.1 L2081.5 343.1 L2082.5 344.9 L2083.5 348.7 L2084.5 351.8 L2085.5 356.8 L2086.5 365.6 L2087.5 375.4 L2088.5 382.6 L2089.5 387.3 L2090.5 391.9 L2091.5 394.3 L2092.5 394.7 L2093.5 391.8 L2094.5 386.6 L2095.5 381.4 L2096.5 377.9 L2097.5 377.7 L2098.5 379.6 L2099.5 382.2 L2100.5 384.3 L2101.5 384.4 L2102.5 381.7 L2103.5 373.2 L2104.5 364.6 L2105.5 356.8 L2106.5 350.9 L2107.5 344.3 L2108.5 338.4 L2108.9 336.4 L2112.0 336.4" stroke="#ff00ff"/>
<path d="M182.5 60.7 L185.5 60.7 L186.5 59.6 L187.5 60.6 L188.5 59.6 L189.5 62.3 L190.5 62.2 L191.5 61.3 L192.5 61.7 L193.5 60.0 L194.5 62.3 L195.5 62.4 L196.5 62.6 L197.5 61.1 L198.5 63.1 L199.5 63.5 L200.5 62.6 L201.5 63.1 L202.5 62.7 L203.5 62.6 L204.5 63.5 L205.5 62.8 L206.5 64.2 L207.5 64.4 L208.5 65.8 L209.5 61.9 L210.5 63.4 L211.5 63.7 L212.5 64.8 L213.5 65.1 L214.5 64.5 L215.5 64.9 L216.5 64.2 L217.5 66.1 L218.5 63.4 L219.5 65.2 L220.5 65.6 L221.5 65.5 L222.5 64.8 L223.5 65.7 L224.5 66.5 L225.5 66.0 L226.5 65.6 L227.5 64.0 L228.5 63.6 L229.5 68.5 L230.5 66.3 L231.5 66.6 L232.5 63.8 L233.5 65.1 L234.5 59.7 L235.5 60.3 L236.5 61.3 L237.5 59.7 L238.5 65.2 L239.5 58.5 L240.5 60.8 L241.5 60.3 L242.5 67.8 L243.5 60.7 L244.5 61.5 L245.5 63.6 L246.5 64.2 L247.5 66.6 L248.5 65.2 L249.5 62.1 L250.5 61.9 L251.5 61.1 L252.5 59.6 L253.5 57.4 L254.5 66.6 L255.5 61.5 L256.5 59.7 L257.5 56.3 L258.5 56.2 L259.5 59.0 L260.5 58.1 L261.5 59.5 L262.5 53.2 L263.5 64.5 L264.5 60.9 L265.5 64.0 L266.5 63.8 L267.5 67.6 L268.5 64.8 L269.5 64.5 L270.5 66.8 L271.5 66.6 L272.5 71.0 L273.5 68.1 L274.5 60.7 L275.5 63.4 L276.5 65.5 L277.5 67.8 L278.5 64.5 L279.5 67.9 L280.5 65.2 L281.5 64.8 L282.5 67.0 L283.5 61.7 L284.5 69.2 L285.5 67.5 L286.5 70.8 L287.5 64.5 L288.5 74.7 L289.5 73.6 L290.5 73.2 L291.5 72.0 L292.5 70.0 L293.5 74.0 L294.5 77.2 L295.5 78.4 L296.5 74.5 L297.5 76.8 L298.5 76.6 L299.5 70.0 L300.5 74.2 L301.5 75.7 L302.5 77.8 L303.5 76.9 L304.5 73.6 L305.5 73.9 L306.5 73.7 L307.5 80.9 L308.5 68.0 L309.5 74.3 L310.5 72.5 L311.5 77.2 L312.5 72.5 L313.5 73.4 L314.5 69.7 L315.5 65.4 L316.5 67.1 L317.5 60.9 L318.5 67.1 L319.5 72.0 L320.5 70.3 L321.5 64.5 L322.5 64.2 L323.5 67.7 L324.5 66.2 L325.5 69.2 L326.5 67.7 L327.5 66.8 L328.5 75.0 L329.5 70.6 L330.5 74.1 L331.5 71.9 L332.5 80.9 L333.5 71.0 L334.5 76.0 L335.5 77.3 L336.5 80.5 L337.5 83.3 L338.5 77.5 L339.5 75.3 L340.5 74.0 L341.5 83.1 L342.5 78.3 L343.5 80.1 L344.5 82.9 L345.5 80.5 L346.5 79.3 L347.5 78.3 L348.5 79.0 L349.5 81.1 L350.5 81.9 L351.5 80.3 L352.5 74.4 L353.5 85.6 L354.5 78.3 L355.5 77.8 L356.5 70.2 L357.5 73.7 L358.5 72.4 L359.5 76.6 L360.5 79.8 L361.5 76.6 L362.5 85.6 L363.5 80.2 L364.5 80.5 L365.5 80.3 L366.5 87.3 L367.5 82.6 L368.5 78.2 L369.5 75.8 L370.5 71.8 L371.5 74.0 L372.5 73.7 L373.5 67.8 L374.5 73.3 L375.5 76.4 L376.5 82.4 L377.5 77.5 L378.5 86.8 L379.5 80.6 L380.5 80.4 L381.5 77.9 L382.5 75.9 L383.5 81.9 L384.5 82.4 L385.5 82.9 L386.5 70.6 L387.5 78.1 L388.5 75.3 L389.5 76.4 L390.5 76.2 L391.5 77.2 L392.5 77.7 L393.5 78.5 L394.5 78.1 L395.5 75.5 L396.5 78.4 L397.5 81.4 L398.5 72.2 L399.5 77.9 L400.5 79.1 L401.5 85.1 L402.5 80.3 L403.5 80.0 L404.5 75.9 L405.5 77.0 L406.5 84.7 L407.5 77.6 L408.5 84.6 L409.5 82.6 L410.5 85.2 L411.5 76.2 L412.5 81.1 L413.5 80.0 L414.5 79.7 L415.5 79.9 L416.5 75.4 L417.5 77.0 L418.5 81.4 L419.5 80.2 L420.5 77.1 L421.5 76.2 L422.5 80.2 L423.5 77.8 L424.5 81.7 L425.5 81.3 L426.5 81.8 L427.5 82.5 L428.5 80.5 L429.5 80.8 L430.5 80.9 L431.5 86.4 L432.5 82.3 L433.5 84.0 L434.5 82.7 L435.5 84.3 L436.5 84.1 L437.5 84.2 L438.5 83.4 L439.5 83.5 L440.5 86.2 L441.5 84.6 L442.5 84.6 L443.5 87.0 L444.5 85.5 L445.5 84.6 L446.5 83.4 L447.5 85.8 L448.5 86.6 L449.5 88.5 L450.5 87.3 L451.5 84.2 L452.5 87.9 L453.5 85.9 L454.5 87.7 L455.5 85.9 L456.5 89.9 L457.5 87.3 L458.5 88.8 L459.5 88.2 L460.5 87.9 L461.5 90.1 L462.5 88.9 L463.5 87.7 L464.5 88.1 L465.5 91.8 L466.5 91.7 L467.5 90.2 L468.5 90.8 L469.5 89.0 L470.5 90.7 L471.5 91.5 L472.5 91.3 L473.5 93.0 L474.5 93.2 L475.5 93.5 L476.5 90.0 L477.5 94.1 L478.5 93.0 L479.5 94.6 L480.5 93.6 L481.5 94.4 L482.5 94.8 L483.5 95.9 L484.5 96.2 L485.5 95.1 L486.5 96.4 L487.5 96.7 L488.5 97.0 L489.5 97.6 L490.5 98.4 L491.5 98.8 L492.5 98.8 L493.5 99.0 L494.5 99.1 L495.5 100.2 L496.5 101.4 L497.5 100.8 L498.5 101.6 L499.5 101.8 L500.5 102.9 L501.5 102.4 L502.5 103.6 L503.5 103.5 L504.5 104.3 L505.5 105.1 L506.5 105.0 L507.5 105.9 L508.5 106.5 L509.5 107.1 L510.5 106.4 L511.5 107.4 L512.5 108.2 L513.5 109.0 L514.5 109.7 L515.5 109.7 L516.5 110.0 L517.5 110.8 L518.5 111.3 L519.5 111.7 L520.5 112.2 L521.5 113.8 L522.5 113.2 L523.5 114.3 L524.5 114.4 L525.5 115.6 L526.5 115.9 L527.5 116.4 L528.5 116.6 L529.5 117.3 L530.5 119.2 L531.5 118.9 L532.5 119.7 L533.5 119.9 L534.5 120.8 L535.5 121.1 L536.5 122.2 L537.5 123.0 L538.5 123.8 L539.5 124.8 L540.5 124.8 L541.5 125.0 L542.5 126.6 L543.5 127.2 L544.5 128.0 L545.5 128.2 L546.5 129.7 L547.5 130.0 L548.5 131.5 L549.5 131.7 L550.5 132.1 L551.5 133.4 L552.5 133.9 L553.5 135.0 L554.5 135.5 L555.5 137.6 L556.5 137.5 L557.5 138.3 L558.5 138.7 L559.5 139.7 L560.5 141.2 L561.5 142.3 L562.5 142.8 L563.5 143.5 L564.5 144.9 L565.5 145.7 L566.5 146.0 L567.5 147.7 L568.5 148.2 L569.5 149.7 L570.5 150.3 L571.5 151.6 L572.5 152.7 L573.5 154.2 L574.5 155.0 L575.5 154.9 L576.5 157.2 L577.5 158.2 L578.5 160.2 L579.5 160.9 L580.5 162.6 L581.5 163.4 L582.5 165.1 L583.5 166.6 L584.5 167.7 L585.5 170.0 L586.5 171.8 L587.5 172.8 L588.5 174.3 L589.5 176.1 L590.5 178.1 L591.5 179.0 L592.5 180.9 L593.5 181.8 L594.5 184.1 L595.5 186.2 L596.5 187.3 L597.5 189.0 L598.5 190.4 L599.5 192.6 L600.5 193.1 L601.5 196.0 L602.5 197.3 L603.5 199.4 L604.5 200.6 L605.5 201.6 L606.5 202.8 L607.5 204.7 L608.5 206.3 L609.5 206.8 L610.5 208.3 L611.5 209.7 L612.5 210.6 L613.5 212.0 L614.5 212.6 L615.5 213.7 L616.5 214.7 L617.5 215.9 L618.5 216.6 L619.5 217.9 L620.5 220.0 L621.5 219.7 L622.5 220.9 L623.5 221.3 L624.5 223.4 L625.5 224.4 L626.5 226.4 L627.5 227.0 L628.5 228.4 L629.5 230.1 L630.5 230.4 L631.5 231.3 L632.5 232.1 L633.5 232.8 L634.5 232.4 L635.5 232.5 L636.5 232.8 L637.5 232.6 L638.5 233.0 L639.5 232.1 L640.5 231.6 L641.5 232.2 L642.5 232.3 L643.5 232.4 L644.5 231.7 L645.5 232.4 L646.5 231.2 L647.5 231.7 L648.5 231.1 L649.5 231.4 L650.5 231.7 L651.5 231.8 L652.5 231.3 L653.5 230.9 L654.5 232.0 L655.5 231.6 L656.5 231.7 L657.5 231.7 L658.5 232.1 L659.5 232.8 L660.5 233.4 L661.5 233.5 L662.5 233.5 L663.5 234.2 L664.5 234.3 L665.5 234.0 L666.5 235.7 L667.5 236.0 L668.5 237.1 L669.5 236.7 L670.5 237.7 L671.5 237.7 L672.5 239.3 L673.5 239.9 L674.5 239.9 L675.5 241.3 L676.5 241.9 L677.5 242.8 L678.5 242.9 L679.5 244.3 L680.5 244.4 L681.5 245.2 L682.5 245.9 L683.5 246.3 L684.5 247.7 L685.5 248.7 L686.5 248.6 L687.5 248.8 L688.5 249.5 L689.5 250.8 L690.5 251.0 L691.5 252.5 L692.5 252.3 L693.5 253.6 L694.5 253.9 L695.5 254.4 L696.5 254.9 L697.5 255.9 L698.5 256.9 L699.5 256.4 L700.5 257.8 L701.5 258.1 L702.5 259.2 L703.5 259.2 L704.5 259.4 L705.5 259.5 L706.5 260.5 L707.5 261.5 L708.5 261.5 L709.5 262.2 L710.5 262.9 L711.5 262.5 L712.5 263.0 L713.5 263.1 L714.5 264.2 L715.5 264.2 L716.5 265.0 L717.5 264.3 L718.5 264.8 L719.5 265.8 L720.5 265.4 L721.5 265.6 L722.5 265.5 L723.5 266.6 L724.5 266.1 L725.5 267.2 L726.5 266.7 L727.5 267.0 L728.5 267.2 L729.5 266.8 L730.5 266.7 L731.5 267.4 L732.5 268.0 L733.5 267.5 L734.5 267.1 L735.5 267.3 L736.5 266.9 L737.5 267.7 L738.5 267.2 L739.5 267.2 L740.5 267.4 L741.5 267.7 L742.5 267.4 L743.5 266.9 L744.5 267.9 L745.5 266.9 L746.5 267.5 L747.5 267.2 L748.5 268.3 L749.5 268.8 L750.5 269.8 L751.5 269.4 L752.5 269.3 L753.5 270.4 L754.5 270.5 L755.5 270.5 L756.5 270.8 L757.5 270.7 L758.5 270.6 L759.5 270.1 L760.5 270.1 L761.5 269.5 L762.5 270.2 L763.5 269.6 L764.5 268.8 L765.5 269.1 L766.5 268.9 L767.5 269.0 L768.5 267.7 L769.5 267.9 L770.5 266.6 L771.5 267.4 L772.5 266.8 L773.5 266.4 L774.5 266.0 L775.5 265.3 L776.5 263.9 L777.5 262.4 L778.5 262.3 L779.5 261.6 L780.5 260.9 L781.5 260.4 L782.5 259.4 L783.5 259.9 L784.5 260.2 L785.5 260.2 L786.5 259.9 L787.5 260.6 L788.5 261.3 L789.5 260.9 L790.5 262.0 L791.5 261.4 L792.5 261.9 L793.5 260.7 L794.5 260.2 L795.5 258.9 L796.5 259.1 L797.5 258.5 L798.5 256.8 L799.5 255.9 L800.5 254.7 L801.5 253.7 L802.5 252.4 L803.5 251.4 L804.5 250.0 L805.5 249.0 L806.5 248.3 L807.5 246.6 L808.5 246.2 L809.5 245.9 L810.5 244.6 L811.5 243.8 L812.5 242.9 L813.5 243.3 L814.5 242.2 L815.5 242.3 L816.5 240.3 L817.5 240.0 L818.5 239.7 L819.5 239.2 L820.5 238.6 L821.5 238.3 L822.5 238.4 L823.5 236.9 L824.5 236.8 L825.5 236.0 L826.5 236.0 L827.5 236.0 L828.5 235.3 L829.5 234.6 L830.5 234.7 L831.5 235.1 L832.5 234.3 L833.5 233.6 L834.5 233.8 L835.5 233.0 L836.5 233.7 L837.5 233.1 L838.5 233.5 L839.5 233.0 L840.5 233.3 L841.5 232.1 L842.5 231.8 L843.5 232.6 L844.5 232.2 L845.5 232.3 L846.5 231.5 L847.5 231.7 L848.5 231.1 L849.5 231.4 L850.5 230.6 L851.5 229.9 L852.5 230.2 L853.5 229.7 L854.5 229.0 L855.5 228.9 L856.5 228.6 L857.5 228.1 L858.5 226.9 L859.5 226.9 L860.5 225.9 L861.5 227.1 L862.5 226.3 L863.5 225.7 L864.5 225.3 L865.5 225.4 L866.5 225.3 L867.5 224.7 L868.5 225.6 L869.5 224.9 L870.5 225.6 L871.5 225.0 L872.5 224.9 L873.5 225.0 L874.5 225.4 L875.5 224.9 L876.5 224.2 L877.5 224.9 L878.5 225.2 L879.5 224.9 L880.5 224.9 L881.5 223.6 L882.5 223.5 L883.5 222.8 L884.5 222.6 L885.5 221.4 L886.5 221.7 L887.5 221.0 L888.5 219.4 L889.5 219.0 L890.5 218.1 L891.5 218.3 L892.5 217.2 L893.5 217.3 L894.5 216.1 L895.5 216.9 L896.5 217.0 L897.5 216.5 L898.5 216.5 L899.5 216.9 L900.5 217.1 L901.5 217.3 L902.5 218.0 L903.5 218.7 L904.5 218.8 L905.5 219.4 L906.5 218.5 L907.5 219.3 L908.5 220.1 L909.5 220.5 L910.5 220.2 L911.5 220.1 L912.5 220.7 L913.5 219.9 L914.5 220.7 L915.5 219.7 L916.5 220.3 L917.5 220.1 L918.5 220.4 L919.5 219.8 L920.5 220.3 L921.5 220.7 L922.5 219.8 L923.5 219.7 L924.5 219.6 L925.5 219.9 L926.5 220.6 L927.5 220.3 L928.5 220.1 L929.5 219.7 L930.5 220.4 L931.5 219.7 L932.5 219.8 L933.5 220.5 L934.5 220.2 L935.5 220.5 L936.5 219.8 L937.5 220.5 L938.5 220.0 L939.5 220.9 L940.5 219.7 L941.5 219.8 L942.5 220.3 L943.5 220.4 L944.5 220.0 L945.5 219.2 L946.5 218.8 L947.5 217.8 L948.5 217.5 L949.5 216.9 L950.5 216.2 L951.5 216.5 L952.5 215.5 L953.5 214.2 L954.5 213.3 L955.5 213.0 L956.5 212.2 L957.5 210.8 L958.5 210.4 L959.5 208.7 L960.5 209.0 L961.5 207.4 L962.5 206.7 L963.5 205.3 L964.5 205.2 L965.5 204.1 L966.5 203.3 L967.5 203.7 L968.5 203.1 L969.5 202.8 L970.5 201.7 L971.5 201.0 L972.5 200.7 L973.5 201.1 L974.5 200.7 L975.5 199.7 L976.5 199.9 L977.5 199.5 L978.5 198.8 L979.5 198.8 L980.5 198.2 L981.5 198.5 L982.5 197.7 L983.5 198.1 L984.5 197.0 L985.5 198.1 L986.5 197.7 L987.5 196.9 L988.5 196.5 L989.5 196.6 L990.5 197.1 L991.5 196.8 L992.5 197.2 L993.5 196.3 L994.5 196.5 L995.5 196.3 L996.5 195.7 L997.5 195.8 L998.5 196.2 L999.5 195.9 L1000.5 195.0 L1001.5 194.5 L1002.5 194.0 L1003.5 192.7 L1004.5 192.2 L1005.5 189.8 L1006.5 189.2 L1007.5 188.1 L1008.5 187.6 L1009.5 185.6 L1010.5 184.8 L1011.5 183.9 L1012.5 182.4 L1013.5 182.4 L1014.5 181.5 L1015.5 181.9 L1016.5 181.4 L1017.5 181.1 L1018.5 179.7 L1019.5 179.7 L1020.5 180.0 L1021.5 179.3 L1022.5 178.9 L1023.5 178.8 L1024.5 178.5 L1025.5 178.6 L1026.5 178.0 L1027.5 177.9 L1028.5 177.0 L1029.5 177.6 L1030.5 176.3 L1031.5 176.4 L1032.5 176.6 L1033.5 176.5 L1034.5 175.8 L1035.5 174.6 L1036.5 174.6 L1037.5 173.7 L1038.5 174.5 L1039.5 173.3 L1040.5 172.9 L1041.5 172.6 L1042.5 172.2 L1043.5 171.1 L1044.5 170.7 L1045.5 170.6 L1046.5 169.8 L1047.5 169.3 L1048.5 168.8 L1049.5 168.0 L1050.5 168.5 L1051.5 167.4 L1052.5 166.6 L1053.5 165.4 L1054.5 165.9 L1055.5 165.4 L1056.5 164.9 L1057.5 164.9 L1058.5 163.7 L1059.5 163.8 L1060.5 162.6 L1061.5 162.6 L1062.5 161.9 L1063.5 162.8 L1064.5 161.7 L1065.5 161.0 L1066.5 161.1 L1067.5 160.9 L1068.5 160.6 L1069.5 160.1 L1070.5 159.5 L1071.5 159.4 L1072.5 159.5 L1073.5 159.6 L1074.5 158.5 L1075.5 158.9 L1076.5 158.3 L1077.5 157.6 L1078.5 157.3 L1079.5 157.4 L1080.5 157.8 L1081.5 157.0 L1082.5 157.1 L1083.5 155.4 L1084.5 156.2 L1085.5 155.6 L1086.5 155.3 L1087.5 154.5 L1088.5 154.7 L1089.5 154.3 L1090.5 153.7 L1091.5 153.7 L1092.5 153.1 L1093.5 153.0 L1094.5 152.9 L1095.5 152.3 L1096.5 152.6 L1097.5 153.1 L1098.5 153.4 L1099.5 152.3 L1100.5 152.3 L1101.5 152.4 L1102.5 152.2 L1103.5 153.0 L1104.5 152.3 L1105.5 152.8 L1106.5 152.3 L1107.5 152.9 L1108.5 151.5 L1109.5 152.2 L1110.5 152.2 L1111.5 151.7 L1112.5 151.4 L1113.5 151.1 L1114.5 151.3 L1115.5 151.0 L1116.5 150.7 L1117.5 149.5 L1118.5 149.2 L1119.5 149.6 L1120.5 149.0 L1121.5 148.9 L1122.5 148.7 L1123.5 148.4 L1124.5 147.8 L1125.5 147.2 L1126.5 147.4 L1127.5 147.0 L1128.5 148.2 L1129.5 146.8 L1130.5 146.9 L1131.5 146.7 L1132.5 147.2 L1133.5 146.5 L1134.5 146.3 L1135.5 146.4 L1136.5 146.0 L1137.5 146.7 L1138.5 146.2 L1139.5 146.3 L1140.5 146.3 L1141.5 146.2 L1142.5 145.5 L1143.5 145.5 L1144.5 146.5 L1145.5 146.5 L1146.5 146.4 L1147.5 146.3 L1148.5 145.7 L1149.5 146.6 L1150.5 146.3 L1151.5 146.7 L1152.5 146.1 L1153.5 147.5 L1154.5 146.8 L1155.5 147.0 L1156.5 147.3 L1157.5 147.4 L1158.5 147.6 L1159.5 147.2 L1160.5 147.7 L1161.5 147.6 L1162.5 149.1 L1163.5 148.8 L1164.5 148.4 L1165.5 148.7 L1166.5 149.1 L1167.5 149.4 L1168.5 149.9 L1169.5 150.4 L1170.5 150.8 L1171.5 151.0 L1172.5 151.6 L1173.5 151.0 L1174.5 152.6 L1175.5 152.9 L1176.5 153.5 L1177.5 153.5 L1178.5 154.9 L1179.5 155.7 L1180.5 156.2 L1181.5 157.1 L1182.5 156.6 L1183.5 158.0 L1184.5 158.4 L1185.5 159.3 L1186.5 159.4 L1187.5 160.7 L1188.5 160.9 L1189.5 160.7 L1190.5 161.4 L1191.5 162.0 L1192.5 162.8 L1193.5 163.6 L1194.5 163.3 L1195.5 163.7 L1196.5 164.0 L1197.5 164.8 L1198.5 163.6 L1199.5 164.1 L1200.5 163.9 L1201.5 163.9 L1202.5 164.0 L1203.5 163.7 L1204.5 164.0 L1205.5 163.3 L1206.5 163.6 L1207.5 162.0 L1208.5 162.8 L1209.5 163.0 L1210.5 162.8 L1211.5 162.1 L1212.5 161.6 L1213.5 161.1 L1214.5 160.7 L1215.5 160.5 L1216.5 159.7 L1217.5 159.2 L1218.5 159.5 L1219.5 158.2 L1220.5 157.9 L1221.5 157.4 L1222.5 157.5 L1223.5 156.3 L1224.5 155.7 L1225.5 155.3 L1226.5 154.7 L1227.5 155.4 L1228.5 153.9 L1229.5 153.7 L1230.5 153.0 L1231.5 153.8 L1232.5 152.9 L1233.5 153.4 L1234.5 153.7 L1235.5 153.4 L1236.5 153.4 L1237.5 152.9 L1238.5 152.8 L1239.5 153.2 L1240.5 153.4 L1241.5 152.9 L1242.5 152.5 L1243.5 153.5 L1244.5 153.1 L1245.5 153.2 L1246.5 152.9 L1247.5 152.5 L1248.5 152.8 L1249.5 152.7 L1250.5 153.2 L1251.5 152.5 L1252.5 153.8 L1253.5 152.5 L1254.5 152.3 L1255.5 152.0 L1256.5 152.6 L1257.5 152.6 L1258.5 152.4 L1259.5 152.2 L1260.5 151.5 L1261.5 152.1 L1262.5 151.6 L1263.5 150.9 L1264.5 151.0 L1265.5 150.8 L1266.5 150.6 L1267.5 150.0 L1268.5 150.4 L1269.5 150.0 L1270.5 149.5 L1271.5 149.2 L1272.5 147.8 L1273.5 148.8 L1274.5 148.5 L1275.5 148.7 L1276.5 147.3 L1277.5 147.8 L1278.5 147.0 L1279.5 146.8 L1280.5 146.8 L1281.5 146.3 L1282.5 146.6 L1283.5 146.2 L1284.5 145.9 L1285.5 145.1 L1286.5 145.6 L1287.5 145.4 L1288.5 144.3 L1289.5 144.2 L1290.5 144.1 L1291.5 144.2 L1292.5 144.3 L1293.5 143.5 L1294.5 143.1 L1295.5 142.5 L1296.5 143.1 L1297.5 141.7 L1298.5 142.7 L1299.5 142.3 L1300.5 142.3 L1301.5 141.4 L1302.5 141.3 L1303.5 141.2 L1304.5 141.1 L1305.5 141.5 L1306.5 140.3 L1307.5 140.7 L1308.5 140.9 L1309.5 140.8 L1310.5 140.2 L1311.5 140.1 L1312.5 140.0 L1313.5 139.6 L1314.5 139.8 L1315.5 139.8 L1316.5 139.7 L1317.5 140.4 L1318.5 139.1 L1319.5 139.0 L1320.5 138.7 L1321.5 139.9 L1322.5 139.1 L1323.5 139.5 L1324.5 139.3 L1325.5 139.2 L1326.5 139.6 L1327.5 139.1 L1328.5 139.3 L1329.5 139.1 L1330.5 139.9 L1331.5 139.1 L1332.5 139.5 L1333.5 140.0 L1334.5 140.0 L1335.5 139.8 L1336.5 139.4 L1337.5 139.4 L1338.5 140.0 L1339.5 140.5 L1340.5 140.5 L1341.5 139.8 L1342.5 140.8 L1343.5 139.9 L1344.5 140.3 L1345.5 140.2 L1346.5 140.9 L1347.5 140.8 L1348.5 140.8 L1349.5 140.9 L1350.5 140.4 L1351.5 141.8 L1352.5 141.0 L1353.5 141.0 L1354.5 140.8 L1355.5 141.8 L1356.5 141.8 L1357.5 142.0 L1358.5 142.1 L1359.5 141.7 L1360.5 142.1 L1361.5 142.2 L1362.5 141.9 L1363.5 142.9 L1364.5 143.3 L1365.5 143.4 L1366.5 142.5 L1367.5 143.5 L1368.5 143.4 L1369.5 144.1 L1370.5 144.3 L1371.5 144.0 L1372.5 145.0 L1373.5 145.3 L1374.5 146.1 L1375.5 145.3 L1376.5 146.7 L1377.5 146.4 L1378.5 146.8 L1379.5 147.3 L1380.5 148.1 L1381.5 148.8 L1382.5 149.1 L1383.5 149.1 L1384.5 148.9 L1385.5 150.0 L1386.5 151.1 L1387.5 150.9 L1388.5 151.9 L1389.5 152.2 L1390.5 152.9 L1391.5 153.1 L1392.5 153.8 L1393.5 154.2 L1394.5 154.7 L1395.5 155.8 L1396.5 155.1 L1397.5 156.6 L1398.5 157.0 L1399.5 157.9 L1400.5 157.1 L1401.5 157.8 L1402.5 158.1 L1403.5 159.0 L1404.5 160.0 L1405.5 160.0 L1406.5 160.6 L1407.5 161.3 L1408.5 161.7 L1409.5 162.1 L1410.5 163.3 L1411.5 165.0 L1412.5 165.5 L1413.5 166.9 L1414.5 167.8 L1415.5 169.2 L1416.5 171.0 L1417.5 171.6 L1418.5 172.7 L1419.5 173.6 L1420.5 176.1 L1421.5 176.2 L1422.5 178.1 L1423.5 178.8 L1424.5 180.0 L1425.5 181.0 L1426.5 182.2 L1427.5 183.8 L1428.5 185.6 L1429.5 187.9 L1430.5 188.5 L1431.5 190.0 L1432.5 192.3 L1433.5 194.3 L1434.5 196.4 L1435.5 198.4 L1436.5 200.8 L1437.5 203.2 L1438.5 206.3 L1439.5 209.3 L1440.5 211.9 L1441.5 216.4 L1442.5 218.8 L1443.5 222.3 L1444.5 225.0 L1445.5 229.2 L1446.5 231.5 L1447.5 234.4 L1448.5 236.6 L1449.5 238.8 L1450.5 242.3 L1451.5 245.2 L1452.5 248.4 L1453.5 251.3 L1454.5 254.4 L1455.5 255.6 L1456.5 256.0 L1457.5 256.3 L1458.5 255.9 L1459.5 256.1 L1460.5 255.7 L1461.5 255.1 L1462.5 255.5 L1463.5 255.6 L1464.5 255.6 L1465.5 254.2 L1466.5 255.9 L1467.5 256.9 L1468.5 259.8 L1469.5 262.1 L1470.5 264.7 L1471.5 268.4 L1472.5 273.3 L1473.5 278.1 L1474.5 280.8 L1475.5 283.0 L1476.5 280.5 L1477.5 275.6 L1478.5 270.2 L1479.5 266.4 L1480.5 265.2 L1481.5 265.2 L1482.5 265.1 L1483.5 264.5 L1484.5 264.9 L1485.5 265.6 L1486.5 264.8 L1487.5 264.2 L1488.5 259.7 L1489.5 254.2 L1490.5 246.8 L1491.5 241.9 L1492.5 236.7 L1493.5 232.0 L1494.5 227.0 L1495.5 221.5 L1496.5 218.7 L1497.5 217.1 L1498.5 216.4 L1499.5 214.6 L1500.5 214.9 L1501.5 215.3 L1502.5 216.7 L1503.5 219.0 L1504.5 221.0 L1505.5 223.5 L1506.5 226.7 L1507.5 230.0 L1508.5 234.0 L1509.5 239.0 L1510.5 245.3 L1511.5 249.7 L1512.5 256.0 L1513.5 263.0 L1514.5 272.2 L1515.5 281.4 L1516.5 289.7 L1517.5 295.7 L1518.5 298.7 L1519.5 298.8 L1520.5 292.5 L1521.5 285.3 L1522.5 276.2 L1523.5 267.9 L1524.5 260.3 L1525.5 253.8 L1526.5 246.8 L1527.5 240.4 L1528.5 235.0 L1529.5 229.4 L1530.5 225.8 L1531.5 224.7 L1532.5 223.1 L1533.5 222.3 L1534.5 221.4 L1535.5 221.7 L1536.5 220.9 L1537.5 221.2 L1538.5 220.6 L1539.5 220.5 L1540.5 221.6 L1541.5 219.8 L1542.5 215.5 L1543.5 210.1 L1544.5 209.0 L1545.5 208.5 L1546.5 209.4 L1547.5 209.3 L1548.5 209.2 L1549.5 205.3 L1550.5 198.3 L1551.5 192.2 L1552.5 190.7 L1553.5 190.7 L1554.5 189.8 L1555.5 188.9 L1556.5 189.5 L1557.5 193.2 L1558.5 203.7 L1559.5 214.5 L1560.5 222.2 L1561.5 224.4 L1562.5 226.2 L1563.5 227.6 L1564.5 227.6 L1565.5 229.6 L1566.5 229.6 L1567.5 230.8 L1568.5 230.9 L1569.5 232.4 L1570.5 232.8 L1571.5 233.6 L1572.5 233.2 L1573.5 229.2 L1574.5 223.6 L1575.5 215.4 L1576.5 205.9 L1577.5 197.1 L1578.5 190.5 L1579.5 184.9 L1580.5 179.2 L1581.5 175.8 L1582.5 174.4 L1583.5 174.9 L1584.5 175.2 L1585.5 174.5 L1586.5 175.2 L1587.5 175.7 L1588.5 176.9 L1589.5 176.3 L1590.5 178.0 L1591.5 179.0 L1592.5 185.8 L1593.5 193.8 L1594.5 199.7 L1595.5 202.1 L1596.5 204.4 L1597.5 206.6 L1598.5 207.5 L1599.5 209.4 L1600.5 210.1 L1601.5 209.7 L1602.5 208.5 L1603.5 206.2 L1604.5 204.2 L1605.5 202.2 L1606.5 200.0 L1607.5 197.7 L1608.5 196.9 L1609.5 198.2 L1610.5 198.8 L1611.5 201.7 L1612.5 203.8 L1613.5 207.4 L1614.5 209.8 L1615.5 212.8 L1616.5 214.1 L1617.5 214.9 L1618.5 213.5 L1619.5 207.7 L1620.5 201.7 L1621.5 195.7 L1622.5 191.4 L1623.5 186.6 L1624.5 181.9 L1625.5 176.9 L1626.5 172.6 L1627.5 170.0 L1628.5 168.1 L1629.5 168.1 L1630.5 170.0 L1631.5 171.6 L1632.5 173.8 L1633.5 175.5 L1634.5 178.5 L1635.5 178.8 L1636.5 179.8 L1637.5 177.2 L1638.5 173.7 L1639.5 169.7 L1640.5 165.4 L1641.5 161.4 L1642.5 158.9 L1643.5 159.9 L1644.5 159.9 L1645.5 161.5 L1646.5 162.7 L1647.5 164.0 L1648.5 164.7 L1649.5 164.4 L1650.5 162.7 L1651.5 160.7 L1652.5 159.0 L1653.5 156.4 L1654.5 153.4 L1655.5 152.6 L1656.5 151.7 L1657.5 152.5 L1658.5 152.1 L1659.5 152.6 L1660.5 152.2 L1661.5 153.0 L1662.5 153.1 L1663.5 152.6 L1664.5 153.4 L1665.5 152.5 L1666.5 151.7 L1667.5 149.9 L1668.5 149.7 L1669.5 148.6 L1670.5 148.3 L1671.5 146.8 L1672.5 144.4 L1673.5 143.0 L1674.5 141.5 L1675.5 139.7 L1676.5 139.1 L1677.5 139.8 L1678.5 141.9 L1679.5 143.8 L1680.5 147.7 L1681.5 150.0 L1682.5 154.0 L1683.5 157.8 L1684.5 161.7 L1685.5 165.8 L1686.5 169.7 L1687.5 172.5 L1688.5 171.5 L1689.5 170.8 L1690.5 167.6 L1691.5 165.1 L1692.5 161.7 L1693.5 158.8 L1694.5 154.5 L1695.5 150.3 L1696.5 146.3 L1697.5 143.0 L1698.5 143.4 L1699.5 146.4 L1700.5 149.9 L1701.5 154.5 L1702.5 158.3 L1703.5 162.1 L1704.5 165.4 L1705.5 169.4 L1706.5 171.8 L1707.5 174.7 L1708.5 177.5 L1709.5 178.3 L1710.5 179.4 L1711.5 179.0 L1712.5 178.8 L1713.5 176.1 L1714.5 174.2 L1715.5 170.8 L1716.5 168.4 L1717.5 166.1 L1718.5 162.8 L1719.5 160.0 L1720.5 157.5 L1721.5 154.7 L1722.5 150.8 L1723.5 147.1 L1724.5 143.8 L1725.5 140.2 L1726.5 138.5 L1727.5 136.7 L1728.5 136.8 L1729.5 138.5 L1730.5 140.8 L1731.5 142.7 L1732.5 144.6 L1733.5 147.6 L1734.5 147.7 L1735.5 148.1 L1736.5 145.8 L1737.5 144.0 L1738.5 141.2 L1739.5 138.7 L1740.5 135.3 L1741.5 132.4 L1742.5 130.9 L1743.5 128.7 L1744.5 127.4 L1745.5 126.4 L1746.5 125.5 L1747.5 124.6 L1748.5 123.3 L1749.5 122.2 L1750.5 121.2 L1751.5 121.7 L1752.5 121.3 L1753.5 120.4 L1754.5 120.8 L1755.5 120.6 L1756.5 121.9 L1757.5 122.5 L1758.5 125.0 L1759.5 125.6 L1760.5 127.3 L1761.5 126.7 L1762.5 124.9 L1763.5 123.1 L1764.5 120.6 L1765.5 117.7 L1766.5 115.0 L1767.5 114.8 L1768.5 117.2 L1769.5 123.4 L1770.5 130.0 L1771.5 134.1 L1772.5 135.1 L1773.5 133.7 L1774.5 131.1 L1775.5 128.6 L1776.5 127.3 L1777.5 126.7 L1778.5 128.8 L1779.5 138.1 L1780.5 146.6 L1781.5 152.5 L1782.5 153.9 L1783.5 155.2 L1784.5 155.9 L1785.5 158.7 L1786.5 162.8 L1787.5 166.3 L1788.5 170.5 L1789.5 171.9 L1790.5 167.7 L1791.5 155.8 L1792.5 144.7 L1793.5 140.7 L1794.5 141.3 L1795.5 141.3 L1796.5 140.2 L1797.5 140.2 L1798.5 140.8 L1799.5 140.6 L1800.5 140.9 L1801.5 140.6 L1802.5 139.2 L1803.5 133.1 L1804.5 127.4 L1805.5 121.3 L1806.5 120.5 L1807.5 121.9 L1808.5 123.6 L1809.5 126.0 L1810.5 128.3 L1811.5 130.4 L1812.5 129.0 L1813.5 126.8 L1814.5 122.7 L1815.5 119.7 L1816.5 117.7 L1817.5 117.1 L1818.5 119.6 L1819.5 125.2 L1820.5 131.7 L1821.5 136.7 L1822.5 139.9 L1823.5 140.4 L1824.5 137.3 L1825.5 133.7 L1826.5 127.7 L1827.5 122.9 L1828.5 118.4 L1829.5 116.2 L1830.5 114.7 L1831.5 116.4 L1832.5 121.3 L1833.5 126.3 L1834.5 133.1 L1835.5 138.6 L1836.5 144.3 L1837.5 147.3 L1838.5 149.1 L1839.5 147.7 L1840.5 145.7 L1841.5 143.4 L1842.5 139.3 L1843.5 134.5 L1844.5 130.5 L1845.5 127.0 L1846.5 124.5 L1847.5 121.2 L1848.5 118.4 L1849.5 114.6 L1850.5 112.8 L1851.5 110.0 L1852.5 107.9 L1853.5 106.9 L1854.5 106.9 L1855.5 109.8 L1856.5 115.1 L1857.5 123.7 L1858.5 130.8 L1859.5 139.6 L1860.5 149.1 L1861.5 158.6 L1862.5 164.5 L1863.5 164.8 L1864.5 159.8 L1865.5 152.0 L1866.5 144.2 L1867.5 136.6 L1868.5 131.2 L1869.5 127.0 L1870.5 122.3 L1871.5 119.0 L1872.5 115.3 L1873.5 112.1 L1874.5 108.9 L1875.5 107.8 L1876.5 106.3 L1877.5 103.7 L1878.5 102.2 L1879.5 99.9 L1880.5 99.2 L1881.5 97.5 L1882.5 97.0 L1883.5 95.2 L1884.5 94.9 L1885.5 93.8 L1886.5 92.5 L1887.5 92.5 L1888.5 92.9 L1889.5 95.5 L1890.5 99.7 L1891.5 104.6 L1892.5 107.9 L1893.5 108.0 L1894.5 105.4 L1895.5 100.0 L1896.5 96.2 L1897.5 94.6 L1898.5 95.8 L1899.5 98.8 L1900.5 102.4 L1901.5 105.6 L1902.5 105.0 L1903.5 103.6 L1904.5 98.9 L1905.5 95.8 L1906.5 92.4 L1907.5 90.6 L1908.5 90.4 L1909.5 93.3 L1910.5 97.6 L1911.5 100.9 L1912.5 104.0 L1913.5 104.5 L1914.5 103.0 L1915.5 100.2 L1916.5 96.0 L1917.5 92.0 L1918.5 88.9 L1919.5 87.7 L1920.5 88.8 L1921.5 95.9 L1922.5 106.2 L1923.5 114.5 L1924.5 119.7 L1925.5 121.1 L1926.5 123.4 L1927.5 124.4 L1928.5 126.7 L1929.5 126.5 L1930.5 126.0 L1931.5 122.2 L1932.5 115.0 L1933.5 106.6 L1934.5 98.1 L1935.5 91.5 L1936.5 86.5 L1937.5 85.7 L1938.5 88.0 L1939.5 93.5 L1940.5 101.8 L1941.5 109.5 L1942.5 116.1 L1943.5 121.3 L1944.5 123.9 L1945.5 123.2 L1946.5 120.1 L1947.5 116.7 L1948.5 110.7 L1949.5 106.2 L1950.5 100.1 L1951.5 95.8 L1952.5 92.8 L1953.5 91.0 L1954.5 88.0 L1955.5 84.9 L1956.5 83.3 L1957.5 81.1 L1958.5 80.6 L1959.5 79.8 L1960.5 81.7 L1961.5 86.1 L1962.5 92.6 L1963.5 98.5 L1964.5 103.3 L1965.5 106.8 L1966.5 106.8 L1967.5 105.5 L1968.5 104.5 L1969.5 102.7 L1970.5 102.0 L1971.5 100.1 L1972.5 98.5 L1973.5 94.5 L1974.5 91.7 L1975.5 87.3 L1976.5 82.9 L1977.5 79.4 L1978.5 76.6 L1979.5 75.2 L1980.5 73.1 L1981.5 72.2 L1982.5 70.2 L1983.5 69.7 L1984.5 68.3 L1985.5 66.6 L1986.5 65.8 L1987.5 65.8 L1988.5 65.4 L1989.5 64.5 L1990.5 63.8 L1991.5 63.3 L1992.5 62.5 L1993.5 62.9 L1994.5 61.7 L1995.5 62.1 L1996.5 61.8 L1997.5 61.6 L1998.5 60.4 L1999.5 60.6 L2000.5 61.0 L2001.5 60.2 L2002.5 60.7 L2003.5 59.9 L2004.5 60.9 L2005.5 61.3 L2006.5 62.2 L2007.5 61.9 L2008.5 62.9 L2009.5 64.1 L2010.5 64.8 L2011.5 66.3 L2012.5 68.0 L2013.5 70.5 L2014.5 73.9 L2015.5 77.7 L2016.5 82.7 L2017.5 88.4 L2018.5 95.7 L2019.5 103.6 L2020.5 115.1 L2021.5 126.3 L2022.5 133.9 L2023.5 140.6 L2024.5 146.3 L2025.5 152.0 L2026.5 155.0 L2027.5 157.8 L2028.5 154.9 L2029.5 148.5 L2030.5 139.3 L2031.5 129.3 L2032.5 120.3 L2033.5 112.7 L2034.5 105.8 L2035.5 98.6 L2036.5 92.5 L2037.5 87.0 L2038.5 82.3 L2039.5 79.2 L2040.5 75.3 L2041.5 72.1 L2042.5 69.3 L2043.5 67.8 L2044.5 65.8 L2045.5 64.6 L2046.5 64.4 L2047.5 63.2 L2048.5 63.5 L2049.5 61.9 L2050.5 61.6 L2051.5 60.7 L2052.5 61.8 L2053.5 61.1 L2054.5 60.6 L2055.5 60.6 L2056.5 60.2 L2057.5 60.3 L2058.5 60.5 L2059.5 61.0 L2060.5 61.5 L2061.5 62.3 L2062.5 62.6 L2063.5 62.4 L2064.5 65.8 L2065.5 72.1 L2066.5 79.9 L2067.5 87.6 L2068.5 93.0 L2069.5 94.8 L2070.5 92.3 L2071.5 88.5 L2072.5 81.3 L2073.5 75.9 L2074.5 69.1 L2075.5 63.7 L2076.5 59.8 L2077.5 59.1 L2078.5 59.8 L2079.5 61.0 L2080.5 64.0 L2081.5 67.1 L2082.5 71.8 L2083.5 76.4 L2084.5 80.7 L2085.5 88.2 L2086.5 97.9 L2087.5 107.7 L2088.5 115.7 L2089.5 122.0 L2090.5 124.1 L2091.5 121.4 L2092.5 116.8 L2093.5 109.7 L2094.5 104.7 L2095.5 100.8 L2096.5 101.2 L2097.5 102.5 L2098.5 107.3 L2099.5 111.4 L2100.5 113.1 L2101.5 111.6 L2102.5 105.9 L2103.5 98.4 L2104.5 89.4 L2105.5 81.0 L2106.5 72.7 L2107.5 65.4 L2108.5 57.7 L2108.9 54.4 L2112.0 54.4" stroke="#008000"/>
</g>
<line x1="1455.5" y1="261.6" x2="1455.5" y2="972" stroke="#000" stroke-width="3" stroke-dasharray="12 6.93"/>
<line x1="1473.4" y1="281.2" x2="1473.4" y2="987" stroke="#000" stroke-width="3" stroke-dasharray="12 6.93"/>
<line x1="1520.2" y1="305.3" x2="1520.2" y2="1003" stroke="#000" stroke-width="3" stroke-dasharray="12 6.93"/>
<line x1="1569.4" y1="230.2" x2="1569.4" y2="914" stroke="#000" stroke-width="3" stroke-dasharray="12 6.93"/>
<line x1="1453.6" y1="1121.6" x2="1453.6" y2="1284" stroke="#000" stroke-width="3" stroke-dasharray="12 6.93"/>
<line x1="2008.3" y1="1236" x2="2008.3" y2="1399" stroke="#000" stroke-width="3" stroke-dasharray="12 6.93"/>
<path d="M504.4 1023.3 V1042.4 H824.4 V1023.3 M824.4 1042.4 h3.5" fill="none" stroke="#000" stroke-width="2.7"/>
<path d="M431.1 1373.4 V1391 H637.5 V1373.4 M637.5 1391 h4" fill="none" stroke="#000" stroke-width="2.7"/>
<line x1="1447" y1="985.5" x2="1432.6" y2="1008.3" stroke="#000" stroke-width="2.5"/><polygon points="1417.6,1034.4 1428.1,998.5 1432.6,1008.3 1443.7,1009" fill="#000"/>
<line x1="1467.2" y1="996.6" x2="1466.2" y2="1024" stroke="#000" stroke-width="2.5"/><polygon points="1464.6,1052.7 1456.1,1016.1 1466.2,1024 1475.7,1016.1" fill="#000"/>
<line x1="1519.4" y1="1003.1" x2="1540.9" y2="1014.8" stroke="#000" stroke-width="2.5"/><polygon points="1567.7,1024.6 1538.3,1001.1 1540.9,1014.8 1530.5,1018.1" fill="#000"/>
<line x1="1564.4" y1="938.5" x2="1577.5" y2="961.3" stroke="#000" stroke-width="2.5"/><polygon points="1589.2,989.4 1581.4,952.2 1577.5,961.3 1565.1,960.7" fill="#000"/>
<text class="b" transform="translate(209.43 180.00) scale(1 1.038)" font-size="46.7">L-lysine</text>
<text class="b" transform="translate(200.63 517.70) scale(1 1.038)" font-size="46.7">PACoM@Lys</text>
<text class="b" transform="translate(200.63 856.70) scale(1 1.038)" font-size="46.7">PACo@Lys</text>
<text class="b" transform="translate(209.43 1127.00) scale(1 1.038)" font-size="46.7">PACoM</text>
<text class="b" transform="translate(205.63 1391.00) scale(1 1.038)" font-size="46.7">PACo</text>
<text class="b" transform="translate(612.37 1092.00) scale(1 1.038)" font-size="39">D</text>
<text class="b" transform="translate(514.73 1432.50) scale(1 1.038)" font-size="39">A</text>
<text class="b" transform="translate(1439.37 1355.40) scale(1 1.038)" font-size="39">B</text>
<text class="b" transform="translate(1962.54 1439.00) scale(1 1.038)" font-size="39">C</text>
<text class="b" transform="translate(1386.47 1066.00) scale(1 1.038)" font-size="39">E</text>
<text class="b" transform="translate(1454.47 1089.60) scale(1 1.038)" font-size="39">F</text>
<text class="b" transform="translate(1572.64 1046.70) scale(1 1.038)" font-size="39">G</text>
<text class="b" transform="translate(1596.57 1004.00) scale(1 1.038)" font-size="39">H</text>
</svg></body></html>
